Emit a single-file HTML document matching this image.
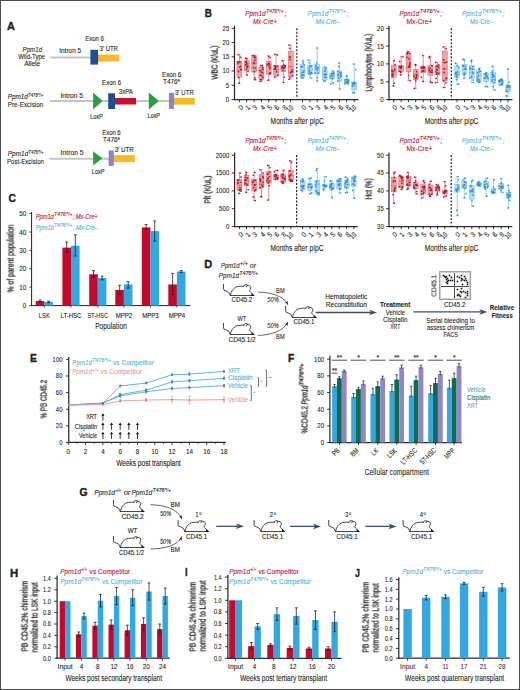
<!DOCTYPE html>
<html><head><meta charset="utf-8"><title>Figure</title>
<style>
html,body{margin:0;padding:0;background:#fff;}
body{width:520px;height:690px;overflow:hidden;}
svg{display:block;position:absolute;left:0;top:0;font-family:"Liberation Sans", sans-serif;}
#w{position:relative;width:520px;height:690px;overflow:hidden;font-family:"Liberation Sans", sans-serif;color:#231f20;}
.t{position:absolute;line-height:1;white-space:nowrap;}
</style></head>
<body>
<div id="w">
<svg width="520" height="690" viewBox="0 0 520 690" fill="#231f20">
<rect x="0.5" y="0.5" width="519" height="689" fill="#fff" stroke="#4d4d4d" stroke-width="1"/>
<text letter-spacing="0.11" font-size="10.4" font-weight="bold" stroke="#231f20" stroke-width="0.35" transform="translate(7 30.2) scale(1.05 1)">A</text>
<text letter-spacing="0.11" font-size="6.7" font-style="italic" stroke="#231f20" stroke-width="0.1" transform="translate(22.55 51.8) scale(0.90 1)">Ppm1d</text>
<text letter-spacing="0.03" font-size="6.7" stroke="#231f20" stroke-width="0.1" transform="translate(18.2 59.4) scale(0.90 1)">Wild-Type</text>
<text x="24.2" y="66.4" letter-spacing="-0.08" font-size="6.7" stroke="#231f20" stroke-width="0.1">Allele</text>
<line x1="50.4" y1="57.4" x2="91" y2="57.4" stroke="#c2c4ca" stroke-width="2"/>
<text letter-spacing="0.06" font-size="6.7" stroke="#231f20" stroke-width="0.1" transform="translate(59.2 53.2) scale(0.95 1)">Intron 5</text>
<rect x="98" y="54.6" width="21.2" height="6.9" fill="#f7b924"/>
<rect x="90.4" y="49.8" width="7.7" height="14.8" fill="#1d4f91"/>
<text letter-spacing="-0.06" font-size="6.7" stroke="#231f20" stroke-width="0.1" transform="translate(85.35 41.1) scale(0.90 1)">Exon 6</text>
<text letter-spacing="-0.04" font-size="6.7" stroke="#231f20" stroke-width="0.1" transform="translate(99.6 50.8) scale(0.90 1)">3' UTR</text>
<text letter-spacing="-0.04" font-size="6.7" font-style="italic" stroke="#231f20" stroke-width="0.1" transform="translate(7.8 99.1) scale(0.95 1)">Ppm1d</text>
<text letter-spacing="0.05" font-size="4.42" font-style="italic" stroke="#231f20" stroke-width="0.1" transform="translate(28.1 96.62) scale(0.95 1)">T476*/+</text>
<text letter-spacing="-0.02" font-size="6.7" stroke="#231f20" stroke-width="0.1" transform="translate(7.8 106.9) scale(0.95 1)">Pre-Excision</text>
<line x1="50" y1="101" x2="169.5" y2="101" stroke="#c2c4ca" stroke-width="2"/>
<text x="60.55" y="97.5" letter-spacing="-0.03" font-size="6.7" stroke="#231f20" stroke-width="0.1">Intron 5</text>
<path d="M93.1 92.4 L102.6 101.0 L93.1 109.6 Z" fill="#2b9e43"/>
<rect x="115" y="98" width="21" height="6.5" fill="#c8102e"/>
<rect x="108.2" y="93.3" width="6.8" height="15.7" fill="#1d4f91"/>
<text letter-spacing="0.01" font-size="6.7" stroke="#231f20" stroke-width="0.1" transform="translate(118.8 94.3) scale(0.90 1)">3xPA</text>
<text letter-spacing="0.05" font-size="6.7" stroke="#231f20" stroke-width="0.1" transform="translate(102.1 84.6) scale(0.90 1)">Exon 6</text>
<text letter-spacing="-0.15" font-size="6.7" stroke="#231f20" stroke-width="0.1" transform="translate(90.3 118.5) scale(0.85 1)">LoxP</text>
<path d="M148.8 92.6 L158.9 101.0 L148.8 109.4 Z" fill="#2b9e43"/>
<text letter-spacing="-0.15" font-size="6.7" stroke="#231f20" stroke-width="0.1" transform="translate(147.5 118.3) scale(0.85 1)">LoxP</text>
<rect x="173.6" y="98" width="21.2" height="6.6" fill="#f7b924"/>
<rect x="169.2" y="93.1" width="4.5" height="15.5" fill="#8a86c8" stroke="#6a64a8" stroke-width="0.5"/>
<text letter-spacing="0.09" font-size="6.7" stroke="#231f20" stroke-width="0.1" transform="translate(174.9 94.9) scale(0.90 1)">3' UTR</text>
<text letter-spacing="-0.09" font-size="6.7" stroke="#231f20" stroke-width="0.1" transform="translate(162 76.9) scale(0.95 1)">Exon 6</text>
<text font-size="6.7" stroke="#231f20" stroke-width="0.1" transform="translate(163 83.9) scale(0.95 1)">T476*</text>
<text letter-spacing="0.11" font-size="6.7" font-style="italic" stroke="#231f20" stroke-width="0.1" transform="translate(7.7 156) scale(0.95 1)">Ppm1d</text>
<text letter-spacing="0.01" font-size="4.42" font-style="italic" stroke="#231f20" stroke-width="0.1" transform="translate(28.6 153.52) scale(0.95 1)">T476*/+</text>
<text letter-spacing="0.04" font-size="6.7" stroke="#231f20" stroke-width="0.1" transform="translate(7 163.8) scale(0.90 1)">Post-Excision</text>
<line x1="49.6" y1="158.7" x2="110" y2="158.7" stroke="#c2c4ca" stroke-width="2"/>
<text x="60.6" y="154.8" letter-spacing="0.04" font-size="6.7" stroke="#231f20" stroke-width="0.1">Intron 5</text>
<path d="M93.1 151.2 L102.4 158.3 L93.1 165.4 Z" fill="#2b9e43"/>
<rect x="113" y="155.2" width="22" height="6.9" fill="#f7b924"/>
<rect x="109" y="150.9" width="4.3" height="14.6" fill="#8a86c8" stroke="#6a64a8" stroke-width="0.5"/>
<text letter-spacing="-0.08" font-size="6.7" stroke="#231f20" stroke-width="0.1" transform="translate(102.3 134.8) scale(0.90 1)">Exon 6</text>
<text font-size="6.7" stroke="#231f20" stroke-width="0.1" transform="translate(103 141.9) scale(0.95 1)">T476*</text>
<text letter-spacing="-0.09" font-size="6.7" stroke="#231f20" stroke-width="0.1" transform="translate(114.8 152.1) scale(0.95 1)">3' UTR</text>
<text letter-spacing="-0.11" font-size="6.7" stroke="#231f20" stroke-width="0.1" transform="translate(91.85 174.3) scale(0.85 1)">LoxP</text>
<text x="8.6" y="202.3" letter-spacing="-0.01" font-size="10.4" font-weight="bold" stroke="#231f20" stroke-width="0.35">C</text>
<line x1="31.6" y1="212" x2="31.6" y2="306.1" stroke="#231f20" stroke-width="1"/>
<line x1="31.1" y1="305.6" x2="190.3" y2="305.6" stroke="#231f20" stroke-width="1"/>
<line x1="29.3" y1="305.6" x2="31.6" y2="305.6" stroke="#231f20" stroke-width="0.8"/>
<text letter-spacing="0.11" font-size="7" stroke="#231f20" stroke-width="0.1" transform="translate(22.8 308.1) scale(0.85 1)">0</text>
<line x1="29.3" y1="287.2" x2="31.6" y2="287.2" stroke="#231f20" stroke-width="0.8"/>
<text font-size="7" stroke="#231f20" stroke-width="0.1" transform="translate(19.2 289.7) scale(0.90 1)">10</text>
<line x1="29.3" y1="268.8" x2="31.6" y2="268.8" stroke="#231f20" stroke-width="0.8"/>
<text font-size="7" stroke="#231f20" stroke-width="0.1" transform="translate(19.2 271.3) scale(0.90 1)">20</text>
<line x1="29.3" y1="250.4" x2="31.6" y2="250.4" stroke="#231f20" stroke-width="0.8"/>
<text font-size="7" stroke="#231f20" stroke-width="0.1" transform="translate(19.2 252.9) scale(0.90 1)">30</text>
<line x1="29.3" y1="232" x2="31.6" y2="232" stroke="#231f20" stroke-width="0.8"/>
<text font-size="7" stroke="#231f20" stroke-width="0.1" transform="translate(19.2 234.5) scale(0.90 1)">40</text>
<line x1="29.3" y1="213.6" x2="31.6" y2="213.6" stroke="#231f20" stroke-width="0.8"/>
<text font-size="7" stroke="#231f20" stroke-width="0.1" transform="translate(19.2 216.1) scale(0.90 1)">50</text>
<text letter-spacing="-0.09" font-size="6.8" font-style="italic" fill="#c40a2c" stroke="#c40a2c" stroke-width="0.1" transform="translate(35.8 218.7) scale(0.85 1)">Ppm1d</text>
<text letter-spacing="0.04" font-size="4.49" font-style="italic" fill="#c40a2c" stroke="#c40a2c" stroke-width="0.1" transform="translate(54.1 216.18) scale(1.15 1)">T476*/+</text>
<text letter-spacing="-0.08" font-size="6.8" font-style="italic" fill="#c40a2c" stroke="#c40a2c" stroke-width="0.1" transform="translate(72.8 218.7) scale(0.85 1)">; Mx-Cre+</text>
<text letter-spacing="-0.09" font-size="6.8" font-style="italic" fill="#4db0e4" stroke="#4db0e4" stroke-width="0.1" transform="translate(35.8 229.5) scale(0.85 1)">Ppm1d</text>
<text letter-spacing="0.04" font-size="4.49" font-style="italic" fill="#4db0e4" stroke="#4db0e4" stroke-width="0.1" transform="translate(54.1 226.98) scale(1.15 1)">T476*/+</text>
<text letter-spacing="-0.05" font-size="6.8" font-style="italic" fill="#4db0e4" stroke="#4db0e4" stroke-width="0.1" transform="translate(72.8 229.5) scale(0.85 1)">; Mx-Cre–</text>
<rect x="35.7" y="301" width="8.6" height="4.6" fill="#c40a2c"/>
<rect x="44.3" y="301.92" width="8.6" height="3.68" fill="#33a7e2"/>
<line x1="40" y1="300.08" x2="40" y2="301.92" stroke="#222" stroke-width="0.8"/>
<line x1="38.5" y1="300.08" x2="41.5" y2="300.08" stroke="#222" stroke-width="0.8"/>
<line x1="38.5" y1="301.92" x2="41.5" y2="301.92" stroke="#222" stroke-width="0.8"/>
<line x1="48.6" y1="301.18" x2="48.6" y2="302.66" stroke="#222" stroke-width="0.8"/>
<line x1="47.1" y1="301.18" x2="50.1" y2="301.18" stroke="#222" stroke-width="0.8"/>
<line x1="47.1" y1="302.66" x2="50.1" y2="302.66" stroke="#222" stroke-width="0.8"/>
<line x1="44.3" y1="305.6" x2="44.3" y2="307.6" stroke="#231f20" stroke-width="0.8"/>
<text letter-spacing="0.04" font-size="6.8" stroke="#231f20" stroke-width="0.1" transform="translate(38.8 317.9) scale(0.85 1)">LSK</text>
<rect x="62.4" y="247.64" width="8.6" height="57.96" fill="#c40a2c"/>
<rect x="71" y="245.8" width="8.6" height="59.8" fill="#33a7e2"/>
<line x1="66.7" y1="242.12" x2="66.7" y2="252.24" stroke="#222" stroke-width="0.8"/>
<line x1="65.2" y1="242.12" x2="68.2" y2="242.12" stroke="#222" stroke-width="0.8"/>
<line x1="65.2" y1="252.24" x2="68.2" y2="252.24" stroke="#222" stroke-width="0.8"/>
<line x1="75.3" y1="234.76" x2="75.3" y2="255.92" stroke="#222" stroke-width="0.8"/>
<line x1="73.8" y1="234.76" x2="76.8" y2="234.76" stroke="#222" stroke-width="0.8"/>
<line x1="73.8" y1="255.92" x2="76.8" y2="255.92" stroke="#222" stroke-width="0.8"/>
<line x1="71" y1="305.6" x2="71" y2="307.6" stroke="#231f20" stroke-width="0.8"/>
<text letter-spacing="-0.07" font-size="6.8" stroke="#231f20" stroke-width="0.1" transform="translate(60.5 317.9) scale(0.90 1)">LT-HSC</text>
<rect x="89.2" y="274.32" width="8.6" height="31.28" fill="#c40a2c"/>
<rect x="97.8" y="278" width="8.6" height="27.6" fill="#33a7e2"/>
<line x1="93.5" y1="270.64" x2="93.5" y2="277.08" stroke="#222" stroke-width="0.8"/>
<line x1="92" y1="270.64" x2="95" y2="270.64" stroke="#222" stroke-width="0.8"/>
<line x1="92" y1="277.08" x2="95" y2="277.08" stroke="#222" stroke-width="0.8"/>
<line x1="102.1" y1="276.16" x2="102.1" y2="279.84" stroke="#222" stroke-width="0.8"/>
<line x1="100.6" y1="276.16" x2="103.6" y2="276.16" stroke="#222" stroke-width="0.8"/>
<line x1="100.6" y1="279.84" x2="103.6" y2="279.84" stroke="#222" stroke-width="0.8"/>
<line x1="97.8" y1="305.6" x2="97.8" y2="307.6" stroke="#231f20" stroke-width="0.8"/>
<text letter-spacing="0.14" font-size="6.8" stroke="#231f20" stroke-width="0.1" transform="translate(87.55 317.9) scale(0.80 1)">ST-HSC</text>
<rect x="115.3" y="289.96" width="8.6" height="15.64" fill="#c40a2c"/>
<rect x="123.9" y="284.44" width="8.6" height="21.16" fill="#33a7e2"/>
<line x1="119.6" y1="285.36" x2="119.6" y2="294.56" stroke="#222" stroke-width="0.8"/>
<line x1="118.1" y1="285.36" x2="121.1" y2="285.36" stroke="#222" stroke-width="0.8"/>
<line x1="118.1" y1="294.56" x2="121.1" y2="294.56" stroke="#222" stroke-width="0.8"/>
<line x1="128.2" y1="281.68" x2="128.2" y2="288.12" stroke="#222" stroke-width="0.8"/>
<line x1="126.7" y1="281.68" x2="129.7" y2="281.68" stroke="#222" stroke-width="0.8"/>
<line x1="126.7" y1="288.12" x2="129.7" y2="288.12" stroke="#222" stroke-width="0.8"/>
<line x1="123.9" y1="305.6" x2="123.9" y2="307.6" stroke="#231f20" stroke-width="0.8"/>
<text letter-spacing="-0.06" font-size="6.8" stroke="#231f20" stroke-width="0.1" transform="translate(115.65 317.9) scale(0.90 1)">MPP2</text>
<rect x="141.8" y="227.4" width="8.6" height="78.2" fill="#c40a2c"/>
<rect x="150.4" y="231.08" width="8.6" height="74.52" fill="#33a7e2"/>
<line x1="146.1" y1="224.64" x2="146.1" y2="229.24" stroke="#222" stroke-width="0.8"/>
<line x1="144.6" y1="224.64" x2="147.6" y2="224.64" stroke="#222" stroke-width="0.8"/>
<line x1="144.6" y1="229.24" x2="147.6" y2="229.24" stroke="#222" stroke-width="0.8"/>
<line x1="154.7" y1="220.96" x2="154.7" y2="241.2" stroke="#222" stroke-width="0.8"/>
<line x1="153.2" y1="220.96" x2="156.2" y2="220.96" stroke="#222" stroke-width="0.8"/>
<line x1="153.2" y1="241.2" x2="156.2" y2="241.2" stroke="#222" stroke-width="0.8"/>
<line x1="150.4" y1="305.6" x2="150.4" y2="307.6" stroke="#231f20" stroke-width="0.8"/>
<text letter-spacing="-0.06" font-size="6.8" stroke="#231f20" stroke-width="0.1" transform="translate(142.15 317.9) scale(0.90 1)">MPP3</text>
<rect x="168.3" y="284.44" width="8.6" height="21.16" fill="#c40a2c"/>
<rect x="176.9" y="271.56" width="8.6" height="34.04" fill="#33a7e2"/>
<line x1="172.6" y1="273.4" x2="172.6" y2="294.56" stroke="#222" stroke-width="0.8"/>
<line x1="171.1" y1="273.4" x2="174.1" y2="273.4" stroke="#222" stroke-width="0.8"/>
<line x1="171.1" y1="294.56" x2="174.1" y2="294.56" stroke="#222" stroke-width="0.8"/>
<line x1="181.2" y1="270.64" x2="181.2" y2="272.48" stroke="#222" stroke-width="0.8"/>
<line x1="179.7" y1="270.64" x2="182.7" y2="270.64" stroke="#222" stroke-width="0.8"/>
<line x1="179.7" y1="272.48" x2="182.7" y2="272.48" stroke="#222" stroke-width="0.8"/>
<line x1="176.9" y1="305.6" x2="176.9" y2="307.6" stroke="#231f20" stroke-width="0.8"/>
<text letter-spacing="-0.06" font-size="6.8" stroke="#231f20" stroke-width="0.1" transform="translate(168.65 317.9) scale(0.90 1)">MPP4</text>
<text letter-spacing="0.08" font-size="8.8" stroke="#231f20" stroke-width="0.1" transform="translate(95.15 328.6) scale(0.75 1)">Population</text>
<text letter-spacing="0.17" font-size="10.4" font-weight="bold" stroke="#231f20" stroke-width="0.35" transform="translate(204.8 16.6) scale(0.95 1)">B</text>
<line x1="234.5" y1="25.8" x2="234.5" y2="100.2" stroke="#2a2a2a" stroke-width="1.25"/>
<line x1="233.9" y1="99.6" x2="358.5" y2="99.6" stroke="#2a2a2a" stroke-width="1.25"/>
<line x1="231.6" y1="99.6" x2="234.5" y2="99.6" stroke="#231f20" stroke-width="0.9"/>
<text letter-spacing="0.11" font-size="7" stroke="#231f20" stroke-width="0.1" transform="translate(225.8 102) scale(0.85 1)">0</text>
<line x1="231.6" y1="85.3" x2="234.5" y2="85.3" stroke="#231f20" stroke-width="0.9"/>
<text letter-spacing="0.11" font-size="7" stroke="#231f20" stroke-width="0.1" transform="translate(225.8 87.7) scale(0.85 1)">5</text>
<line x1="231.6" y1="71" x2="234.5" y2="71" stroke="#231f20" stroke-width="0.9"/>
<text letter-spacing="0.21" font-size="7" stroke="#231f20" stroke-width="0.1" transform="translate(222.4 73.4) scale(0.85 1)">10</text>
<line x1="231.6" y1="56.8" x2="234.5" y2="56.8" stroke="#231f20" stroke-width="0.9"/>
<text letter-spacing="0.21" font-size="7" stroke="#231f20" stroke-width="0.1" transform="translate(222.4 59.2) scale(0.85 1)">15</text>
<line x1="231.6" y1="42.5" x2="234.5" y2="42.5" stroke="#231f20" stroke-width="0.9"/>
<text letter-spacing="0.21" font-size="7" stroke="#231f20" stroke-width="0.1" transform="translate(222.4 44.9) scale(0.85 1)">20</text>
<line x1="231.6" y1="28.4" x2="234.5" y2="28.4" stroke="#231f20" stroke-width="0.9"/>
<text letter-spacing="0.21" font-size="7" stroke="#231f20" stroke-width="0.1" transform="translate(222.4 30.8) scale(0.85 1)">25</text>
<line x1="239.4" y1="99.6" x2="239.4" y2="102.2" stroke="#231f20" stroke-width="0.9"/>
<line x1="246.7" y1="99.6" x2="246.7" y2="102.2" stroke="#231f20" stroke-width="0.9"/>
<line x1="254.1" y1="99.6" x2="254.1" y2="102.2" stroke="#231f20" stroke-width="0.9"/>
<line x1="261.4" y1="99.6" x2="261.4" y2="102.2" stroke="#231f20" stroke-width="0.9"/>
<line x1="268.8" y1="99.6" x2="268.8" y2="102.2" stroke="#231f20" stroke-width="0.9"/>
<line x1="276.1" y1="99.6" x2="276.1" y2="102.2" stroke="#231f20" stroke-width="0.9"/>
<line x1="283.4" y1="99.6" x2="283.4" y2="102.2" stroke="#231f20" stroke-width="0.9"/>
<line x1="290.7" y1="99.6" x2="290.7" y2="102.2" stroke="#231f20" stroke-width="0.9"/>
<line x1="302.5" y1="99.6" x2="302.5" y2="102.2" stroke="#231f20" stroke-width="0.9"/>
<line x1="310" y1="99.6" x2="310" y2="102.2" stroke="#231f20" stroke-width="0.9"/>
<line x1="317.2" y1="99.6" x2="317.2" y2="102.2" stroke="#231f20" stroke-width="0.9"/>
<line x1="324.7" y1="99.6" x2="324.7" y2="102.2" stroke="#231f20" stroke-width="0.9"/>
<line x1="332" y1="99.6" x2="332" y2="102.2" stroke="#231f20" stroke-width="0.9"/>
<line x1="339.5" y1="99.6" x2="339.5" y2="102.2" stroke="#231f20" stroke-width="0.9"/>
<line x1="346.7" y1="99.6" x2="346.7" y2="102.2" stroke="#231f20" stroke-width="0.9"/>
<line x1="354.2" y1="99.6" x2="354.2" y2="102.2" stroke="#231f20" stroke-width="0.9"/>
<line x1="296.8" y1="28.3" x2="296.8" y2="98.6" stroke="#262626" stroke-width="1.2" stroke-dasharray="2 1.5"/>
<line x1="239.4" y1="54.6" x2="239.4" y2="83.2" stroke="#d8404c" stroke-width="0.6"/>
<line x1="238.2" y1="54.6" x2="240.6" y2="54.6" stroke="#d8404c" stroke-width="0.6"/>
<line x1="238.2" y1="83.2" x2="240.6" y2="83.2" stroke="#d8404c" stroke-width="0.6"/>
<rect x="236.9" y="61.2" width="5" height="15.9" fill="#f2a0a0" stroke="#d8404c" stroke-width="0.35"/>
<line x1="236.9" y1="70.2" x2="241.9" y2="70.2" stroke="#d8404c" stroke-width="0.6"/>
<circle cx="237.93" cy="54.6" r="0.85" fill="#b8142f"/>
<circle cx="239.13" cy="83.2" r="0.85" fill="#b8142f"/>
<circle cx="240.58" cy="66.35" r="0.85" fill="#b8142f"/>
<circle cx="238.05" cy="63.6" r="0.85" fill="#b8142f"/>
<circle cx="238.4" cy="71.55" r="0.85" fill="#b8142f"/>
<circle cx="239.86" cy="62.35" r="0.85" fill="#b8142f"/>
<circle cx="241.01" cy="69.72" r="0.85" fill="#b8142f"/>
<circle cx="239.68" cy="67.01" r="0.85" fill="#b8142f"/>
<circle cx="239.03" cy="62.12" r="0.85" fill="#b8142f"/>
<circle cx="241.11" cy="69.27" r="0.85" fill="#b8142f"/>
<circle cx="237.77" cy="61.8" r="0.85" fill="#b8142f"/>
<circle cx="240.69" cy="57.46" r="0.85" fill="#b8142f"/>
<circle cx="238.64" cy="77.53" r="0.85" fill="#b8142f"/>
<line x1="246.7" y1="58.4" x2="246.7" y2="75" stroke="#d8404c" stroke-width="0.6"/>
<line x1="245.5" y1="58.4" x2="247.9" y2="58.4" stroke="#d8404c" stroke-width="0.6"/>
<line x1="245.5" y1="75" x2="247.9" y2="75" stroke="#d8404c" stroke-width="0.6"/>
<rect x="244.2" y="60.7" width="5" height="10.3" fill="#f2a0a0" stroke="#d8404c" stroke-width="0.35"/>
<line x1="244.2" y1="65.3" x2="249.2" y2="65.3" stroke="#d8404c" stroke-width="0.6"/>
<circle cx="245.64" cy="58.4" r="0.85" fill="#b8142f"/>
<circle cx="247.35" cy="75" r="0.85" fill="#b8142f"/>
<circle cx="246.44" cy="62.19" r="0.85" fill="#b8142f"/>
<circle cx="246.03" cy="61.91" r="0.85" fill="#b8142f"/>
<circle cx="247.01" cy="63.88" r="0.85" fill="#b8142f"/>
<circle cx="246.53" cy="69.11" r="0.85" fill="#b8142f"/>
<circle cx="245.98" cy="62.56" r="0.85" fill="#b8142f"/>
<circle cx="247.76" cy="66.69" r="0.85" fill="#b8142f"/>
<circle cx="247.42" cy="67.28" r="0.85" fill="#b8142f"/>
<circle cx="245.78" cy="64.54" r="0.85" fill="#b8142f"/>
<circle cx="246.97" cy="66.34" r="0.85" fill="#b8142f"/>
<circle cx="246.79" cy="58.54" r="0.85" fill="#b8142f"/>
<circle cx="248.05" cy="71.24" r="0.85" fill="#b8142f"/>
<line x1="254.1" y1="55.5" x2="254.1" y2="79.7" stroke="#d8404c" stroke-width="0.6"/>
<line x1="252.9" y1="55.5" x2="255.3" y2="55.5" stroke="#d8404c" stroke-width="0.6"/>
<line x1="252.9" y1="79.7" x2="255.3" y2="79.7" stroke="#d8404c" stroke-width="0.6"/>
<rect x="251.6" y="55.5" width="5" height="16.5" fill="#f2a0a0" stroke="#d8404c" stroke-width="0.35"/>
<line x1="251.6" y1="63.3" x2="256.6" y2="63.3" stroke="#d8404c" stroke-width="0.6"/>
<circle cx="254.36" cy="55.5" r="0.85" fill="#b8142f"/>
<circle cx="255.45" cy="79.7" r="0.85" fill="#b8142f"/>
<circle cx="253.43" cy="67.54" r="0.85" fill="#b8142f"/>
<circle cx="254.8" cy="60.25" r="0.85" fill="#b8142f"/>
<circle cx="254.44" cy="71.67" r="0.85" fill="#b8142f"/>
<circle cx="254.39" cy="57.45" r="0.85" fill="#b8142f"/>
<circle cx="253.94" cy="62.4" r="0.85" fill="#b8142f"/>
<circle cx="255.32" cy="67.99" r="0.85" fill="#b8142f"/>
<circle cx="255.7" cy="58.01" r="0.85" fill="#b8142f"/>
<circle cx="254.01" cy="63.57" r="0.85" fill="#b8142f"/>
<circle cx="254.69" cy="56.15" r="0.85" fill="#b8142f"/>
<circle cx="252.52" cy="55.5" r="0.85" fill="#b8142f"/>
<circle cx="254.83" cy="77.89" r="0.85" fill="#b8142f"/>
<line x1="261.4" y1="65.3" x2="261.4" y2="81.4" stroke="#d8404c" stroke-width="0.6"/>
<line x1="260.2" y1="65.3" x2="262.6" y2="65.3" stroke="#d8404c" stroke-width="0.6"/>
<line x1="260.2" y1="81.4" x2="262.6" y2="81.4" stroke="#d8404c" stroke-width="0.6"/>
<rect x="258.9" y="67" width="5" height="12.7" fill="#f2a0a0" stroke="#d8404c" stroke-width="0.35"/>
<line x1="258.9" y1="70.2" x2="263.9" y2="70.2" stroke="#d8404c" stroke-width="0.6"/>
<circle cx="262.37" cy="65.3" r="0.85" fill="#b8142f"/>
<circle cx="260.07" cy="81.4" r="0.85" fill="#b8142f"/>
<circle cx="260.49" cy="75.22" r="0.85" fill="#b8142f"/>
<circle cx="261.01" cy="79.61" r="0.85" fill="#b8142f"/>
<circle cx="262.74" cy="77.44" r="0.85" fill="#b8142f"/>
<circle cx="259.89" cy="70.61" r="0.85" fill="#b8142f"/>
<circle cx="261.22" cy="71.9" r="0.85" fill="#b8142f"/>
<circle cx="261.58" cy="75.49" r="0.85" fill="#b8142f"/>
<circle cx="262.78" cy="67.29" r="0.85" fill="#b8142f"/>
<circle cx="262.55" cy="72.86" r="0.85" fill="#b8142f"/>
<circle cx="262.71" cy="69.13" r="0.85" fill="#b8142f"/>
<circle cx="260.6" cy="65.5" r="0.85" fill="#b8142f"/>
<circle cx="261.1" cy="79.8" r="0.85" fill="#b8142f"/>
<line x1="268.8" y1="56" x2="268.8" y2="80.2" stroke="#d8404c" stroke-width="0.6"/>
<line x1="267.6" y1="56" x2="270" y2="56" stroke="#d8404c" stroke-width="0.6"/>
<line x1="267.6" y1="80.2" x2="270" y2="80.2" stroke="#d8404c" stroke-width="0.6"/>
<rect x="266.3" y="61.5" width="5" height="12.5" fill="#f2a0a0" stroke="#d8404c" stroke-width="0.35"/>
<line x1="266.3" y1="65.9" x2="271.3" y2="65.9" stroke="#d8404c" stroke-width="0.6"/>
<circle cx="268.51" cy="56" r="0.85" fill="#b8142f"/>
<circle cx="268.33" cy="80.2" r="0.85" fill="#b8142f"/>
<circle cx="269.04" cy="65.98" r="0.85" fill="#b8142f"/>
<circle cx="270.43" cy="72.55" r="0.85" fill="#b8142f"/>
<circle cx="269.49" cy="73.47" r="0.85" fill="#b8142f"/>
<circle cx="268.86" cy="63.39" r="0.85" fill="#b8142f"/>
<circle cx="269.22" cy="63.7" r="0.85" fill="#b8142f"/>
<circle cx="269.43" cy="64.4" r="0.85" fill="#b8142f"/>
<circle cx="267.19" cy="64.42" r="0.85" fill="#b8142f"/>
<circle cx="270.24" cy="67.56" r="0.85" fill="#b8142f"/>
<circle cx="269.81" cy="68.86" r="0.85" fill="#b8142f"/>
<circle cx="270.15" cy="57.45" r="0.85" fill="#b8142f"/>
<circle cx="269.87" cy="74.03" r="0.85" fill="#b8142f"/>
<line x1="276.1" y1="54.3" x2="276.1" y2="77.1" stroke="#d8404c" stroke-width="0.6"/>
<line x1="274.9" y1="54.3" x2="277.3" y2="54.3" stroke="#d8404c" stroke-width="0.6"/>
<line x1="274.9" y1="77.1" x2="277.3" y2="77.1" stroke="#d8404c" stroke-width="0.6"/>
<rect x="273.6" y="65.3" width="5" height="10.1" fill="#f2a0a0" stroke="#d8404c" stroke-width="0.35"/>
<line x1="273.6" y1="69.8" x2="278.6" y2="69.8" stroke="#d8404c" stroke-width="0.6"/>
<circle cx="274.84" cy="54.3" r="0.85" fill="#b8142f"/>
<circle cx="274.67" cy="77.1" r="0.85" fill="#b8142f"/>
<circle cx="275.61" cy="69.26" r="0.85" fill="#b8142f"/>
<circle cx="274.39" cy="69.33" r="0.85" fill="#b8142f"/>
<circle cx="277.45" cy="66.35" r="0.85" fill="#b8142f"/>
<circle cx="276.51" cy="71.71" r="0.85" fill="#b8142f"/>
<circle cx="274.83" cy="65.93" r="0.85" fill="#b8142f"/>
<circle cx="275.21" cy="65.98" r="0.85" fill="#b8142f"/>
<circle cx="275.55" cy="67.41" r="0.85" fill="#b8142f"/>
<circle cx="275.61" cy="66.94" r="0.85" fill="#b8142f"/>
<circle cx="274.74" cy="68.73" r="0.85" fill="#b8142f"/>
<circle cx="277.36" cy="54.88" r="0.85" fill="#b8142f"/>
<circle cx="277.88" cy="75.4" r="0.85" fill="#b8142f"/>
<line x1="283.4" y1="60.7" x2="283.4" y2="82.3" stroke="#d8404c" stroke-width="0.6"/>
<line x1="282.2" y1="60.7" x2="284.6" y2="60.7" stroke="#d8404c" stroke-width="0.6"/>
<line x1="282.2" y1="82.3" x2="284.6" y2="82.3" stroke="#d8404c" stroke-width="0.6"/>
<rect x="280.9" y="65.3" width="5" height="6.3" fill="#f2a0a0" stroke="#d8404c" stroke-width="0.35"/>
<line x1="280.9" y1="67.6" x2="285.9" y2="67.6" stroke="#d8404c" stroke-width="0.6"/>
<circle cx="282.13" cy="60.7" r="0.85" fill="#b8142f"/>
<circle cx="283.56" cy="82.3" r="0.85" fill="#b8142f"/>
<circle cx="281.7" cy="68.24" r="0.85" fill="#b8142f"/>
<circle cx="283.5" cy="68.35" r="0.85" fill="#b8142f"/>
<circle cx="285.12" cy="65.84" r="0.85" fill="#b8142f"/>
<circle cx="284.71" cy="65.94" r="0.85" fill="#b8142f"/>
<circle cx="284.11" cy="67.46" r="0.85" fill="#b8142f"/>
<circle cx="282.54" cy="66.97" r="0.85" fill="#b8142f"/>
<circle cx="282.92" cy="70.52" r="0.85" fill="#b8142f"/>
<circle cx="282.2" cy="66.32" r="0.85" fill="#b8142f"/>
<circle cx="284.38" cy="65.45" r="0.85" fill="#b8142f"/>
<circle cx="283.52" cy="65.07" r="0.85" fill="#b8142f"/>
<circle cx="284.4" cy="77.25" r="0.85" fill="#b8142f"/>
<line x1="290.7" y1="45.1" x2="290.7" y2="79.2" stroke="#d8404c" stroke-width="0.6"/>
<line x1="289.5" y1="45.1" x2="291.9" y2="45.1" stroke="#d8404c" stroke-width="0.6"/>
<line x1="289.5" y1="79.2" x2="291.9" y2="79.2" stroke="#d8404c" stroke-width="0.6"/>
<rect x="288.2" y="51.5" width="5" height="24.7" fill="#f2a0a0" stroke="#d8404c" stroke-width="0.35"/>
<line x1="288.2" y1="66.7" x2="293.2" y2="66.7" stroke="#d8404c" stroke-width="0.6"/>
<circle cx="289" cy="45.1" r="0.85" fill="#b8142f"/>
<circle cx="289" cy="79.2" r="0.85" fill="#b8142f"/>
<circle cx="289.91" cy="59.64" r="0.85" fill="#b8142f"/>
<circle cx="289.83" cy="57.01" r="0.85" fill="#b8142f"/>
<circle cx="291.39" cy="71.54" r="0.85" fill="#b8142f"/>
<circle cx="292.34" cy="75.83" r="0.85" fill="#b8142f"/>
<circle cx="290.51" cy="72.56" r="0.85" fill="#b8142f"/>
<circle cx="292.27" cy="71.41" r="0.85" fill="#b8142f"/>
<circle cx="292.46" cy="71.71" r="0.85" fill="#b8142f"/>
<circle cx="292.34" cy="69.77" r="0.85" fill="#b8142f"/>
<circle cx="290.21" cy="57.1" r="0.85" fill="#b8142f"/>
<circle cx="289.69" cy="48.41" r="0.85" fill="#b8142f"/>
<circle cx="289.72" cy="77.27" r="0.85" fill="#b8142f"/>
<line x1="302.5" y1="61" x2="302.5" y2="78" stroke="#56b0e3" stroke-width="0.6"/>
<line x1="301.3" y1="61" x2="303.7" y2="61" stroke="#56b0e3" stroke-width="0.6"/>
<line x1="301.3" y1="78" x2="303.7" y2="78" stroke="#56b0e3" stroke-width="0.6"/>
<rect x="300" y="64" width="5" height="13" fill="#b3daf3" stroke="#56b0e3" stroke-width="0.35"/>
<line x1="300" y1="71" x2="305" y2="71" stroke="#56b0e3" stroke-width="0.6"/>
<circle cx="303.52" cy="61" r="0.85" fill="#2f93d2"/>
<circle cx="303.4" cy="78" r="0.85" fill="#2f93d2"/>
<circle cx="302.42" cy="66.56" r="0.85" fill="#2f93d2"/>
<circle cx="301.34" cy="66.66" r="0.85" fill="#2f93d2"/>
<circle cx="303.54" cy="72.11" r="0.85" fill="#2f93d2"/>
<circle cx="301.9" cy="75.7" r="0.85" fill="#2f93d2"/>
<circle cx="303.58" cy="74.93" r="0.85" fill="#2f93d2"/>
<circle cx="304.2" cy="70.23" r="0.85" fill="#2f93d2"/>
<circle cx="302.13" cy="72.49" r="0.85" fill="#2f93d2"/>
<circle cx="302.14" cy="74.4" r="0.85" fill="#2f93d2"/>
<circle cx="304.11" cy="65.1" r="0.85" fill="#2f93d2"/>
<circle cx="303.31" cy="62.98" r="0.85" fill="#2f93d2"/>
<circle cx="301.31" cy="77.91" r="0.85" fill="#2f93d2"/>
<line x1="310" y1="60" x2="310" y2="78" stroke="#56b0e3" stroke-width="0.6"/>
<line x1="308.8" y1="60" x2="311.2" y2="60" stroke="#56b0e3" stroke-width="0.6"/>
<line x1="308.8" y1="78" x2="311.2" y2="78" stroke="#56b0e3" stroke-width="0.6"/>
<rect x="307.5" y="65" width="5" height="9" fill="#b3daf3" stroke="#56b0e3" stroke-width="0.35"/>
<line x1="307.5" y1="70" x2="312.5" y2="70" stroke="#56b0e3" stroke-width="0.6"/>
<circle cx="308.25" cy="60" r="0.85" fill="#2f93d2"/>
<circle cx="311.7" cy="78" r="0.85" fill="#2f93d2"/>
<circle cx="310.54" cy="66.14" r="0.85" fill="#2f93d2"/>
<circle cx="310.1" cy="66.36" r="0.85" fill="#2f93d2"/>
<circle cx="311.56" cy="73.14" r="0.85" fill="#2f93d2"/>
<circle cx="309.76" cy="72.26" r="0.85" fill="#2f93d2"/>
<circle cx="311.34" cy="66.32" r="0.85" fill="#2f93d2"/>
<circle cx="311.17" cy="72.44" r="0.85" fill="#2f93d2"/>
<circle cx="308.96" cy="73.82" r="0.85" fill="#2f93d2"/>
<circle cx="309.11" cy="70.92" r="0.85" fill="#2f93d2"/>
<circle cx="309.25" cy="68.15" r="0.85" fill="#2f93d2"/>
<circle cx="309.07" cy="62.74" r="0.85" fill="#2f93d2"/>
<circle cx="310.31" cy="74.52" r="0.85" fill="#2f93d2"/>
<line x1="317.2" y1="48" x2="317.2" y2="81" stroke="#56b0e3" stroke-width="0.6"/>
<line x1="316" y1="48" x2="318.4" y2="48" stroke="#56b0e3" stroke-width="0.6"/>
<line x1="316" y1="81" x2="318.4" y2="81" stroke="#56b0e3" stroke-width="0.6"/>
<rect x="314.7" y="64" width="5" height="10" fill="#b3daf3" stroke="#56b0e3" stroke-width="0.35"/>
<line x1="314.7" y1="70" x2="319.7" y2="70" stroke="#56b0e3" stroke-width="0.6"/>
<circle cx="317.31" cy="48" r="0.85" fill="#2f93d2"/>
<circle cx="317.28" cy="81" r="0.85" fill="#2f93d2"/>
<circle cx="315.47" cy="66.59" r="0.85" fill="#2f93d2"/>
<circle cx="316.98" cy="68.19" r="0.85" fill="#2f93d2"/>
<circle cx="316.06" cy="65.31" r="0.85" fill="#2f93d2"/>
<circle cx="315.41" cy="73.1" r="0.85" fill="#2f93d2"/>
<circle cx="318.28" cy="67.54" r="0.85" fill="#2f93d2"/>
<circle cx="316.02" cy="68.58" r="0.85" fill="#2f93d2"/>
<circle cx="317.1" cy="69.83" r="0.85" fill="#2f93d2"/>
<circle cx="318.01" cy="73.04" r="0.85" fill="#2f93d2"/>
<circle cx="317.4" cy="68.21" r="0.85" fill="#2f93d2"/>
<circle cx="316.57" cy="62.68" r="0.85" fill="#2f93d2"/>
<circle cx="317.27" cy="77.51" r="0.85" fill="#2f93d2"/>
<line x1="324.7" y1="67" x2="324.7" y2="81" stroke="#56b0e3" stroke-width="0.6"/>
<line x1="323.5" y1="67" x2="325.9" y2="67" stroke="#56b0e3" stroke-width="0.6"/>
<line x1="323.5" y1="81" x2="325.9" y2="81" stroke="#56b0e3" stroke-width="0.6"/>
<rect x="322.2" y="68" width="5" height="12" fill="#b3daf3" stroke="#56b0e3" stroke-width="0.35"/>
<line x1="322.2" y1="74" x2="327.2" y2="74" stroke="#56b0e3" stroke-width="0.6"/>
<circle cx="324.5" cy="67" r="0.85" fill="#2f93d2"/>
<circle cx="325.11" cy="81" r="0.85" fill="#2f93d2"/>
<circle cx="324.72" cy="74.67" r="0.85" fill="#2f93d2"/>
<circle cx="324.74" cy="77.41" r="0.85" fill="#2f93d2"/>
<circle cx="325.39" cy="69.27" r="0.85" fill="#2f93d2"/>
<circle cx="324.53" cy="74.72" r="0.85" fill="#2f93d2"/>
<circle cx="324.82" cy="70.98" r="0.85" fill="#2f93d2"/>
<circle cx="324.62" cy="71.32" r="0.85" fill="#2f93d2"/>
<circle cx="326.29" cy="77.27" r="0.85" fill="#2f93d2"/>
<circle cx="325.42" cy="74.09" r="0.85" fill="#2f93d2"/>
<circle cx="326.06" cy="74.74" r="0.85" fill="#2f93d2"/>
<circle cx="326.29" cy="67.76" r="0.85" fill="#2f93d2"/>
<circle cx="323.83" cy="80.91" r="0.85" fill="#2f93d2"/>
<line x1="332" y1="71" x2="332" y2="84" stroke="#56b0e3" stroke-width="0.6"/>
<line x1="330.8" y1="71" x2="333.2" y2="71" stroke="#56b0e3" stroke-width="0.6"/>
<line x1="330.8" y1="84" x2="333.2" y2="84" stroke="#56b0e3" stroke-width="0.6"/>
<rect x="329.5" y="73" width="5" height="6" fill="#b3daf3" stroke="#56b0e3" stroke-width="0.35"/>
<line x1="329.5" y1="76" x2="334.5" y2="76" stroke="#56b0e3" stroke-width="0.6"/>
<circle cx="333.43" cy="71" r="0.85" fill="#2f93d2"/>
<circle cx="330.76" cy="84" r="0.85" fill="#2f93d2"/>
<circle cx="332.78" cy="76.36" r="0.85" fill="#2f93d2"/>
<circle cx="332.58" cy="78.66" r="0.85" fill="#2f93d2"/>
<circle cx="330.71" cy="78.04" r="0.85" fill="#2f93d2"/>
<circle cx="333.38" cy="73.82" r="0.85" fill="#2f93d2"/>
<circle cx="333.68" cy="73.73" r="0.85" fill="#2f93d2"/>
<circle cx="330.99" cy="75.65" r="0.85" fill="#2f93d2"/>
<circle cx="333.63" cy="73.44" r="0.85" fill="#2f93d2"/>
<circle cx="331.63" cy="74.44" r="0.85" fill="#2f93d2"/>
<circle cx="331.95" cy="73.44" r="0.85" fill="#2f93d2"/>
<circle cx="333.76" cy="72.34" r="0.85" fill="#2f93d2"/>
<circle cx="333.2" cy="82.92" r="0.85" fill="#2f93d2"/>
<line x1="339.5" y1="63" x2="339.5" y2="89" stroke="#56b0e3" stroke-width="0.6"/>
<line x1="338.3" y1="63" x2="340.7" y2="63" stroke="#56b0e3" stroke-width="0.6"/>
<line x1="338.3" y1="89" x2="340.7" y2="89" stroke="#56b0e3" stroke-width="0.6"/>
<rect x="337" y="71" width="5" height="10" fill="#b3daf3" stroke="#56b0e3" stroke-width="0.35"/>
<line x1="337" y1="76" x2="342" y2="76" stroke="#56b0e3" stroke-width="0.6"/>
<circle cx="338.89" cy="63" r="0.85" fill="#2f93d2"/>
<circle cx="339.95" cy="89" r="0.85" fill="#2f93d2"/>
<circle cx="339.54" cy="72.61" r="0.85" fill="#2f93d2"/>
<circle cx="337.93" cy="75.32" r="0.85" fill="#2f93d2"/>
<circle cx="341.25" cy="76.16" r="0.85" fill="#2f93d2"/>
<circle cx="340.54" cy="74.39" r="0.85" fill="#2f93d2"/>
<circle cx="341.2" cy="72.96" r="0.85" fill="#2f93d2"/>
<circle cx="338.08" cy="74.19" r="0.85" fill="#2f93d2"/>
<circle cx="338.66" cy="78.22" r="0.85" fill="#2f93d2"/>
<circle cx="337.84" cy="71.19" r="0.85" fill="#2f93d2"/>
<circle cx="340.5" cy="76.54" r="0.85" fill="#2f93d2"/>
<circle cx="338.67" cy="66.52" r="0.85" fill="#2f93d2"/>
<circle cx="338.17" cy="81.14" r="0.85" fill="#2f93d2"/>
<line x1="346.7" y1="76" x2="346.7" y2="84" stroke="#56b0e3" stroke-width="0.6"/>
<line x1="345.5" y1="76" x2="347.9" y2="76" stroke="#56b0e3" stroke-width="0.6"/>
<line x1="345.5" y1="84" x2="347.9" y2="84" stroke="#56b0e3" stroke-width="0.6"/>
<rect x="344.2" y="79" width="5" height="4" fill="#b3daf3" stroke="#56b0e3" stroke-width="0.35"/>
<line x1="344.2" y1="81" x2="349.2" y2="81" stroke="#56b0e3" stroke-width="0.6"/>
<circle cx="346.43" cy="76" r="0.85" fill="#2f93d2"/>
<circle cx="345.16" cy="84" r="0.85" fill="#2f93d2"/>
<circle cx="348.28" cy="80.69" r="0.85" fill="#2f93d2"/>
<circle cx="347.18" cy="82.65" r="0.85" fill="#2f93d2"/>
<circle cx="347.79" cy="82.28" r="0.85" fill="#2f93d2"/>
<circle cx="345.2" cy="80.03" r="0.85" fill="#2f93d2"/>
<circle cx="347.98" cy="79.6" r="0.85" fill="#2f93d2"/>
<circle cx="345.14" cy="82.68" r="0.85" fill="#2f93d2"/>
<circle cx="348.01" cy="81.28" r="0.85" fill="#2f93d2"/>
<circle cx="346.53" cy="81.8" r="0.85" fill="#2f93d2"/>
<circle cx="346.12" cy="79.36" r="0.85" fill="#2f93d2"/>
<circle cx="346.89" cy="76.17" r="0.85" fill="#2f93d2"/>
<circle cx="348.24" cy="83.69" r="0.85" fill="#2f93d2"/>
<line x1="354.2" y1="64" x2="354.2" y2="93" stroke="#56b0e3" stroke-width="0.6"/>
<line x1="353" y1="64" x2="355.4" y2="64" stroke="#56b0e3" stroke-width="0.6"/>
<line x1="353" y1="93" x2="355.4" y2="93" stroke="#56b0e3" stroke-width="0.6"/>
<rect x="351.7" y="82" width="5" height="8" fill="#b3daf3" stroke="#56b0e3" stroke-width="0.35"/>
<line x1="351.7" y1="86" x2="356.7" y2="86" stroke="#56b0e3" stroke-width="0.6"/>
<circle cx="353.44" cy="64" r="0.85" fill="#2f93d2"/>
<circle cx="354.2" cy="93" r="0.85" fill="#2f93d2"/>
<circle cx="353.04" cy="84.14" r="0.85" fill="#2f93d2"/>
<circle cx="353.65" cy="83.03" r="0.85" fill="#2f93d2"/>
<circle cx="352.47" cy="86.22" r="0.85" fill="#2f93d2"/>
<circle cx="353.3" cy="83.91" r="0.85" fill="#2f93d2"/>
<circle cx="352.46" cy="82.88" r="0.85" fill="#2f93d2"/>
<circle cx="355.04" cy="83.29" r="0.85" fill="#2f93d2"/>
<circle cx="354.38" cy="82.4" r="0.85" fill="#2f93d2"/>
<circle cx="353.08" cy="83.61" r="0.85" fill="#2f93d2"/>
<circle cx="354.11" cy="84.5" r="0.85" fill="#2f93d2"/>
<circle cx="355.76" cy="69.49" r="0.85" fill="#2f93d2"/>
<circle cx="352.78" cy="92.28" r="0.85" fill="#2f93d2"/>
<text letter-spacing="0.06" font-size="8.8" stroke="#231f20" stroke-width="0.1" transform="translate(270.6 123.7) scale(0.75 1)">Months after pIpC</text>
<text letter-spacing="-0.02" font-size="6.8" font-style="italic" fill="#c40a2c" stroke="#c40a2c" stroke-width="0.1" transform="translate(245.2 16) scale(0.95 1)">Ppm1d</text>
<text letter-spacing="-0.05" font-size="4.5" font-style="italic" fill="#c40a2c" stroke="#c40a2c" stroke-width="0.1" transform="translate(265.9 13.48) scale(1.15 1)">T476*/+</text>
<text x="284.6" y="16" font-size="6.8" font-style="italic" fill="#c40a2c" stroke="#c40a2c" stroke-width="0.1">;</text>
<text letter-spacing="0.11" font-size="6.8" font-style="italic" fill="#c40a2c" stroke="#c40a2c" stroke-width="0.1" transform="translate(252.9 23.5) scale(0.90 1)">Mx-Cre+</text>
<text letter-spacing="0.09" font-size="6.8" font-style="italic" fill="#4db0e4" stroke="#4db0e4" stroke-width="0.1" transform="translate(307.5 16) scale(0.95 1)">Ppm1d</text>
<text font-size="4.5" font-style="italic" fill="#4db0e4" stroke="#4db0e4" stroke-width="0.1" transform="translate(328.6 13.48) scale(1.10 1)">T476*/+</text>
<text x="346.8" y="16" font-size="6.8" font-style="italic" fill="#4db0e4" stroke="#4db0e4" stroke-width="0.1">;</text>
<text letter-spacing="-0.10" font-size="6.8" font-style="italic" fill="#4db0e4" stroke="#4db0e4" stroke-width="0.1" transform="translate(315.6 23.5) scale(0.95 1)">Mx-Cre–</text>
<line x1="389" y1="25.8" x2="389" y2="100.2" stroke="#2a2a2a" stroke-width="1.25"/>
<line x1="388.4" y1="99.6" x2="512.5" y2="99.6" stroke="#2a2a2a" stroke-width="1.25"/>
<line x1="386.1" y1="99.6" x2="389" y2="99.6" stroke="#231f20" stroke-width="0.9"/>
<text letter-spacing="0.11" font-size="7" stroke="#231f20" stroke-width="0.1" transform="translate(380.3 102) scale(0.85 1)">0</text>
<line x1="386.1" y1="81.8" x2="389" y2="81.8" stroke="#231f20" stroke-width="0.9"/>
<text letter-spacing="0.11" font-size="7" stroke="#231f20" stroke-width="0.1" transform="translate(380.3 84.2) scale(0.85 1)">5</text>
<line x1="386.1" y1="63.9" x2="389" y2="63.9" stroke="#231f20" stroke-width="0.9"/>
<text letter-spacing="0.21" font-size="7" stroke="#231f20" stroke-width="0.1" transform="translate(376.9 66.3) scale(0.85 1)">10</text>
<line x1="386.1" y1="46.1" x2="389" y2="46.1" stroke="#231f20" stroke-width="0.9"/>
<text letter-spacing="0.21" font-size="7" stroke="#231f20" stroke-width="0.1" transform="translate(376.9 48.5) scale(0.85 1)">15</text>
<line x1="386.1" y1="28.4" x2="389" y2="28.4" stroke="#231f20" stroke-width="0.9"/>
<text letter-spacing="0.21" font-size="7" stroke="#231f20" stroke-width="0.1" transform="translate(376.9 30.8) scale(0.85 1)">20</text>
<line x1="393.7" y1="99.6" x2="393.7" y2="102.2" stroke="#231f20" stroke-width="0.9"/>
<line x1="401.2" y1="99.6" x2="401.2" y2="102.2" stroke="#231f20" stroke-width="0.9"/>
<line x1="408.5" y1="99.6" x2="408.5" y2="102.2" stroke="#231f20" stroke-width="0.9"/>
<line x1="415.7" y1="99.6" x2="415.7" y2="102.2" stroke="#231f20" stroke-width="0.9"/>
<line x1="423.2" y1="99.6" x2="423.2" y2="102.2" stroke="#231f20" stroke-width="0.9"/>
<line x1="430.4" y1="99.6" x2="430.4" y2="102.2" stroke="#231f20" stroke-width="0.9"/>
<line x1="437.5" y1="99.6" x2="437.5" y2="102.2" stroke="#231f20" stroke-width="0.9"/>
<line x1="444.8" y1="99.6" x2="444.8" y2="102.2" stroke="#231f20" stroke-width="0.9"/>
<line x1="457" y1="99.6" x2="457" y2="102.2" stroke="#231f20" stroke-width="0.9"/>
<line x1="464.5" y1="99.6" x2="464.5" y2="102.2" stroke="#231f20" stroke-width="0.9"/>
<line x1="471.7" y1="99.6" x2="471.7" y2="102.2" stroke="#231f20" stroke-width="0.9"/>
<line x1="478.8" y1="99.6" x2="478.8" y2="102.2" stroke="#231f20" stroke-width="0.9"/>
<line x1="486.2" y1="99.6" x2="486.2" y2="102.2" stroke="#231f20" stroke-width="0.9"/>
<line x1="493.3" y1="99.6" x2="493.3" y2="102.2" stroke="#231f20" stroke-width="0.9"/>
<line x1="500.8" y1="99.6" x2="500.8" y2="102.2" stroke="#231f20" stroke-width="0.9"/>
<line x1="508" y1="99.6" x2="508" y2="102.2" stroke="#231f20" stroke-width="0.9"/>
<line x1="451.3" y1="28.3" x2="451.3" y2="98.6" stroke="#262626" stroke-width="1.2" stroke-dasharray="2 1.5"/>
<line x1="393.7" y1="60.7" x2="393.7" y2="85.8" stroke="#d8404c" stroke-width="0.6"/>
<line x1="392.5" y1="60.7" x2="394.9" y2="60.7" stroke="#d8404c" stroke-width="0.6"/>
<line x1="392.5" y1="85.8" x2="394.9" y2="85.8" stroke="#d8404c" stroke-width="0.6"/>
<rect x="391.2" y="65.3" width="5" height="11.8" fill="#f2a0a0" stroke="#d8404c" stroke-width="0.35"/>
<line x1="391.2" y1="71.9" x2="396.2" y2="71.9" stroke="#d8404c" stroke-width="0.6"/>
<circle cx="394.19" cy="60.7" r="0.85" fill="#b8142f"/>
<circle cx="393.36" cy="85.8" r="0.85" fill="#b8142f"/>
<circle cx="393.15" cy="74.96" r="0.85" fill="#b8142f"/>
<circle cx="392.1" cy="70.4" r="0.85" fill="#b8142f"/>
<circle cx="392.37" cy="71.14" r="0.85" fill="#b8142f"/>
<circle cx="392.15" cy="75.15" r="0.85" fill="#b8142f"/>
<circle cx="394.57" cy="69.94" r="0.85" fill="#b8142f"/>
<circle cx="392.82" cy="71.28" r="0.85" fill="#b8142f"/>
<circle cx="392.49" cy="73.42" r="0.85" fill="#b8142f"/>
<circle cx="392.2" cy="76.89" r="0.85" fill="#b8142f"/>
<circle cx="394.93" cy="69.34" r="0.85" fill="#b8142f"/>
<circle cx="395.03" cy="64.53" r="0.85" fill="#b8142f"/>
<circle cx="394.31" cy="83.25" r="0.85" fill="#b8142f"/>
<line x1="401.2" y1="56.7" x2="401.2" y2="75" stroke="#d8404c" stroke-width="0.6"/>
<line x1="400" y1="56.7" x2="402.4" y2="56.7" stroke="#d8404c" stroke-width="0.6"/>
<line x1="400" y1="75" x2="402.4" y2="75" stroke="#d8404c" stroke-width="0.6"/>
<rect x="398.7" y="65.3" width="5" height="6.3" fill="#f2a0a0" stroke="#d8404c" stroke-width="0.35"/>
<line x1="398.7" y1="66.4" x2="403.7" y2="66.4" stroke="#d8404c" stroke-width="0.6"/>
<circle cx="402.88" cy="56.7" r="0.85" fill="#b8142f"/>
<circle cx="400.51" cy="75" r="0.85" fill="#b8142f"/>
<circle cx="400.68" cy="67.08" r="0.85" fill="#b8142f"/>
<circle cx="399.4" cy="66.83" r="0.85" fill="#b8142f"/>
<circle cx="400.77" cy="67.15" r="0.85" fill="#b8142f"/>
<circle cx="401.11" cy="68.19" r="0.85" fill="#b8142f"/>
<circle cx="401.21" cy="66.29" r="0.85" fill="#b8142f"/>
<circle cx="400.12" cy="68.11" r="0.85" fill="#b8142f"/>
<circle cx="401.22" cy="66.96" r="0.85" fill="#b8142f"/>
<circle cx="399.42" cy="71.36" r="0.85" fill="#b8142f"/>
<circle cx="400.35" cy="71.43" r="0.85" fill="#b8142f"/>
<circle cx="399.72" cy="61.4" r="0.85" fill="#b8142f"/>
<circle cx="400.84" cy="72.43" r="0.85" fill="#b8142f"/>
<line x1="408.5" y1="51.5" x2="408.5" y2="80.6" stroke="#d8404c" stroke-width="0.6"/>
<line x1="407.3" y1="51.5" x2="409.7" y2="51.5" stroke="#d8404c" stroke-width="0.6"/>
<line x1="407.3" y1="80.6" x2="409.7" y2="80.6" stroke="#d8404c" stroke-width="0.6"/>
<rect x="406" y="52.9" width="5" height="19" fill="#f2a0a0" stroke="#d8404c" stroke-width="0.35"/>
<line x1="406" y1="67.1" x2="411" y2="67.1" stroke="#d8404c" stroke-width="0.6"/>
<circle cx="407.87" cy="51.5" r="0.85" fill="#b8142f"/>
<circle cx="410.25" cy="80.6" r="0.85" fill="#b8142f"/>
<circle cx="407.24" cy="53.69" r="0.85" fill="#b8142f"/>
<circle cx="409.31" cy="53.33" r="0.85" fill="#b8142f"/>
<circle cx="409.02" cy="58.68" r="0.85" fill="#b8142f"/>
<circle cx="406.86" cy="57.32" r="0.85" fill="#b8142f"/>
<circle cx="409.71" cy="64.03" r="0.85" fill="#b8142f"/>
<circle cx="409.91" cy="62.95" r="0.85" fill="#b8142f"/>
<circle cx="408.96" cy="67.16" r="0.85" fill="#b8142f"/>
<circle cx="409.34" cy="65.39" r="0.85" fill="#b8142f"/>
<circle cx="409.62" cy="66.5" r="0.85" fill="#b8142f"/>
<circle cx="407.2" cy="52.73" r="0.85" fill="#b8142f"/>
<circle cx="408.59" cy="75.29" r="0.85" fill="#b8142f"/>
<line x1="415.7" y1="64.7" x2="415.7" y2="88.4" stroke="#d8404c" stroke-width="0.6"/>
<line x1="414.5" y1="64.7" x2="416.9" y2="64.7" stroke="#d8404c" stroke-width="0.6"/>
<line x1="414.5" y1="88.4" x2="416.9" y2="88.4" stroke="#d8404c" stroke-width="0.6"/>
<rect x="413.2" y="69.3" width="5" height="10.4" fill="#f2a0a0" stroke="#d8404c" stroke-width="0.35"/>
<line x1="413.2" y1="74.5" x2="418.2" y2="74.5" stroke="#d8404c" stroke-width="0.6"/>
<circle cx="415.2" cy="64.7" r="0.85" fill="#b8142f"/>
<circle cx="414.28" cy="88.4" r="0.85" fill="#b8142f"/>
<circle cx="416.91" cy="74.55" r="0.85" fill="#b8142f"/>
<circle cx="415.91" cy="77.98" r="0.85" fill="#b8142f"/>
<circle cx="416.16" cy="77.67" r="0.85" fill="#b8142f"/>
<circle cx="416.15" cy="77.89" r="0.85" fill="#b8142f"/>
<circle cx="416.35" cy="75.37" r="0.85" fill="#b8142f"/>
<circle cx="415.66" cy="78.59" r="0.85" fill="#b8142f"/>
<circle cx="413.91" cy="76.4" r="0.85" fill="#b8142f"/>
<circle cx="416.77" cy="76.51" r="0.85" fill="#b8142f"/>
<circle cx="416.59" cy="71.69" r="0.85" fill="#b8142f"/>
<circle cx="415.71" cy="64.84" r="0.85" fill="#b8142f"/>
<circle cx="415.83" cy="80.86" r="0.85" fill="#b8142f"/>
<line x1="423.2" y1="55.5" x2="423.2" y2="81.4" stroke="#d8404c" stroke-width="0.6"/>
<line x1="422" y1="55.5" x2="424.4" y2="55.5" stroke="#d8404c" stroke-width="0.6"/>
<line x1="422" y1="81.4" x2="424.4" y2="81.4" stroke="#d8404c" stroke-width="0.6"/>
<rect x="420.7" y="66.7" width="5" height="6.1" fill="#f2a0a0" stroke="#d8404c" stroke-width="0.35"/>
<line x1="420.7" y1="67.6" x2="425.7" y2="67.6" stroke="#d8404c" stroke-width="0.6"/>
<circle cx="422.78" cy="55.5" r="0.85" fill="#b8142f"/>
<circle cx="423.12" cy="81.4" r="0.85" fill="#b8142f"/>
<circle cx="423.86" cy="70.72" r="0.85" fill="#b8142f"/>
<circle cx="424.16" cy="67.1" r="0.85" fill="#b8142f"/>
<circle cx="423.62" cy="71.19" r="0.85" fill="#b8142f"/>
<circle cx="423.71" cy="68.24" r="0.85" fill="#b8142f"/>
<circle cx="421.68" cy="67.15" r="0.85" fill="#b8142f"/>
<circle cx="421.93" cy="68.32" r="0.85" fill="#b8142f"/>
<circle cx="422.31" cy="71.15" r="0.85" fill="#b8142f"/>
<circle cx="424.08" cy="67.95" r="0.85" fill="#b8142f"/>
<circle cx="422.5" cy="71.21" r="0.85" fill="#b8142f"/>
<circle cx="423.44" cy="66.43" r="0.85" fill="#b8142f"/>
<circle cx="421.44" cy="77.05" r="0.85" fill="#b8142f"/>
<line x1="430.4" y1="56.7" x2="430.4" y2="82.6" stroke="#d8404c" stroke-width="0.6"/>
<line x1="429.2" y1="56.7" x2="431.6" y2="56.7" stroke="#d8404c" stroke-width="0.6"/>
<line x1="429.2" y1="82.6" x2="431.6" y2="82.6" stroke="#d8404c" stroke-width="0.6"/>
<rect x="427.9" y="65.3" width="5" height="10.1" fill="#f2a0a0" stroke="#d8404c" stroke-width="0.35"/>
<line x1="427.9" y1="71" x2="432.9" y2="71" stroke="#d8404c" stroke-width="0.6"/>
<circle cx="429.32" cy="56.7" r="0.85" fill="#b8142f"/>
<circle cx="432.12" cy="82.6" r="0.85" fill="#b8142f"/>
<circle cx="431.97" cy="65.91" r="0.85" fill="#b8142f"/>
<circle cx="428.66" cy="68.01" r="0.85" fill="#b8142f"/>
<circle cx="430.25" cy="72.09" r="0.85" fill="#b8142f"/>
<circle cx="431.55" cy="72.29" r="0.85" fill="#b8142f"/>
<circle cx="432.09" cy="72.12" r="0.85" fill="#b8142f"/>
<circle cx="430.22" cy="68.24" r="0.85" fill="#b8142f"/>
<circle cx="429.57" cy="70.52" r="0.85" fill="#b8142f"/>
<circle cx="429.36" cy="69.99" r="0.85" fill="#b8142f"/>
<circle cx="432" cy="70.01" r="0.85" fill="#b8142f"/>
<circle cx="429.36" cy="57.72" r="0.85" fill="#b8142f"/>
<circle cx="430.69" cy="81.83" r="0.85" fill="#b8142f"/>
<line x1="437.5" y1="62.4" x2="437.5" y2="82.6" stroke="#d8404c" stroke-width="0.6"/>
<line x1="436.3" y1="62.4" x2="438.7" y2="62.4" stroke="#d8404c" stroke-width="0.6"/>
<line x1="436.3" y1="82.6" x2="438.7" y2="82.6" stroke="#d8404c" stroke-width="0.6"/>
<rect x="435" y="65" width="5" height="9.5" fill="#f2a0a0" stroke="#d8404c" stroke-width="0.35"/>
<line x1="435" y1="68.1" x2="440" y2="68.1" stroke="#d8404c" stroke-width="0.6"/>
<circle cx="435.79" cy="62.4" r="0.85" fill="#b8142f"/>
<circle cx="435.71" cy="82.6" r="0.85" fill="#b8142f"/>
<circle cx="437.47" cy="66.35" r="0.85" fill="#b8142f"/>
<circle cx="437.32" cy="69.98" r="0.85" fill="#b8142f"/>
<circle cx="436.79" cy="74.05" r="0.85" fill="#b8142f"/>
<circle cx="436.21" cy="66.26" r="0.85" fill="#b8142f"/>
<circle cx="436.94" cy="72.79" r="0.85" fill="#b8142f"/>
<circle cx="436.84" cy="69.83" r="0.85" fill="#b8142f"/>
<circle cx="438.72" cy="73.43" r="0.85" fill="#b8142f"/>
<circle cx="435.71" cy="71.68" r="0.85" fill="#b8142f"/>
<circle cx="438.4" cy="67.2" r="0.85" fill="#b8142f"/>
<circle cx="438.72" cy="64.73" r="0.85" fill="#b8142f"/>
<circle cx="436.13" cy="78.44" r="0.85" fill="#b8142f"/>
<line x1="444.8" y1="46.8" x2="444.8" y2="87.5" stroke="#d8404c" stroke-width="0.6"/>
<line x1="443.6" y1="46.8" x2="446" y2="46.8" stroke="#d8404c" stroke-width="0.6"/>
<line x1="443.6" y1="87.5" x2="446" y2="87.5" stroke="#d8404c" stroke-width="0.6"/>
<rect x="442.3" y="51.2" width="5" height="29.7" fill="#f2a0a0" stroke="#d8404c" stroke-width="0.35"/>
<line x1="442.3" y1="69.3" x2="447.3" y2="69.3" stroke="#d8404c" stroke-width="0.6"/>
<circle cx="443.17" cy="46.8" r="0.85" fill="#b8142f"/>
<circle cx="443.37" cy="87.5" r="0.85" fill="#b8142f"/>
<circle cx="446" cy="78.71" r="0.85" fill="#b8142f"/>
<circle cx="444.03" cy="72.38" r="0.85" fill="#b8142f"/>
<circle cx="446.37" cy="77.98" r="0.85" fill="#b8142f"/>
<circle cx="443.9" cy="59.81" r="0.85" fill="#b8142f"/>
<circle cx="443.96" cy="62.25" r="0.85" fill="#b8142f"/>
<circle cx="444.84" cy="62.87" r="0.85" fill="#b8142f"/>
<circle cx="443.68" cy="80.86" r="0.85" fill="#b8142f"/>
<circle cx="444.34" cy="68.7" r="0.85" fill="#b8142f"/>
<circle cx="446.44" cy="61.91" r="0.85" fill="#b8142f"/>
<circle cx="446.18" cy="48.68" r="0.85" fill="#b8142f"/>
<circle cx="445.92" cy="82.72" r="0.85" fill="#b8142f"/>
<line x1="457" y1="63.3" x2="457" y2="84.2" stroke="#56b0e3" stroke-width="0.6"/>
<line x1="455.8" y1="63.3" x2="458.2" y2="63.3" stroke="#56b0e3" stroke-width="0.6"/>
<line x1="455.8" y1="84.2" x2="458.2" y2="84.2" stroke="#56b0e3" stroke-width="0.6"/>
<rect x="454.5" y="66.7" width="5" height="10.8" fill="#b3daf3" stroke="#56b0e3" stroke-width="0.35"/>
<line x1="454.5" y1="72.5" x2="459.5" y2="72.5" stroke="#56b0e3" stroke-width="0.6"/>
<circle cx="455.38" cy="63.3" r="0.85" fill="#2f93d2"/>
<circle cx="458.54" cy="84.2" r="0.85" fill="#2f93d2"/>
<circle cx="455.66" cy="73.51" r="0.85" fill="#2f93d2"/>
<circle cx="456.9" cy="76.56" r="0.85" fill="#2f93d2"/>
<circle cx="456.44" cy="76.86" r="0.85" fill="#2f93d2"/>
<circle cx="456.27" cy="72.63" r="0.85" fill="#2f93d2"/>
<circle cx="457.86" cy="74.47" r="0.85" fill="#2f93d2"/>
<circle cx="458.71" cy="67.23" r="0.85" fill="#2f93d2"/>
<circle cx="456.14" cy="74.61" r="0.85" fill="#2f93d2"/>
<circle cx="457.56" cy="71.57" r="0.85" fill="#2f93d2"/>
<circle cx="456.28" cy="74.83" r="0.85" fill="#2f93d2"/>
<circle cx="457.21" cy="65.49" r="0.85" fill="#2f93d2"/>
<circle cx="456.62" cy="79.42" r="0.85" fill="#2f93d2"/>
<line x1="464.5" y1="59.2" x2="464.5" y2="78.3" stroke="#56b0e3" stroke-width="0.6"/>
<line x1="463.3" y1="59.2" x2="465.7" y2="59.2" stroke="#56b0e3" stroke-width="0.6"/>
<line x1="463.3" y1="78.3" x2="465.7" y2="78.3" stroke="#56b0e3" stroke-width="0.6"/>
<rect x="462" y="64.2" width="5" height="10" fill="#b3daf3" stroke="#56b0e3" stroke-width="0.35"/>
<line x1="462" y1="69.2" x2="467" y2="69.2" stroke="#56b0e3" stroke-width="0.6"/>
<circle cx="463.03" cy="59.2" r="0.85" fill="#2f93d2"/>
<circle cx="463.93" cy="78.3" r="0.85" fill="#2f93d2"/>
<circle cx="463.03" cy="65.87" r="0.85" fill="#2f93d2"/>
<circle cx="463.56" cy="65.82" r="0.85" fill="#2f93d2"/>
<circle cx="463.63" cy="66.28" r="0.85" fill="#2f93d2"/>
<circle cx="464.75" cy="73.26" r="0.85" fill="#2f93d2"/>
<circle cx="465.89" cy="69.17" r="0.85" fill="#2f93d2"/>
<circle cx="465.4" cy="66.4" r="0.85" fill="#2f93d2"/>
<circle cx="464.19" cy="73.26" r="0.85" fill="#2f93d2"/>
<circle cx="464.19" cy="74.16" r="0.85" fill="#2f93d2"/>
<circle cx="464.59" cy="68.7" r="0.85" fill="#2f93d2"/>
<circle cx="464.06" cy="59.9" r="0.85" fill="#2f93d2"/>
<circle cx="463.92" cy="74.99" r="0.85" fill="#2f93d2"/>
<line x1="471.7" y1="60.3" x2="471.7" y2="82.5" stroke="#56b0e3" stroke-width="0.6"/>
<line x1="470.5" y1="60.3" x2="472.9" y2="60.3" stroke="#56b0e3" stroke-width="0.6"/>
<line x1="470.5" y1="82.5" x2="472.9" y2="82.5" stroke="#56b0e3" stroke-width="0.6"/>
<rect x="469.2" y="65.8" width="5" height="12.5" fill="#b3daf3" stroke="#56b0e3" stroke-width="0.35"/>
<line x1="469.2" y1="72.5" x2="474.2" y2="72.5" stroke="#56b0e3" stroke-width="0.6"/>
<circle cx="471.51" cy="60.3" r="0.85" fill="#2f93d2"/>
<circle cx="473.33" cy="82.5" r="0.85" fill="#2f93d2"/>
<circle cx="472.96" cy="66.58" r="0.85" fill="#2f93d2"/>
<circle cx="473.04" cy="69.27" r="0.85" fill="#2f93d2"/>
<circle cx="469.98" cy="77.9" r="0.85" fill="#2f93d2"/>
<circle cx="470.02" cy="67.37" r="0.85" fill="#2f93d2"/>
<circle cx="472.45" cy="72.09" r="0.85" fill="#2f93d2"/>
<circle cx="473.12" cy="73.67" r="0.85" fill="#2f93d2"/>
<circle cx="471.6" cy="76.59" r="0.85" fill="#2f93d2"/>
<circle cx="472.01" cy="68.5" r="0.85" fill="#2f93d2"/>
<circle cx="469.9" cy="69.19" r="0.85" fill="#2f93d2"/>
<circle cx="471.31" cy="61.67" r="0.85" fill="#2f93d2"/>
<circle cx="473.24" cy="79.98" r="0.85" fill="#2f93d2"/>
<line x1="478.8" y1="68.3" x2="478.8" y2="82.5" stroke="#56b0e3" stroke-width="0.6"/>
<line x1="477.6" y1="68.3" x2="480" y2="68.3" stroke="#56b0e3" stroke-width="0.6"/>
<line x1="477.6" y1="82.5" x2="480" y2="82.5" stroke="#56b0e3" stroke-width="0.6"/>
<rect x="476.3" y="70" width="5" height="11.7" fill="#b3daf3" stroke="#56b0e3" stroke-width="0.35"/>
<line x1="476.3" y1="75" x2="481.3" y2="75" stroke="#56b0e3" stroke-width="0.6"/>
<circle cx="479.75" cy="68.3" r="0.85" fill="#2f93d2"/>
<circle cx="478.65" cy="82.5" r="0.85" fill="#2f93d2"/>
<circle cx="478.99" cy="79.66" r="0.85" fill="#2f93d2"/>
<circle cx="477.14" cy="80.01" r="0.85" fill="#2f93d2"/>
<circle cx="479.82" cy="81.38" r="0.85" fill="#2f93d2"/>
<circle cx="477.84" cy="72.91" r="0.85" fill="#2f93d2"/>
<circle cx="480.31" cy="71.28" r="0.85" fill="#2f93d2"/>
<circle cx="479.32" cy="71.81" r="0.85" fill="#2f93d2"/>
<circle cx="478.09" cy="76.11" r="0.85" fill="#2f93d2"/>
<circle cx="477.46" cy="77.98" r="0.85" fill="#2f93d2"/>
<circle cx="477.91" cy="81.02" r="0.85" fill="#2f93d2"/>
<circle cx="479.29" cy="69.53" r="0.85" fill="#2f93d2"/>
<circle cx="479.51" cy="82.22" r="0.85" fill="#2f93d2"/>
<line x1="486.2" y1="73" x2="486.2" y2="86.7" stroke="#56b0e3" stroke-width="0.6"/>
<line x1="485" y1="73" x2="487.4" y2="73" stroke="#56b0e3" stroke-width="0.6"/>
<line x1="485" y1="86.7" x2="487.4" y2="86.7" stroke="#56b0e3" stroke-width="0.6"/>
<rect x="483.7" y="73.3" width="5" height="8.4" fill="#b3daf3" stroke="#56b0e3" stroke-width="0.35"/>
<line x1="483.7" y1="77.5" x2="488.7" y2="77.5" stroke="#56b0e3" stroke-width="0.6"/>
<circle cx="486.72" cy="73" r="0.85" fill="#2f93d2"/>
<circle cx="487.58" cy="86.7" r="0.85" fill="#2f93d2"/>
<circle cx="486.11" cy="74.24" r="0.85" fill="#2f93d2"/>
<circle cx="485.25" cy="73.89" r="0.85" fill="#2f93d2"/>
<circle cx="485.29" cy="77.71" r="0.85" fill="#2f93d2"/>
<circle cx="487.86" cy="78.2" r="0.85" fill="#2f93d2"/>
<circle cx="486.94" cy="76.56" r="0.85" fill="#2f93d2"/>
<circle cx="485.51" cy="75.18" r="0.85" fill="#2f93d2"/>
<circle cx="484.48" cy="78.35" r="0.85" fill="#2f93d2"/>
<circle cx="486.19" cy="73.39" r="0.85" fill="#2f93d2"/>
<circle cx="486.83" cy="75.83" r="0.85" fill="#2f93d2"/>
<circle cx="485.91" cy="73.14" r="0.85" fill="#2f93d2"/>
<circle cx="485.33" cy="86.49" r="0.85" fill="#2f93d2"/>
<line x1="493.3" y1="66.3" x2="493.3" y2="90" stroke="#56b0e3" stroke-width="0.6"/>
<line x1="492.1" y1="66.3" x2="494.5" y2="66.3" stroke="#56b0e3" stroke-width="0.6"/>
<line x1="492.1" y1="90" x2="494.5" y2="90" stroke="#56b0e3" stroke-width="0.6"/>
<rect x="490.8" y="72.5" width="5" height="10.8" fill="#b3daf3" stroke="#56b0e3" stroke-width="0.35"/>
<line x1="490.8" y1="77.5" x2="495.8" y2="77.5" stroke="#56b0e3" stroke-width="0.6"/>
<circle cx="492.24" cy="66.3" r="0.85" fill="#2f93d2"/>
<circle cx="494.99" cy="90" r="0.85" fill="#2f93d2"/>
<circle cx="492.62" cy="79.71" r="0.85" fill="#2f93d2"/>
<circle cx="494.45" cy="82.49" r="0.85" fill="#2f93d2"/>
<circle cx="492.33" cy="74.95" r="0.85" fill="#2f93d2"/>
<circle cx="492.3" cy="72.87" r="0.85" fill="#2f93d2"/>
<circle cx="494.24" cy="76.15" r="0.85" fill="#2f93d2"/>
<circle cx="492.56" cy="77.04" r="0.85" fill="#2f93d2"/>
<circle cx="494.93" cy="79.87" r="0.85" fill="#2f93d2"/>
<circle cx="493.28" cy="74.64" r="0.85" fill="#2f93d2"/>
<circle cx="492.17" cy="81.11" r="0.85" fill="#2f93d2"/>
<circle cx="492.3" cy="70.88" r="0.85" fill="#2f93d2"/>
<circle cx="493" cy="86.68" r="0.85" fill="#2f93d2"/>
<line x1="500.8" y1="79.2" x2="500.8" y2="85" stroke="#56b0e3" stroke-width="0.6"/>
<line x1="499.6" y1="79.2" x2="502" y2="79.2" stroke="#56b0e3" stroke-width="0.6"/>
<line x1="499.6" y1="85" x2="502" y2="85" stroke="#56b0e3" stroke-width="0.6"/>
<rect x="498.3" y="80" width="5" height="4.2" fill="#b3daf3" stroke="#56b0e3" stroke-width="0.35"/>
<line x1="498.3" y1="81.7" x2="503.3" y2="81.7" stroke="#56b0e3" stroke-width="0.6"/>
<circle cx="502.18" cy="79.2" r="0.85" fill="#2f93d2"/>
<circle cx="501.64" cy="85" r="0.85" fill="#2f93d2"/>
<circle cx="502.59" cy="82.79" r="0.85" fill="#2f93d2"/>
<circle cx="502.35" cy="83.98" r="0.85" fill="#2f93d2"/>
<circle cx="500.19" cy="80.61" r="0.85" fill="#2f93d2"/>
<circle cx="499.67" cy="81.65" r="0.85" fill="#2f93d2"/>
<circle cx="502.37" cy="80.89" r="0.85" fill="#2f93d2"/>
<circle cx="501.69" cy="84.09" r="0.85" fill="#2f93d2"/>
<circle cx="499.11" cy="80.6" r="0.85" fill="#2f93d2"/>
<circle cx="501.39" cy="80.22" r="0.85" fill="#2f93d2"/>
<circle cx="500.36" cy="80.25" r="0.85" fill="#2f93d2"/>
<circle cx="500.35" cy="79.51" r="0.85" fill="#2f93d2"/>
<circle cx="500.19" cy="84.92" r="0.85" fill="#2f93d2"/>
<line x1="508" y1="69.2" x2="508" y2="96.3" stroke="#56b0e3" stroke-width="0.6"/>
<line x1="506.8" y1="69.2" x2="509.2" y2="69.2" stroke="#56b0e3" stroke-width="0.6"/>
<line x1="506.8" y1="96.3" x2="509.2" y2="96.3" stroke="#56b0e3" stroke-width="0.6"/>
<rect x="505.5" y="85" width="5" height="6.7" fill="#b3daf3" stroke="#56b0e3" stroke-width="0.35"/>
<line x1="505.5" y1="89.2" x2="510.5" y2="89.2" stroke="#56b0e3" stroke-width="0.6"/>
<circle cx="507.76" cy="69.2" r="0.85" fill="#2f93d2"/>
<circle cx="506.38" cy="96.3" r="0.85" fill="#2f93d2"/>
<circle cx="507.9" cy="86.13" r="0.85" fill="#2f93d2"/>
<circle cx="507.54" cy="85.02" r="0.85" fill="#2f93d2"/>
<circle cx="509.51" cy="86.87" r="0.85" fill="#2f93d2"/>
<circle cx="506.89" cy="87.35" r="0.85" fill="#2f93d2"/>
<circle cx="507.51" cy="91.4" r="0.85" fill="#2f93d2"/>
<circle cx="509.43" cy="85.83" r="0.85" fill="#2f93d2"/>
<circle cx="506.31" cy="91.46" r="0.85" fill="#2f93d2"/>
<circle cx="507.68" cy="86.39" r="0.85" fill="#2f93d2"/>
<circle cx="509.12" cy="87.39" r="0.85" fill="#2f93d2"/>
<circle cx="508.96" cy="82.18" r="0.85" fill="#2f93d2"/>
<circle cx="506.35" cy="95.48" r="0.85" fill="#2f93d2"/>
<text letter-spacing="0.10" font-size="8.8" stroke="#231f20" stroke-width="0.1" transform="translate(424.8 123.8) scale(0.75 1)">Months after pIpC</text>
<text letter-spacing="0.06" font-size="6.8" font-style="italic" fill="#c40a2c" stroke="#c40a2c" stroke-width="0.1" transform="translate(399.6 16) scale(0.90 1)">Ppm1d</text>
<text letter-spacing="-0.02" font-size="4.5" font-style="italic" fill="#c40a2c" stroke="#c40a2c" stroke-width="0.1" transform="translate(419.5 13.48) scale(1.30 1)">T476*/+</text>
<text x="440.6" y="16" font-size="6.8" font-style="italic" fill="#c40a2c" stroke="#c40a2c" stroke-width="0.1">;</text>
<text x="406.5" y="23.5" letter-spacing="-0.04" font-size="6.8" fill="#c40a2c" stroke="#c40a2c" stroke-width="0.1">Mx-Cre+</text>
<text letter-spacing="0.06" font-size="6.8" font-style="italic" fill="#4db0e4" stroke="#4db0e4" stroke-width="0.1" transform="translate(461.9 16) scale(0.90 1)">Ppm1d</text>
<text letter-spacing="-0.02" font-size="4.5" font-style="italic" fill="#4db0e4" stroke="#4db0e4" stroke-width="0.1" transform="translate(481.8 13.48) scale(1.30 1)">T476*/+</text>
<text x="502.7" y="16" font-size="6.8" font-style="italic" fill="#4db0e4" stroke="#4db0e4" stroke-width="0.1">;</text>
<text font-size="6.8" fill="#4db0e4" stroke="#4db0e4" stroke-width="0.1" transform="translate(470 23.5) scale(0.90 1)">Mx-Cre–</text>
<line x1="234.6" y1="152.6" x2="234.6" y2="227.1" stroke="#2a2a2a" stroke-width="1.25"/>
<line x1="234" y1="226.5" x2="357.7" y2="226.5" stroke="#2a2a2a" stroke-width="1.25"/>
<line x1="231.7" y1="226.5" x2="234.6" y2="226.5" stroke="#231f20" stroke-width="0.9"/>
<text letter-spacing="0.11" font-size="7" stroke="#231f20" stroke-width="0.1" transform="translate(225.9 228.9) scale(0.85 1)">0</text>
<line x1="231.7" y1="208.7" x2="234.6" y2="208.7" stroke="#231f20" stroke-width="0.9"/>
<text letter-spacing="0.16" font-size="7" stroke="#231f20" stroke-width="0.1" transform="translate(219.1 211.1) scale(0.85 1)">500</text>
<line x1="231.7" y1="190.9" x2="234.6" y2="190.9" stroke="#231f20" stroke-width="0.9"/>
<text letter-spacing="0.14" font-size="7" stroke="#231f20" stroke-width="0.1" transform="translate(215.7 193.3) scale(0.85 1)">1000</text>
<line x1="231.7" y1="173" x2="234.6" y2="173" stroke="#231f20" stroke-width="0.9"/>
<text letter-spacing="0.14" font-size="7" stroke="#231f20" stroke-width="0.1" transform="translate(215.7 175.4) scale(0.85 1)">1500</text>
<line x1="231.7" y1="155.2" x2="234.6" y2="155.2" stroke="#231f20" stroke-width="0.9"/>
<text letter-spacing="0.14" font-size="7" stroke="#231f20" stroke-width="0.1" transform="translate(215.7 157.6) scale(0.85 1)">2000</text>
<line x1="239.4" y1="226.5" x2="239.4" y2="229.1" stroke="#231f20" stroke-width="0.9"/>
<line x1="246.5" y1="226.5" x2="246.5" y2="229.1" stroke="#231f20" stroke-width="0.9"/>
<line x1="254.2" y1="226.5" x2="254.2" y2="229.1" stroke="#231f20" stroke-width="0.9"/>
<line x1="261.5" y1="226.5" x2="261.5" y2="229.1" stroke="#231f20" stroke-width="0.9"/>
<line x1="268.8" y1="226.5" x2="268.8" y2="229.1" stroke="#231f20" stroke-width="0.9"/>
<line x1="276" y1="226.5" x2="276" y2="229.1" stroke="#231f20" stroke-width="0.9"/>
<line x1="283.3" y1="226.5" x2="283.3" y2="229.1" stroke="#231f20" stroke-width="0.9"/>
<line x1="290.8" y1="226.5" x2="290.8" y2="229.1" stroke="#231f20" stroke-width="0.9"/>
<line x1="302.6" y1="226.5" x2="302.6" y2="229.1" stroke="#231f20" stroke-width="0.9"/>
<line x1="310" y1="226.5" x2="310" y2="229.1" stroke="#231f20" stroke-width="0.9"/>
<line x1="317.4" y1="226.5" x2="317.4" y2="229.1" stroke="#231f20" stroke-width="0.9"/>
<line x1="324.6" y1="226.5" x2="324.6" y2="229.1" stroke="#231f20" stroke-width="0.9"/>
<line x1="331.8" y1="226.5" x2="331.8" y2="229.1" stroke="#231f20" stroke-width="0.9"/>
<line x1="339.2" y1="226.5" x2="339.2" y2="229.1" stroke="#231f20" stroke-width="0.9"/>
<line x1="346.6" y1="226.5" x2="346.6" y2="229.1" stroke="#231f20" stroke-width="0.9"/>
<line x1="353.8" y1="226.5" x2="353.8" y2="229.1" stroke="#231f20" stroke-width="0.9"/>
<line x1="296.6" y1="155.1" x2="296.6" y2="225.5" stroke="#262626" stroke-width="1.2" stroke-dasharray="2 1.5"/>
<line x1="239.4" y1="173" x2="239.4" y2="193.5" stroke="#d8404c" stroke-width="0.6"/>
<line x1="238.2" y1="173" x2="240.6" y2="173" stroke="#d8404c" stroke-width="0.6"/>
<line x1="238.2" y1="193.5" x2="240.6" y2="193.5" stroke="#d8404c" stroke-width="0.6"/>
<rect x="236.9" y="179.4" width="5" height="11" fill="#f2a0a0" stroke="#d8404c" stroke-width="0.35"/>
<line x1="236.9" y1="185.2" x2="241.9" y2="185.2" stroke="#d8404c" stroke-width="0.6"/>
<circle cx="240.18" cy="173" r="0.85" fill="#b8142f"/>
<circle cx="238.74" cy="193.5" r="0.85" fill="#b8142f"/>
<circle cx="238.59" cy="179.78" r="0.85" fill="#b8142f"/>
<circle cx="237.61" cy="180.09" r="0.85" fill="#b8142f"/>
<circle cx="240.32" cy="189.52" r="0.85" fill="#b8142f"/>
<circle cx="240.9" cy="182.23" r="0.85" fill="#b8142f"/>
<circle cx="239.88" cy="187.62" r="0.85" fill="#b8142f"/>
<circle cx="241" cy="189.28" r="0.85" fill="#b8142f"/>
<circle cx="237.69" cy="183.13" r="0.85" fill="#b8142f"/>
<circle cx="238.44" cy="182.4" r="0.85" fill="#b8142f"/>
<circle cx="239.31" cy="189.93" r="0.85" fill="#b8142f"/>
<circle cx="241.04" cy="176.95" r="0.85" fill="#b8142f"/>
<circle cx="241.03" cy="191.21" r="0.85" fill="#b8142f"/>
<line x1="246.5" y1="172.3" x2="246.5" y2="192.3" stroke="#d8404c" stroke-width="0.6"/>
<line x1="245.3" y1="172.3" x2="247.7" y2="172.3" stroke="#d8404c" stroke-width="0.6"/>
<line x1="245.3" y1="192.3" x2="247.7" y2="192.3" stroke="#d8404c" stroke-width="0.6"/>
<rect x="244" y="175.6" width="5" height="10.2" fill="#f2a0a0" stroke="#d8404c" stroke-width="0.35"/>
<line x1="244" y1="180.4" x2="249" y2="180.4" stroke="#d8404c" stroke-width="0.6"/>
<circle cx="245.88" cy="172.3" r="0.85" fill="#b8142f"/>
<circle cx="245.85" cy="192.3" r="0.85" fill="#b8142f"/>
<circle cx="246" cy="179.54" r="0.85" fill="#b8142f"/>
<circle cx="247.52" cy="178.16" r="0.85" fill="#b8142f"/>
<circle cx="244.98" cy="179.99" r="0.85" fill="#b8142f"/>
<circle cx="245.41" cy="180.63" r="0.85" fill="#b8142f"/>
<circle cx="247.41" cy="185.07" r="0.85" fill="#b8142f"/>
<circle cx="245.59" cy="177.47" r="0.85" fill="#b8142f"/>
<circle cx="244.93" cy="183.79" r="0.85" fill="#b8142f"/>
<circle cx="244.82" cy="183.13" r="0.85" fill="#b8142f"/>
<circle cx="246.69" cy="183.99" r="0.85" fill="#b8142f"/>
<circle cx="245.87" cy="174.85" r="0.85" fill="#b8142f"/>
<circle cx="248.23" cy="189.75" r="0.85" fill="#b8142f"/>
<line x1="254.2" y1="172.3" x2="254.2" y2="200.6" stroke="#d8404c" stroke-width="0.6"/>
<line x1="253" y1="172.3" x2="255.4" y2="172.3" stroke="#d8404c" stroke-width="0.6"/>
<line x1="253" y1="200.6" x2="255.4" y2="200.6" stroke="#d8404c" stroke-width="0.6"/>
<rect x="251.7" y="179.4" width="5" height="11.6" fill="#f2a0a0" stroke="#d8404c" stroke-width="0.35"/>
<line x1="251.7" y1="184.6" x2="256.7" y2="184.6" stroke="#d8404c" stroke-width="0.6"/>
<circle cx="254.83" cy="172.3" r="0.85" fill="#b8142f"/>
<circle cx="255.09" cy="200.6" r="0.85" fill="#b8142f"/>
<circle cx="255.45" cy="189.65" r="0.85" fill="#b8142f"/>
<circle cx="254.79" cy="190.86" r="0.85" fill="#b8142f"/>
<circle cx="252.84" cy="182.47" r="0.85" fill="#b8142f"/>
<circle cx="255.43" cy="180.38" r="0.85" fill="#b8142f"/>
<circle cx="253.46" cy="180.52" r="0.85" fill="#b8142f"/>
<circle cx="254.44" cy="185.18" r="0.85" fill="#b8142f"/>
<circle cx="253.74" cy="187.63" r="0.85" fill="#b8142f"/>
<circle cx="255.06" cy="184.58" r="0.85" fill="#b8142f"/>
<circle cx="253.12" cy="182.12" r="0.85" fill="#b8142f"/>
<circle cx="253.29" cy="175.26" r="0.85" fill="#b8142f"/>
<circle cx="253.28" cy="196.95" r="0.85" fill="#b8142f"/>
<line x1="261.5" y1="169.8" x2="261.5" y2="196.7" stroke="#d8404c" stroke-width="0.6"/>
<line x1="260.3" y1="169.8" x2="262.7" y2="169.8" stroke="#d8404c" stroke-width="0.6"/>
<line x1="260.3" y1="196.7" x2="262.7" y2="196.7" stroke="#d8404c" stroke-width="0.6"/>
<rect x="259" y="174.6" width="5" height="13.4" fill="#f2a0a0" stroke="#d8404c" stroke-width="0.35"/>
<line x1="259" y1="184.2" x2="264" y2="184.2" stroke="#d8404c" stroke-width="0.6"/>
<circle cx="260.07" cy="169.8" r="0.85" fill="#b8142f"/>
<circle cx="261.41" cy="196.7" r="0.85" fill="#b8142f"/>
<circle cx="262.65" cy="176.65" r="0.85" fill="#b8142f"/>
<circle cx="262.73" cy="186.45" r="0.85" fill="#b8142f"/>
<circle cx="262.99" cy="182.35" r="0.85" fill="#b8142f"/>
<circle cx="259.85" cy="178.97" r="0.85" fill="#b8142f"/>
<circle cx="260.76" cy="179.91" r="0.85" fill="#b8142f"/>
<circle cx="260.13" cy="187.9" r="0.85" fill="#b8142f"/>
<circle cx="260.38" cy="181.4" r="0.85" fill="#b8142f"/>
<circle cx="263.2" cy="177.7" r="0.85" fill="#b8142f"/>
<circle cx="261.8" cy="185.43" r="0.85" fill="#b8142f"/>
<circle cx="263.05" cy="172.94" r="0.85" fill="#b8142f"/>
<circle cx="261.04" cy="196.62" r="0.85" fill="#b8142f"/>
<line x1="268.8" y1="165.4" x2="268.8" y2="200" stroke="#d8404c" stroke-width="0.6"/>
<line x1="267.6" y1="165.4" x2="270" y2="165.4" stroke="#d8404c" stroke-width="0.6"/>
<line x1="267.6" y1="200" x2="270" y2="200" stroke="#d8404c" stroke-width="0.6"/>
<rect x="266.3" y="171.2" width="5" height="12.1" fill="#f2a0a0" stroke="#d8404c" stroke-width="0.35"/>
<line x1="266.3" y1="180.4" x2="271.3" y2="180.4" stroke="#d8404c" stroke-width="0.6"/>
<circle cx="267.73" cy="165.4" r="0.85" fill="#b8142f"/>
<circle cx="267.92" cy="200" r="0.85" fill="#b8142f"/>
<circle cx="269.16" cy="181.68" r="0.85" fill="#b8142f"/>
<circle cx="269.35" cy="176.63" r="0.85" fill="#b8142f"/>
<circle cx="267.73" cy="174.35" r="0.85" fill="#b8142f"/>
<circle cx="267.04" cy="180.61" r="0.85" fill="#b8142f"/>
<circle cx="268.18" cy="182.64" r="0.85" fill="#b8142f"/>
<circle cx="269.44" cy="172.48" r="0.85" fill="#b8142f"/>
<circle cx="267.67" cy="178.41" r="0.85" fill="#b8142f"/>
<circle cx="268.12" cy="178.7" r="0.85" fill="#b8142f"/>
<circle cx="267.73" cy="173.83" r="0.85" fill="#b8142f"/>
<circle cx="269.86" cy="167.54" r="0.85" fill="#b8142f"/>
<circle cx="268.97" cy="185.66" r="0.85" fill="#b8142f"/>
<line x1="276" y1="170.4" x2="276" y2="179.4" stroke="#d8404c" stroke-width="0.6"/>
<line x1="274.8" y1="170.4" x2="277.2" y2="170.4" stroke="#d8404c" stroke-width="0.6"/>
<line x1="274.8" y1="179.4" x2="277.2" y2="179.4" stroke="#d8404c" stroke-width="0.6"/>
<rect x="273.5" y="174.6" width="5" height="4.8" fill="#f2a0a0" stroke="#d8404c" stroke-width="0.35"/>
<line x1="273.5" y1="175.6" x2="278.5" y2="175.6" stroke="#d8404c" stroke-width="0.6"/>
<circle cx="277.63" cy="170.4" r="0.85" fill="#b8142f"/>
<circle cx="275.32" cy="179.4" r="0.85" fill="#b8142f"/>
<circle cx="276.24" cy="174.9" r="0.85" fill="#b8142f"/>
<circle cx="275.49" cy="175.09" r="0.85" fill="#b8142f"/>
<circle cx="275.7" cy="176.5" r="0.85" fill="#b8142f"/>
<circle cx="277.31" cy="177.24" r="0.85" fill="#b8142f"/>
<circle cx="277.79" cy="177.67" r="0.85" fill="#b8142f"/>
<circle cx="275.51" cy="175.04" r="0.85" fill="#b8142f"/>
<circle cx="274.91" cy="175.39" r="0.85" fill="#b8142f"/>
<circle cx="276.82" cy="177.94" r="0.85" fill="#b8142f"/>
<circle cx="274.93" cy="176.57" r="0.85" fill="#b8142f"/>
<circle cx="274.22" cy="171.59" r="0.85" fill="#b8142f"/>
<circle cx="277.45" cy="179.4" r="0.85" fill="#b8142f"/>
<line x1="283.3" y1="170.4" x2="283.3" y2="183.3" stroke="#d8404c" stroke-width="0.6"/>
<line x1="282.1" y1="170.4" x2="284.5" y2="170.4" stroke="#d8404c" stroke-width="0.6"/>
<line x1="282.1" y1="183.3" x2="284.5" y2="183.3" stroke="#d8404c" stroke-width="0.6"/>
<rect x="280.8" y="174.6" width="5" height="8.1" fill="#f2a0a0" stroke="#d8404c" stroke-width="0.35"/>
<line x1="280.8" y1="176.5" x2="285.8" y2="176.5" stroke="#d8404c" stroke-width="0.6"/>
<circle cx="283.74" cy="170.4" r="0.85" fill="#b8142f"/>
<circle cx="282.84" cy="183.3" r="0.85" fill="#b8142f"/>
<circle cx="283.32" cy="178.03" r="0.85" fill="#b8142f"/>
<circle cx="282.03" cy="181.24" r="0.85" fill="#b8142f"/>
<circle cx="282.52" cy="177.89" r="0.85" fill="#b8142f"/>
<circle cx="283.38" cy="181.75" r="0.85" fill="#b8142f"/>
<circle cx="284.83" cy="178.33" r="0.85" fill="#b8142f"/>
<circle cx="281.89" cy="175.92" r="0.85" fill="#b8142f"/>
<circle cx="283.27" cy="174.72" r="0.85" fill="#b8142f"/>
<circle cx="284.4" cy="179.07" r="0.85" fill="#b8142f"/>
<circle cx="284.98" cy="179.79" r="0.85" fill="#b8142f"/>
<circle cx="282.21" cy="174.22" r="0.85" fill="#b8142f"/>
<circle cx="281.96" cy="182.75" r="0.85" fill="#b8142f"/>
<line x1="290.8" y1="160.8" x2="290.8" y2="181.3" stroke="#d8404c" stroke-width="0.6"/>
<line x1="289.6" y1="160.8" x2="292" y2="160.8" stroke="#d8404c" stroke-width="0.6"/>
<line x1="289.6" y1="181.3" x2="292" y2="181.3" stroke="#d8404c" stroke-width="0.6"/>
<rect x="288.3" y="170.4" width="5" height="10.4" fill="#f2a0a0" stroke="#d8404c" stroke-width="0.35"/>
<line x1="288.3" y1="175.6" x2="293.3" y2="175.6" stroke="#d8404c" stroke-width="0.6"/>
<circle cx="289.8" cy="160.8" r="0.85" fill="#b8142f"/>
<circle cx="290.46" cy="181.3" r="0.85" fill="#b8142f"/>
<circle cx="292.05" cy="180.21" r="0.85" fill="#b8142f"/>
<circle cx="291.99" cy="180.55" r="0.85" fill="#b8142f"/>
<circle cx="289.66" cy="175.42" r="0.85" fill="#b8142f"/>
<circle cx="289.79" cy="170.96" r="0.85" fill="#b8142f"/>
<circle cx="290.44" cy="180.03" r="0.85" fill="#b8142f"/>
<circle cx="290.86" cy="174.43" r="0.85" fill="#b8142f"/>
<circle cx="290.38" cy="179.8" r="0.85" fill="#b8142f"/>
<circle cx="289.44" cy="176.85" r="0.85" fill="#b8142f"/>
<circle cx="289.89" cy="178.98" r="0.85" fill="#b8142f"/>
<circle cx="291.61" cy="162.34" r="0.85" fill="#b8142f"/>
<circle cx="292.23" cy="181.19" r="0.85" fill="#b8142f"/>
<line x1="302.6" y1="179.2" x2="302.6" y2="190.8" stroke="#56b0e3" stroke-width="0.6"/>
<line x1="301.4" y1="179.2" x2="303.8" y2="179.2" stroke="#56b0e3" stroke-width="0.6"/>
<line x1="301.4" y1="190.8" x2="303.8" y2="190.8" stroke="#56b0e3" stroke-width="0.6"/>
<rect x="300.1" y="180.8" width="5" height="9.2" fill="#b3daf3" stroke="#56b0e3" stroke-width="0.35"/>
<line x1="300.1" y1="185.4" x2="305.1" y2="185.4" stroke="#56b0e3" stroke-width="0.6"/>
<circle cx="302.9" cy="179.2" r="0.85" fill="#2f93d2"/>
<circle cx="302.33" cy="190.8" r="0.85" fill="#2f93d2"/>
<circle cx="303.17" cy="181.18" r="0.85" fill="#2f93d2"/>
<circle cx="302.41" cy="185.97" r="0.85" fill="#2f93d2"/>
<circle cx="302.38" cy="187.77" r="0.85" fill="#2f93d2"/>
<circle cx="300.88" cy="181.15" r="0.85" fill="#2f93d2"/>
<circle cx="303.03" cy="188.51" r="0.85" fill="#2f93d2"/>
<circle cx="302.56" cy="181.88" r="0.85" fill="#2f93d2"/>
<circle cx="301.65" cy="186.32" r="0.85" fill="#2f93d2"/>
<circle cx="303.55" cy="185.86" r="0.85" fill="#2f93d2"/>
<circle cx="303.61" cy="186.57" r="0.85" fill="#2f93d2"/>
<circle cx="302.45" cy="179.69" r="0.85" fill="#2f93d2"/>
<circle cx="301.45" cy="190.34" r="0.85" fill="#2f93d2"/>
<line x1="310" y1="178.2" x2="310" y2="193.8" stroke="#56b0e3" stroke-width="0.6"/>
<line x1="308.8" y1="178.2" x2="311.2" y2="178.2" stroke="#56b0e3" stroke-width="0.6"/>
<line x1="308.8" y1="193.8" x2="311.2" y2="193.8" stroke="#56b0e3" stroke-width="0.6"/>
<rect x="307.5" y="183.8" width="5" height="6.7" fill="#b3daf3" stroke="#56b0e3" stroke-width="0.35"/>
<line x1="307.5" y1="187.4" x2="312.5" y2="187.4" stroke="#56b0e3" stroke-width="0.6"/>
<circle cx="311" cy="178.2" r="0.85" fill="#2f93d2"/>
<circle cx="310.04" cy="193.8" r="0.85" fill="#2f93d2"/>
<circle cx="308.4" cy="186.97" r="0.85" fill="#2f93d2"/>
<circle cx="310.01" cy="184.52" r="0.85" fill="#2f93d2"/>
<circle cx="309.56" cy="184.66" r="0.85" fill="#2f93d2"/>
<circle cx="311.62" cy="186.69" r="0.85" fill="#2f93d2"/>
<circle cx="308.69" cy="184.41" r="0.85" fill="#2f93d2"/>
<circle cx="311.29" cy="186.76" r="0.85" fill="#2f93d2"/>
<circle cx="311.79" cy="187.22" r="0.85" fill="#2f93d2"/>
<circle cx="310.84" cy="184.07" r="0.85" fill="#2f93d2"/>
<circle cx="311.13" cy="188.06" r="0.85" fill="#2f93d2"/>
<circle cx="308.9" cy="178.66" r="0.85" fill="#2f93d2"/>
<circle cx="311.73" cy="192.92" r="0.85" fill="#2f93d2"/>
<line x1="317.4" y1="168.5" x2="317.4" y2="194.6" stroke="#56b0e3" stroke-width="0.6"/>
<line x1="316.2" y1="168.5" x2="318.6" y2="168.5" stroke="#56b0e3" stroke-width="0.6"/>
<line x1="316.2" y1="194.6" x2="318.6" y2="194.6" stroke="#56b0e3" stroke-width="0.6"/>
<rect x="314.9" y="180.3" width="5" height="13.5" fill="#b3daf3" stroke="#56b0e3" stroke-width="0.35"/>
<line x1="314.9" y1="184.3" x2="319.9" y2="184.3" stroke="#56b0e3" stroke-width="0.6"/>
<circle cx="316.59" cy="168.5" r="0.85" fill="#2f93d2"/>
<circle cx="318.54" cy="194.6" r="0.85" fill="#2f93d2"/>
<circle cx="316.12" cy="186.94" r="0.85" fill="#2f93d2"/>
<circle cx="317.41" cy="193.21" r="0.85" fill="#2f93d2"/>
<circle cx="318.91" cy="192.67" r="0.85" fill="#2f93d2"/>
<circle cx="316.35" cy="182.53" r="0.85" fill="#2f93d2"/>
<circle cx="316.55" cy="190.94" r="0.85" fill="#2f93d2"/>
<circle cx="317.42" cy="192.86" r="0.85" fill="#2f93d2"/>
<circle cx="316.75" cy="181.18" r="0.85" fill="#2f93d2"/>
<circle cx="315.73" cy="185.04" r="0.85" fill="#2f93d2"/>
<circle cx="316.26" cy="190.51" r="0.85" fill="#2f93d2"/>
<circle cx="316.18" cy="170.37" r="0.85" fill="#2f93d2"/>
<circle cx="318.97" cy="194.52" r="0.85" fill="#2f93d2"/>
<line x1="324.6" y1="176.6" x2="324.6" y2="190" stroke="#56b0e3" stroke-width="0.6"/>
<line x1="323.4" y1="176.6" x2="325.8" y2="176.6" stroke="#56b0e3" stroke-width="0.6"/>
<line x1="323.4" y1="190" x2="325.8" y2="190" stroke="#56b0e3" stroke-width="0.6"/>
<rect x="322.1" y="184.6" width="5" height="2.3" fill="#b3daf3" stroke="#56b0e3" stroke-width="0.35"/>
<line x1="322.1" y1="185.8" x2="327.1" y2="185.8" stroke="#56b0e3" stroke-width="0.6"/>
<circle cx="325.98" cy="176.6" r="0.85" fill="#2f93d2"/>
<circle cx="323.18" cy="190" r="0.85" fill="#2f93d2"/>
<circle cx="326.37" cy="186.16" r="0.85" fill="#2f93d2"/>
<circle cx="325.07" cy="186.66" r="0.85" fill="#2f93d2"/>
<circle cx="324.22" cy="184.99" r="0.85" fill="#2f93d2"/>
<circle cx="325.67" cy="186.41" r="0.85" fill="#2f93d2"/>
<circle cx="323.75" cy="184.86" r="0.85" fill="#2f93d2"/>
<circle cx="326.37" cy="185.82" r="0.85" fill="#2f93d2"/>
<circle cx="324.88" cy="186.06" r="0.85" fill="#2f93d2"/>
<circle cx="324.1" cy="185.43" r="0.85" fill="#2f93d2"/>
<circle cx="325.55" cy="186.61" r="0.85" fill="#2f93d2"/>
<circle cx="324.39" cy="181.04" r="0.85" fill="#2f93d2"/>
<circle cx="323.44" cy="188.7" r="0.85" fill="#2f93d2"/>
<line x1="331.8" y1="180.8" x2="331.8" y2="197.7" stroke="#56b0e3" stroke-width="0.6"/>
<line x1="330.6" y1="180.8" x2="333" y2="180.8" stroke="#56b0e3" stroke-width="0.6"/>
<line x1="330.6" y1="197.7" x2="333" y2="197.7" stroke="#56b0e3" stroke-width="0.6"/>
<rect x="329.3" y="183" width="5" height="6.2" fill="#b3daf3" stroke="#56b0e3" stroke-width="0.35"/>
<line x1="329.3" y1="185.4" x2="334.3" y2="185.4" stroke="#56b0e3" stroke-width="0.6"/>
<circle cx="330.54" cy="180.8" r="0.85" fill="#2f93d2"/>
<circle cx="332.22" cy="197.7" r="0.85" fill="#2f93d2"/>
<circle cx="331.56" cy="187.61" r="0.85" fill="#2f93d2"/>
<circle cx="331.85" cy="183.3" r="0.85" fill="#2f93d2"/>
<circle cx="333.22" cy="188.08" r="0.85" fill="#2f93d2"/>
<circle cx="330.48" cy="184.57" r="0.85" fill="#2f93d2"/>
<circle cx="330.82" cy="186.96" r="0.85" fill="#2f93d2"/>
<circle cx="332.35" cy="189.1" r="0.85" fill="#2f93d2"/>
<circle cx="330.08" cy="186.63" r="0.85" fill="#2f93d2"/>
<circle cx="330.01" cy="187.11" r="0.85" fill="#2f93d2"/>
<circle cx="331.28" cy="184.94" r="0.85" fill="#2f93d2"/>
<circle cx="330.38" cy="180.8" r="0.85" fill="#2f93d2"/>
<circle cx="331.29" cy="189.49" r="0.85" fill="#2f93d2"/>
<line x1="339.2" y1="178.8" x2="339.2" y2="193" stroke="#56b0e3" stroke-width="0.6"/>
<line x1="338" y1="178.8" x2="340.4" y2="178.8" stroke="#56b0e3" stroke-width="0.6"/>
<line x1="338" y1="193" x2="340.4" y2="193" stroke="#56b0e3" stroke-width="0.6"/>
<rect x="336.7" y="179.2" width="5" height="9.8" fill="#b3daf3" stroke="#56b0e3" stroke-width="0.35"/>
<line x1="336.7" y1="183.8" x2="341.7" y2="183.8" stroke="#56b0e3" stroke-width="0.6"/>
<circle cx="339.7" cy="178.8" r="0.85" fill="#2f93d2"/>
<circle cx="340.54" cy="193" r="0.85" fill="#2f93d2"/>
<circle cx="340.22" cy="181.4" r="0.85" fill="#2f93d2"/>
<circle cx="338.85" cy="184.92" r="0.85" fill="#2f93d2"/>
<circle cx="338.35" cy="184.97" r="0.85" fill="#2f93d2"/>
<circle cx="337.44" cy="181.2" r="0.85" fill="#2f93d2"/>
<circle cx="339.72" cy="185.31" r="0.85" fill="#2f93d2"/>
<circle cx="339.42" cy="183.85" r="0.85" fill="#2f93d2"/>
<circle cx="338.66" cy="180.52" r="0.85" fill="#2f93d2"/>
<circle cx="339.72" cy="188.38" r="0.85" fill="#2f93d2"/>
<circle cx="339" cy="181.59" r="0.85" fill="#2f93d2"/>
<circle cx="340.77" cy="178.86" r="0.85" fill="#2f93d2"/>
<circle cx="340.04" cy="189.38" r="0.85" fill="#2f93d2"/>
<line x1="346.6" y1="177.2" x2="346.6" y2="192.6" stroke="#56b0e3" stroke-width="0.6"/>
<line x1="345.4" y1="177.2" x2="347.8" y2="177.2" stroke="#56b0e3" stroke-width="0.6"/>
<line x1="345.4" y1="192.6" x2="347.8" y2="192.6" stroke="#56b0e3" stroke-width="0.6"/>
<rect x="344.1" y="180.3" width="5" height="8.2" fill="#b3daf3" stroke="#56b0e3" stroke-width="0.35"/>
<line x1="344.1" y1="184.6" x2="349.1" y2="184.6" stroke="#56b0e3" stroke-width="0.6"/>
<circle cx="345.31" cy="177.2" r="0.85" fill="#2f93d2"/>
<circle cx="345.52" cy="192.6" r="0.85" fill="#2f93d2"/>
<circle cx="346.99" cy="182.34" r="0.85" fill="#2f93d2"/>
<circle cx="346.63" cy="187.71" r="0.85" fill="#2f93d2"/>
<circle cx="347.11" cy="180.66" r="0.85" fill="#2f93d2"/>
<circle cx="347.73" cy="184.66" r="0.85" fill="#2f93d2"/>
<circle cx="345.43" cy="183.63" r="0.85" fill="#2f93d2"/>
<circle cx="345.91" cy="182.25" r="0.85" fill="#2f93d2"/>
<circle cx="345.88" cy="180.78" r="0.85" fill="#2f93d2"/>
<circle cx="344.97" cy="186.69" r="0.85" fill="#2f93d2"/>
<circle cx="348" cy="180.4" r="0.85" fill="#2f93d2"/>
<circle cx="347.62" cy="178.91" r="0.85" fill="#2f93d2"/>
<circle cx="347.38" cy="192.36" r="0.85" fill="#2f93d2"/>
<line x1="353.8" y1="176.2" x2="353.8" y2="198.2" stroke="#56b0e3" stroke-width="0.6"/>
<line x1="352.6" y1="176.2" x2="355" y2="176.2" stroke="#56b0e3" stroke-width="0.6"/>
<line x1="352.6" y1="198.2" x2="355" y2="198.2" stroke="#56b0e3" stroke-width="0.6"/>
<rect x="351.3" y="177" width="5" height="9.5" fill="#b3daf3" stroke="#56b0e3" stroke-width="0.35"/>
<line x1="351.3" y1="180.8" x2="356.3" y2="180.8" stroke="#56b0e3" stroke-width="0.6"/>
<circle cx="354.7" cy="176.2" r="0.85" fill="#2f93d2"/>
<circle cx="354.5" cy="198.2" r="0.85" fill="#2f93d2"/>
<circle cx="355.04" cy="177.06" r="0.85" fill="#2f93d2"/>
<circle cx="354.56" cy="185.02" r="0.85" fill="#2f93d2"/>
<circle cx="352.96" cy="184.08" r="0.85" fill="#2f93d2"/>
<circle cx="353.99" cy="181.42" r="0.85" fill="#2f93d2"/>
<circle cx="353.57" cy="184.05" r="0.85" fill="#2f93d2"/>
<circle cx="354.84" cy="181.3" r="0.85" fill="#2f93d2"/>
<circle cx="353.88" cy="179.15" r="0.85" fill="#2f93d2"/>
<circle cx="352.96" cy="178" r="0.85" fill="#2f93d2"/>
<circle cx="354.31" cy="179.21" r="0.85" fill="#2f93d2"/>
<circle cx="355.47" cy="176.23" r="0.85" fill="#2f93d2"/>
<circle cx="352.78" cy="190.43" r="0.85" fill="#2f93d2"/>
<text letter-spacing="0.06" font-size="8.8" stroke="#231f20" stroke-width="0.1" transform="translate(270.4 250.5) scale(0.75 1)">Months after pIpC</text>
<text letter-spacing="-0.02" font-size="6.8" font-style="italic" fill="#c40a2c" stroke="#c40a2c" stroke-width="0.1" transform="translate(245.2 143) scale(0.95 1)">Ppm1d</text>
<text letter-spacing="-0.05" font-size="4.5" font-style="italic" fill="#c40a2c" stroke="#c40a2c" stroke-width="0.1" transform="translate(265.9 140.48) scale(1.15 1)">T476*/+</text>
<text x="284.6" y="143" font-size="6.8" font-style="italic" fill="#c40a2c" stroke="#c40a2c" stroke-width="0.1">;</text>
<text letter-spacing="0.11" font-size="6.8" font-style="italic" fill="#c40a2c" stroke="#c40a2c" stroke-width="0.1" transform="translate(252.9 150.5) scale(0.90 1)">Mx-Cre+</text>
<text letter-spacing="0.09" font-size="6.8" font-style="italic" fill="#4db0e4" stroke="#4db0e4" stroke-width="0.1" transform="translate(307.5 143) scale(0.95 1)">Ppm1d</text>
<text font-size="4.5" font-style="italic" fill="#4db0e4" stroke="#4db0e4" stroke-width="0.1" transform="translate(328.6 140.48) scale(1.10 1)">T476*/+</text>
<text x="346.8" y="143" font-size="6.8" font-style="italic" fill="#4db0e4" stroke="#4db0e4" stroke-width="0.1">;</text>
<text letter-spacing="-0.10" font-size="6.8" font-style="italic" fill="#4db0e4" stroke="#4db0e4" stroke-width="0.1" transform="translate(315.6 150.5) scale(0.95 1)">Mx-Cre–</text>
<line x1="389" y1="152.6" x2="389" y2="227.1" stroke="#2a2a2a" stroke-width="1.25"/>
<line x1="388.4" y1="226.5" x2="512.3" y2="226.5" stroke="#2a2a2a" stroke-width="1.25"/>
<line x1="386.1" y1="226.5" x2="389" y2="226.5" stroke="#231f20" stroke-width="0.9"/>
<text letter-spacing="0.21" font-size="7" stroke="#231f20" stroke-width="0.1" transform="translate(376.9 228.9) scale(0.85 1)">30</text>
<line x1="386.1" y1="208.7" x2="389" y2="208.7" stroke="#231f20" stroke-width="0.9"/>
<text letter-spacing="0.21" font-size="7" stroke="#231f20" stroke-width="0.1" transform="translate(376.9 211.1) scale(0.85 1)">35</text>
<line x1="386.1" y1="190.9" x2="389" y2="190.9" stroke="#231f20" stroke-width="0.9"/>
<text letter-spacing="0.21" font-size="7" stroke="#231f20" stroke-width="0.1" transform="translate(376.9 193.3) scale(0.85 1)">40</text>
<line x1="386.1" y1="173" x2="389" y2="173" stroke="#231f20" stroke-width="0.9"/>
<text letter-spacing="0.21" font-size="7" stroke="#231f20" stroke-width="0.1" transform="translate(376.9 175.4) scale(0.85 1)">45</text>
<line x1="386.1" y1="155.2" x2="389" y2="155.2" stroke="#231f20" stroke-width="0.9"/>
<text letter-spacing="0.21" font-size="7" stroke="#231f20" stroke-width="0.1" transform="translate(376.9 157.6) scale(0.85 1)">50</text>
<line x1="393.7" y1="226.5" x2="393.7" y2="229.1" stroke="#231f20" stroke-width="0.9"/>
<line x1="401.2" y1="226.5" x2="401.2" y2="229.1" stroke="#231f20" stroke-width="0.9"/>
<line x1="408.5" y1="226.5" x2="408.5" y2="229.1" stroke="#231f20" stroke-width="0.9"/>
<line x1="415.7" y1="226.5" x2="415.7" y2="229.1" stroke="#231f20" stroke-width="0.9"/>
<line x1="423.2" y1="226.5" x2="423.2" y2="229.1" stroke="#231f20" stroke-width="0.9"/>
<line x1="430.4" y1="226.5" x2="430.4" y2="229.1" stroke="#231f20" stroke-width="0.9"/>
<line x1="437.5" y1="226.5" x2="437.5" y2="229.1" stroke="#231f20" stroke-width="0.9"/>
<line x1="444.8" y1="226.5" x2="444.8" y2="229.1" stroke="#231f20" stroke-width="0.9"/>
<line x1="457.2" y1="226.5" x2="457.2" y2="229.1" stroke="#231f20" stroke-width="0.9"/>
<line x1="464.3" y1="226.5" x2="464.3" y2="229.1" stroke="#231f20" stroke-width="0.9"/>
<line x1="471.8" y1="226.5" x2="471.8" y2="229.1" stroke="#231f20" stroke-width="0.9"/>
<line x1="479.2" y1="226.5" x2="479.2" y2="229.1" stroke="#231f20" stroke-width="0.9"/>
<line x1="486.2" y1="226.5" x2="486.2" y2="229.1" stroke="#231f20" stroke-width="0.9"/>
<line x1="493.5" y1="226.5" x2="493.5" y2="229.1" stroke="#231f20" stroke-width="0.9"/>
<line x1="501.2" y1="226.5" x2="501.2" y2="229.1" stroke="#231f20" stroke-width="0.9"/>
<line x1="508.5" y1="226.5" x2="508.5" y2="229.1" stroke="#231f20" stroke-width="0.9"/>
<line x1="451.2" y1="155.1" x2="451.2" y2="225.5" stroke="#262626" stroke-width="1.2" stroke-dasharray="2 1.5"/>
<line x1="393.7" y1="172" x2="393.7" y2="203.2" stroke="#d8404c" stroke-width="0.6"/>
<line x1="392.5" y1="172" x2="394.9" y2="172" stroke="#d8404c" stroke-width="0.6"/>
<line x1="392.5" y1="203.2" x2="394.9" y2="203.2" stroke="#d8404c" stroke-width="0.6"/>
<rect x="391.2" y="177.2" width="5" height="14.7" fill="#f2a0a0" stroke="#d8404c" stroke-width="0.35"/>
<line x1="391.2" y1="185.9" x2="396.2" y2="185.9" stroke="#d8404c" stroke-width="0.6"/>
<circle cx="395.17" cy="172" r="0.85" fill="#b8142f"/>
<circle cx="394.17" cy="203.2" r="0.85" fill="#b8142f"/>
<circle cx="394.39" cy="190.14" r="0.85" fill="#b8142f"/>
<circle cx="394.29" cy="177.42" r="0.85" fill="#b8142f"/>
<circle cx="395.42" cy="181.03" r="0.85" fill="#b8142f"/>
<circle cx="393.59" cy="180.67" r="0.85" fill="#b8142f"/>
<circle cx="394.92" cy="188.14" r="0.85" fill="#b8142f"/>
<circle cx="394.41" cy="191.09" r="0.85" fill="#b8142f"/>
<circle cx="394.99" cy="188.17" r="0.85" fill="#b8142f"/>
<circle cx="393.47" cy="182.01" r="0.85" fill="#b8142f"/>
<circle cx="394.51" cy="190.14" r="0.85" fill="#b8142f"/>
<circle cx="393.95" cy="173.71" r="0.85" fill="#b8142f"/>
<circle cx="393.01" cy="194.6" r="0.85" fill="#b8142f"/>
<line x1="401.2" y1="175.5" x2="401.2" y2="189.3" stroke="#d8404c" stroke-width="0.6"/>
<line x1="400" y1="175.5" x2="402.4" y2="175.5" stroke="#d8404c" stroke-width="0.6"/>
<line x1="400" y1="189.3" x2="402.4" y2="189.3" stroke="#d8404c" stroke-width="0.6"/>
<rect x="398.7" y="176.3" width="5" height="11.3" fill="#f2a0a0" stroke="#d8404c" stroke-width="0.35"/>
<line x1="398.7" y1="181.5" x2="403.7" y2="181.5" stroke="#d8404c" stroke-width="0.6"/>
<circle cx="399.55" cy="175.5" r="0.85" fill="#b8142f"/>
<circle cx="401.89" cy="189.3" r="0.85" fill="#b8142f"/>
<circle cx="401.68" cy="178.7" r="0.85" fill="#b8142f"/>
<circle cx="401.91" cy="183.34" r="0.85" fill="#b8142f"/>
<circle cx="402.05" cy="177.18" r="0.85" fill="#b8142f"/>
<circle cx="399.64" cy="186.59" r="0.85" fill="#b8142f"/>
<circle cx="401.53" cy="177.93" r="0.85" fill="#b8142f"/>
<circle cx="400.71" cy="176.6" r="0.85" fill="#b8142f"/>
<circle cx="402.34" cy="177.51" r="0.85" fill="#b8142f"/>
<circle cx="402.35" cy="186.8" r="0.85" fill="#b8142f"/>
<circle cx="402.61" cy="180.2" r="0.85" fill="#b8142f"/>
<circle cx="399.64" cy="175.61" r="0.85" fill="#b8142f"/>
<circle cx="402.52" cy="187.65" r="0.85" fill="#b8142f"/>
<line x1="408.5" y1="172.5" x2="408.5" y2="189.3" stroke="#d8404c" stroke-width="0.6"/>
<line x1="407.3" y1="172.5" x2="409.7" y2="172.5" stroke="#d8404c" stroke-width="0.6"/>
<line x1="407.3" y1="189.3" x2="409.7" y2="189.3" stroke="#d8404c" stroke-width="0.6"/>
<rect x="406" y="176.3" width="5" height="9.6" fill="#f2a0a0" stroke="#d8404c" stroke-width="0.35"/>
<line x1="406" y1="180.7" x2="411" y2="180.7" stroke="#d8404c" stroke-width="0.6"/>
<circle cx="407.73" cy="172.5" r="0.85" fill="#b8142f"/>
<circle cx="407.06" cy="189.3" r="0.85" fill="#b8142f"/>
<circle cx="407.05" cy="185.08" r="0.85" fill="#b8142f"/>
<circle cx="409.43" cy="185.37" r="0.85" fill="#b8142f"/>
<circle cx="407.44" cy="177.33" r="0.85" fill="#b8142f"/>
<circle cx="407.85" cy="178.27" r="0.85" fill="#b8142f"/>
<circle cx="408.23" cy="177.37" r="0.85" fill="#b8142f"/>
<circle cx="406.78" cy="176.63" r="0.85" fill="#b8142f"/>
<circle cx="407.62" cy="184.44" r="0.85" fill="#b8142f"/>
<circle cx="407.72" cy="184.1" r="0.85" fill="#b8142f"/>
<circle cx="409.28" cy="182.39" r="0.85" fill="#b8142f"/>
<circle cx="408.02" cy="175.64" r="0.85" fill="#b8142f"/>
<circle cx="407.85" cy="188.05" r="0.85" fill="#b8142f"/>
<line x1="415.7" y1="177.2" x2="415.7" y2="194" stroke="#d8404c" stroke-width="0.6"/>
<line x1="414.5" y1="177.2" x2="416.9" y2="177.2" stroke="#d8404c" stroke-width="0.6"/>
<line x1="414.5" y1="194" x2="416.9" y2="194" stroke="#d8404c" stroke-width="0.6"/>
<rect x="413.2" y="182.4" width="5" height="6.4" fill="#f2a0a0" stroke="#d8404c" stroke-width="0.35"/>
<line x1="413.2" y1="185.3" x2="418.2" y2="185.3" stroke="#d8404c" stroke-width="0.6"/>
<circle cx="414.68" cy="177.2" r="0.85" fill="#b8142f"/>
<circle cx="417" cy="194" r="0.85" fill="#b8142f"/>
<circle cx="414.23" cy="188.57" r="0.85" fill="#b8142f"/>
<circle cx="416.85" cy="185.62" r="0.85" fill="#b8142f"/>
<circle cx="414.51" cy="187.85" r="0.85" fill="#b8142f"/>
<circle cx="413.9" cy="186.36" r="0.85" fill="#b8142f"/>
<circle cx="414.63" cy="182.6" r="0.85" fill="#b8142f"/>
<circle cx="416.64" cy="185.04" r="0.85" fill="#b8142f"/>
<circle cx="417.42" cy="185.19" r="0.85" fill="#b8142f"/>
<circle cx="413.92" cy="187.35" r="0.85" fill="#b8142f"/>
<circle cx="415.67" cy="184.62" r="0.85" fill="#b8142f"/>
<circle cx="415.67" cy="180.86" r="0.85" fill="#b8142f"/>
<circle cx="416.77" cy="191.6" r="0.85" fill="#b8142f"/>
<line x1="423.2" y1="180.7" x2="423.2" y2="198" stroke="#d8404c" stroke-width="0.6"/>
<line x1="422" y1="180.7" x2="424.4" y2="180.7" stroke="#d8404c" stroke-width="0.6"/>
<line x1="422" y1="198" x2="424.4" y2="198" stroke="#d8404c" stroke-width="0.6"/>
<rect x="420.7" y="184.7" width="5" height="9.3" fill="#f2a0a0" stroke="#d8404c" stroke-width="0.35"/>
<line x1="420.7" y1="191" x2="425.7" y2="191" stroke="#d8404c" stroke-width="0.6"/>
<circle cx="423.69" cy="180.7" r="0.85" fill="#b8142f"/>
<circle cx="421.69" cy="198" r="0.85" fill="#b8142f"/>
<circle cx="424.24" cy="186.42" r="0.85" fill="#b8142f"/>
<circle cx="423.91" cy="189.3" r="0.85" fill="#b8142f"/>
<circle cx="424.23" cy="187.93" r="0.85" fill="#b8142f"/>
<circle cx="423.66" cy="192.44" r="0.85" fill="#b8142f"/>
<circle cx="422.68" cy="187.12" r="0.85" fill="#b8142f"/>
<circle cx="422.84" cy="193.48" r="0.85" fill="#b8142f"/>
<circle cx="422.82" cy="187.34" r="0.85" fill="#b8142f"/>
<circle cx="424.61" cy="186.7" r="0.85" fill="#b8142f"/>
<circle cx="421.71" cy="191.21" r="0.85" fill="#b8142f"/>
<circle cx="424.6" cy="182.69" r="0.85" fill="#b8142f"/>
<circle cx="421.49" cy="194.44" r="0.85" fill="#b8142f"/>
<line x1="430.4" y1="181.2" x2="430.4" y2="196.2" stroke="#d8404c" stroke-width="0.6"/>
<line x1="429.2" y1="181.2" x2="431.6" y2="181.2" stroke="#d8404c" stroke-width="0.6"/>
<line x1="429.2" y1="196.2" x2="431.6" y2="196.2" stroke="#d8404c" stroke-width="0.6"/>
<rect x="427.9" y="185.3" width="5" height="9.7" fill="#f2a0a0" stroke="#d8404c" stroke-width="0.35"/>
<line x1="427.9" y1="190.5" x2="432.9" y2="190.5" stroke="#d8404c" stroke-width="0.6"/>
<circle cx="430.93" cy="181.2" r="0.85" fill="#b8142f"/>
<circle cx="429.85" cy="196.2" r="0.85" fill="#b8142f"/>
<circle cx="429.78" cy="187.3" r="0.85" fill="#b8142f"/>
<circle cx="429.16" cy="187.85" r="0.85" fill="#b8142f"/>
<circle cx="431.64" cy="194.04" r="0.85" fill="#b8142f"/>
<circle cx="430.98" cy="190.16" r="0.85" fill="#b8142f"/>
<circle cx="431.27" cy="188.98" r="0.85" fill="#b8142f"/>
<circle cx="429.21" cy="193.87" r="0.85" fill="#b8142f"/>
<circle cx="430.18" cy="187.57" r="0.85" fill="#b8142f"/>
<circle cx="431.38" cy="189.77" r="0.85" fill="#b8142f"/>
<circle cx="430.69" cy="190.46" r="0.85" fill="#b8142f"/>
<circle cx="429.05" cy="184.29" r="0.85" fill="#b8142f"/>
<circle cx="430.26" cy="195.9" r="0.85" fill="#b8142f"/>
<line x1="437.5" y1="184.7" x2="437.5" y2="195" stroke="#d8404c" stroke-width="0.6"/>
<line x1="436.3" y1="184.7" x2="438.7" y2="184.7" stroke="#d8404c" stroke-width="0.6"/>
<line x1="436.3" y1="195" x2="438.7" y2="195" stroke="#d8404c" stroke-width="0.6"/>
<rect x="435" y="186.4" width="5" height="4.6" fill="#f2a0a0" stroke="#d8404c" stroke-width="0.35"/>
<line x1="435" y1="188.5" x2="440" y2="188.5" stroke="#d8404c" stroke-width="0.6"/>
<circle cx="436.28" cy="184.7" r="0.85" fill="#b8142f"/>
<circle cx="436.88" cy="195" r="0.85" fill="#b8142f"/>
<circle cx="436.38" cy="190.47" r="0.85" fill="#b8142f"/>
<circle cx="439.21" cy="187.49" r="0.85" fill="#b8142f"/>
<circle cx="438.32" cy="187.28" r="0.85" fill="#b8142f"/>
<circle cx="436.07" cy="187.79" r="0.85" fill="#b8142f"/>
<circle cx="439.16" cy="189.63" r="0.85" fill="#b8142f"/>
<circle cx="436.07" cy="190.28" r="0.85" fill="#b8142f"/>
<circle cx="437.08" cy="187.11" r="0.85" fill="#b8142f"/>
<circle cx="439.24" cy="187.12" r="0.85" fill="#b8142f"/>
<circle cx="438.56" cy="187.54" r="0.85" fill="#b8142f"/>
<circle cx="438.34" cy="185.26" r="0.85" fill="#b8142f"/>
<circle cx="437.27" cy="193.09" r="0.85" fill="#b8142f"/>
<line x1="444.8" y1="181.5" x2="444.8" y2="197.1" stroke="#d8404c" stroke-width="0.6"/>
<line x1="443.6" y1="181.5" x2="446" y2="181.5" stroke="#d8404c" stroke-width="0.6"/>
<line x1="443.6" y1="197.1" x2="446" y2="197.1" stroke="#d8404c" stroke-width="0.6"/>
<rect x="442.3" y="190.2" width="5" height="3.8" fill="#f2a0a0" stroke="#d8404c" stroke-width="0.35"/>
<line x1="442.3" y1="191.9" x2="447.3" y2="191.9" stroke="#d8404c" stroke-width="0.6"/>
<circle cx="444.67" cy="181.5" r="0.85" fill="#b8142f"/>
<circle cx="443.51" cy="197.1" r="0.85" fill="#b8142f"/>
<circle cx="445.17" cy="190.95" r="0.85" fill="#b8142f"/>
<circle cx="444.46" cy="192.62" r="0.85" fill="#b8142f"/>
<circle cx="445.67" cy="190.61" r="0.85" fill="#b8142f"/>
<circle cx="446.27" cy="190.98" r="0.85" fill="#b8142f"/>
<circle cx="444.55" cy="191.68" r="0.85" fill="#b8142f"/>
<circle cx="445.07" cy="190.33" r="0.85" fill="#b8142f"/>
<circle cx="445.7" cy="191.72" r="0.85" fill="#b8142f"/>
<circle cx="444.52" cy="193.21" r="0.85" fill="#b8142f"/>
<circle cx="443.82" cy="192.84" r="0.85" fill="#b8142f"/>
<circle cx="445.6" cy="185.85" r="0.85" fill="#b8142f"/>
<circle cx="446.17" cy="195.96" r="0.85" fill="#b8142f"/>
<line x1="457.2" y1="176.6" x2="457.2" y2="215.4" stroke="#56b0e3" stroke-width="0.6"/>
<line x1="456" y1="176.6" x2="458.4" y2="176.6" stroke="#56b0e3" stroke-width="0.6"/>
<line x1="456" y1="215.4" x2="458.4" y2="215.4" stroke="#56b0e3" stroke-width="0.6"/>
<rect x="454.7" y="184.3" width="5" height="8" fill="#b3daf3" stroke="#56b0e3" stroke-width="0.35"/>
<line x1="454.7" y1="188.9" x2="459.7" y2="188.9" stroke="#56b0e3" stroke-width="0.6"/>
<circle cx="457.97" cy="176.6" r="0.85" fill="#2f93d2"/>
<circle cx="457.67" cy="215.4" r="0.85" fill="#2f93d2"/>
<circle cx="456.3" cy="190.49" r="0.85" fill="#2f93d2"/>
<circle cx="456.92" cy="189.9" r="0.85" fill="#2f93d2"/>
<circle cx="457.04" cy="191.12" r="0.85" fill="#2f93d2"/>
<circle cx="457.64" cy="189.74" r="0.85" fill="#2f93d2"/>
<circle cx="456.87" cy="189.43" r="0.85" fill="#2f93d2"/>
<circle cx="457.83" cy="187.93" r="0.85" fill="#2f93d2"/>
<circle cx="458.75" cy="186.8" r="0.85" fill="#2f93d2"/>
<circle cx="456.06" cy="189.33" r="0.85" fill="#2f93d2"/>
<circle cx="457.76" cy="185.08" r="0.85" fill="#2f93d2"/>
<circle cx="458.2" cy="179.83" r="0.85" fill="#2f93d2"/>
<circle cx="456.8" cy="210.37" r="0.85" fill="#2f93d2"/>
<line x1="464.3" y1="178.2" x2="464.3" y2="197.7" stroke="#56b0e3" stroke-width="0.6"/>
<line x1="463.1" y1="178.2" x2="465.5" y2="178.2" stroke="#56b0e3" stroke-width="0.6"/>
<line x1="463.1" y1="197.7" x2="465.5" y2="197.7" stroke="#56b0e3" stroke-width="0.6"/>
<rect x="461.8" y="181.5" width="5" height="7" fill="#b3daf3" stroke="#56b0e3" stroke-width="0.35"/>
<line x1="461.8" y1="185.4" x2="466.8" y2="185.4" stroke="#56b0e3" stroke-width="0.6"/>
<circle cx="465.08" cy="178.2" r="0.85" fill="#2f93d2"/>
<circle cx="464.34" cy="197.7" r="0.85" fill="#2f93d2"/>
<circle cx="464.8" cy="184.93" r="0.85" fill="#2f93d2"/>
<circle cx="465.48" cy="188.32" r="0.85" fill="#2f93d2"/>
<circle cx="464.38" cy="181.77" r="0.85" fill="#2f93d2"/>
<circle cx="463.98" cy="185.3" r="0.85" fill="#2f93d2"/>
<circle cx="465.91" cy="182.63" r="0.85" fill="#2f93d2"/>
<circle cx="463.26" cy="186.97" r="0.85" fill="#2f93d2"/>
<circle cx="464.96" cy="188.08" r="0.85" fill="#2f93d2"/>
<circle cx="463.91" cy="185.13" r="0.85" fill="#2f93d2"/>
<circle cx="465.25" cy="182.21" r="0.85" fill="#2f93d2"/>
<circle cx="462.94" cy="180.1" r="0.85" fill="#2f93d2"/>
<circle cx="466.04" cy="193.48" r="0.85" fill="#2f93d2"/>
<line x1="471.8" y1="180.3" x2="471.8" y2="206.2" stroke="#56b0e3" stroke-width="0.6"/>
<line x1="470.6" y1="180.3" x2="473" y2="180.3" stroke="#56b0e3" stroke-width="0.6"/>
<line x1="470.6" y1="206.2" x2="473" y2="206.2" stroke="#56b0e3" stroke-width="0.6"/>
<rect x="469.3" y="185.4" width="5" height="13.8" fill="#b3daf3" stroke="#56b0e3" stroke-width="0.35"/>
<line x1="469.3" y1="192.6" x2="474.3" y2="192.6" stroke="#56b0e3" stroke-width="0.6"/>
<circle cx="472.67" cy="180.3" r="0.85" fill="#2f93d2"/>
<circle cx="473.38" cy="206.2" r="0.85" fill="#2f93d2"/>
<circle cx="471.9" cy="190.31" r="0.85" fill="#2f93d2"/>
<circle cx="470.79" cy="186.18" r="0.85" fill="#2f93d2"/>
<circle cx="472.89" cy="189.19" r="0.85" fill="#2f93d2"/>
<circle cx="471.41" cy="190.92" r="0.85" fill="#2f93d2"/>
<circle cx="470.76" cy="185.58" r="0.85" fill="#2f93d2"/>
<circle cx="470.47" cy="191.18" r="0.85" fill="#2f93d2"/>
<circle cx="472.8" cy="191.2" r="0.85" fill="#2f93d2"/>
<circle cx="472.91" cy="195.04" r="0.85" fill="#2f93d2"/>
<circle cx="472.28" cy="190.26" r="0.85" fill="#2f93d2"/>
<circle cx="471.69" cy="181.65" r="0.85" fill="#2f93d2"/>
<circle cx="472.02" cy="200.77" r="0.85" fill="#2f93d2"/>
<line x1="479.2" y1="181.8" x2="479.2" y2="185.8" stroke="#56b0e3" stroke-width="0.6"/>
<line x1="478" y1="181.8" x2="480.4" y2="181.8" stroke="#56b0e3" stroke-width="0.6"/>
<line x1="478" y1="185.8" x2="480.4" y2="185.8" stroke="#56b0e3" stroke-width="0.6"/>
<rect x="476.7" y="182.3" width="5" height="3.5" fill="#b3daf3" stroke="#56b0e3" stroke-width="0.35"/>
<line x1="476.7" y1="183.8" x2="481.7" y2="183.8" stroke="#56b0e3" stroke-width="0.6"/>
<circle cx="478.68" cy="181.8" r="0.85" fill="#2f93d2"/>
<circle cx="480.46" cy="185.8" r="0.85" fill="#2f93d2"/>
<circle cx="478.36" cy="183.09" r="0.85" fill="#2f93d2"/>
<circle cx="478.75" cy="185.67" r="0.85" fill="#2f93d2"/>
<circle cx="478.31" cy="183.54" r="0.85" fill="#2f93d2"/>
<circle cx="478.93" cy="184.54" r="0.85" fill="#2f93d2"/>
<circle cx="478.07" cy="185.17" r="0.85" fill="#2f93d2"/>
<circle cx="477.41" cy="185.16" r="0.85" fill="#2f93d2"/>
<circle cx="480" cy="183.94" r="0.85" fill="#2f93d2"/>
<circle cx="478.41" cy="183.33" r="0.85" fill="#2f93d2"/>
<circle cx="478.28" cy="184.22" r="0.85" fill="#2f93d2"/>
<circle cx="478.49" cy="181.86" r="0.85" fill="#2f93d2"/>
<circle cx="479.13" cy="185.8" r="0.85" fill="#2f93d2"/>
<line x1="486.2" y1="178.2" x2="486.2" y2="196.2" stroke="#56b0e3" stroke-width="0.6"/>
<line x1="485" y1="178.2" x2="487.4" y2="178.2" stroke="#56b0e3" stroke-width="0.6"/>
<line x1="485" y1="196.2" x2="487.4" y2="196.2" stroke="#56b0e3" stroke-width="0.6"/>
<rect x="483.7" y="181.5" width="5" height="6.5" fill="#b3daf3" stroke="#56b0e3" stroke-width="0.35"/>
<line x1="483.7" y1="184.3" x2="488.7" y2="184.3" stroke="#56b0e3" stroke-width="0.6"/>
<circle cx="487.39" cy="178.2" r="0.85" fill="#2f93d2"/>
<circle cx="486.68" cy="196.2" r="0.85" fill="#2f93d2"/>
<circle cx="484.45" cy="184.29" r="0.85" fill="#2f93d2"/>
<circle cx="484.44" cy="185.64" r="0.85" fill="#2f93d2"/>
<circle cx="487.83" cy="185.79" r="0.85" fill="#2f93d2"/>
<circle cx="486.76" cy="183.86" r="0.85" fill="#2f93d2"/>
<circle cx="485.3" cy="187.54" r="0.85" fill="#2f93d2"/>
<circle cx="484.77" cy="187.05" r="0.85" fill="#2f93d2"/>
<circle cx="484.91" cy="181.87" r="0.85" fill="#2f93d2"/>
<circle cx="485.24" cy="186.88" r="0.85" fill="#2f93d2"/>
<circle cx="487.19" cy="187.39" r="0.85" fill="#2f93d2"/>
<circle cx="485.65" cy="180.79" r="0.85" fill="#2f93d2"/>
<circle cx="484.95" cy="189.15" r="0.85" fill="#2f93d2"/>
<line x1="493.5" y1="179.7" x2="493.5" y2="193" stroke="#56b0e3" stroke-width="0.6"/>
<line x1="492.3" y1="179.7" x2="494.7" y2="179.7" stroke="#56b0e3" stroke-width="0.6"/>
<line x1="492.3" y1="193" x2="494.7" y2="193" stroke="#56b0e3" stroke-width="0.6"/>
<rect x="491" y="188.5" width="5" height="4.5" fill="#b3daf3" stroke="#56b0e3" stroke-width="0.35"/>
<line x1="491" y1="190" x2="496" y2="190" stroke="#56b0e3" stroke-width="0.6"/>
<circle cx="494.19" cy="179.7" r="0.85" fill="#2f93d2"/>
<circle cx="493.61" cy="193" r="0.85" fill="#2f93d2"/>
<circle cx="494.37" cy="192.57" r="0.85" fill="#2f93d2"/>
<circle cx="493.28" cy="192.06" r="0.85" fill="#2f93d2"/>
<circle cx="494.88" cy="189.26" r="0.85" fill="#2f93d2"/>
<circle cx="493.7" cy="192.51" r="0.85" fill="#2f93d2"/>
<circle cx="492.65" cy="191.24" r="0.85" fill="#2f93d2"/>
<circle cx="492.54" cy="192.02" r="0.85" fill="#2f93d2"/>
<circle cx="492.2" cy="191.51" r="0.85" fill="#2f93d2"/>
<circle cx="493.48" cy="192.52" r="0.85" fill="#2f93d2"/>
<circle cx="491.91" cy="192.05" r="0.85" fill="#2f93d2"/>
<circle cx="493.38" cy="187.08" r="0.85" fill="#2f93d2"/>
<circle cx="492.22" cy="193" r="0.85" fill="#2f93d2"/>
<line x1="501.2" y1="178.5" x2="501.2" y2="192.3" stroke="#56b0e3" stroke-width="0.6"/>
<line x1="500" y1="178.5" x2="502.4" y2="178.5" stroke="#56b0e3" stroke-width="0.6"/>
<line x1="500" y1="192.3" x2="502.4" y2="192.3" stroke="#56b0e3" stroke-width="0.6"/>
<rect x="498.7" y="183.8" width="5" height="5.4" fill="#b3daf3" stroke="#56b0e3" stroke-width="0.35"/>
<line x1="498.7" y1="186.2" x2="503.7" y2="186.2" stroke="#56b0e3" stroke-width="0.6"/>
<circle cx="500.91" cy="178.5" r="0.85" fill="#2f93d2"/>
<circle cx="502.86" cy="192.3" r="0.85" fill="#2f93d2"/>
<circle cx="499.67" cy="186.45" r="0.85" fill="#2f93d2"/>
<circle cx="501.69" cy="186.49" r="0.85" fill="#2f93d2"/>
<circle cx="501.69" cy="186.71" r="0.85" fill="#2f93d2"/>
<circle cx="499.5" cy="188.46" r="0.85" fill="#2f93d2"/>
<circle cx="501.59" cy="183.84" r="0.85" fill="#2f93d2"/>
<circle cx="501.86" cy="188.34" r="0.85" fill="#2f93d2"/>
<circle cx="502.75" cy="186.33" r="0.85" fill="#2f93d2"/>
<circle cx="500.59" cy="186.84" r="0.85" fill="#2f93d2"/>
<circle cx="502.93" cy="187.39" r="0.85" fill="#2f93d2"/>
<circle cx="501.24" cy="182.95" r="0.85" fill="#2f93d2"/>
<circle cx="501.14" cy="190.36" r="0.85" fill="#2f93d2"/>
<line x1="508.5" y1="185.4" x2="508.5" y2="208" stroke="#56b0e3" stroke-width="0.6"/>
<line x1="507.3" y1="185.4" x2="509.7" y2="185.4" stroke="#56b0e3" stroke-width="0.6"/>
<line x1="507.3" y1="208" x2="509.7" y2="208" stroke="#56b0e3" stroke-width="0.6"/>
<rect x="506" y="192.3" width="5" height="5.9" fill="#b3daf3" stroke="#56b0e3" stroke-width="0.35"/>
<line x1="506" y1="194.6" x2="511" y2="194.6" stroke="#56b0e3" stroke-width="0.6"/>
<circle cx="508.27" cy="185.4" r="0.85" fill="#2f93d2"/>
<circle cx="508.22" cy="208" r="0.85" fill="#2f93d2"/>
<circle cx="508.69" cy="197.6" r="0.85" fill="#2f93d2"/>
<circle cx="509.68" cy="192.5" r="0.85" fill="#2f93d2"/>
<circle cx="507.75" cy="196.54" r="0.85" fill="#2f93d2"/>
<circle cx="509.68" cy="195.99" r="0.85" fill="#2f93d2"/>
<circle cx="508.15" cy="194.3" r="0.85" fill="#2f93d2"/>
<circle cx="508.51" cy="197.38" r="0.85" fill="#2f93d2"/>
<circle cx="507.68" cy="194.46" r="0.85" fill="#2f93d2"/>
<circle cx="508.52" cy="195.1" r="0.85" fill="#2f93d2"/>
<circle cx="510.21" cy="195.4" r="0.85" fill="#2f93d2"/>
<circle cx="509.06" cy="190.72" r="0.85" fill="#2f93d2"/>
<circle cx="509.55" cy="200.27" r="0.85" fill="#2f93d2"/>
<text letter-spacing="0.10" font-size="8.8" stroke="#231f20" stroke-width="0.1" transform="translate(424.8 250.6) scale(0.75 1)">Months after pIpC</text>
<text letter-spacing="0.06" font-size="6.8" font-style="italic" fill="#c40a2c" stroke="#c40a2c" stroke-width="0.1" transform="translate(399.6 143) scale(0.90 1)">Ppm1d</text>
<text letter-spacing="-0.02" font-size="4.5" font-style="italic" fill="#c40a2c" stroke="#c40a2c" stroke-width="0.1" transform="translate(419.5 140.48) scale(1.30 1)">T476*/+</text>
<text x="440.6" y="143" font-size="6.8" font-style="italic" fill="#c40a2c" stroke="#c40a2c" stroke-width="0.1">;</text>
<text x="406.5" y="150.5" letter-spacing="-0.04" font-size="6.8" fill="#c40a2c" stroke="#c40a2c" stroke-width="0.1">Mx-Cre+</text>
<text letter-spacing="0.06" font-size="6.8" font-style="italic" fill="#4db0e4" stroke="#4db0e4" stroke-width="0.1" transform="translate(461.9 143) scale(0.90 1)">Ppm1d</text>
<text letter-spacing="-0.02" font-size="4.5" font-style="italic" fill="#4db0e4" stroke="#4db0e4" stroke-width="0.1" transform="translate(481.8 140.48) scale(1.30 1)">T476*/+</text>
<text x="502.7" y="143" font-size="6.8" font-style="italic" fill="#4db0e4" stroke="#4db0e4" stroke-width="0.1">;</text>
<text font-size="6.8" fill="#4db0e4" stroke="#4db0e4" stroke-width="0.1" transform="translate(470 150.5) scale(0.90 1)">Mx-Cre–</text>
<text letter-spacing="-0.08" font-size="10.4" font-weight="bold" stroke="#231f20" stroke-width="0.35" transform="translate(204.2 268.3) scale(1.05 1)">D</text>
<text letter-spacing="-0.02" font-size="6.9" font-style="italic" stroke="#231f20" stroke-width="0.1" transform="translate(221 267.6) scale(0.85 1)">Ppm1d</text>
<text letter-spacing="-0.06" font-size="4.55" font-style="italic" stroke="#231f20" stroke-width="0.1" transform="translate(239.8 265.05) scale(1.30 1)">+/+</text>
<text letter-spacing="0.08" font-size="6.9" font-style="italic" stroke="#231f20" stroke-width="0.1" transform="translate(250 267.6) scale(0.95 1)">or</text>
<text letter-spacing="0.15" font-size="6.9" font-style="italic" stroke="#231f20" stroke-width="0.1" transform="translate(218.8 277.7) scale(0.90 1)">Ppm1d</text>
<text letter-spacing="-0.04" font-size="4.55" font-style="italic" stroke="#231f20" stroke-width="0.1" transform="translate(239.3 275.15) scale(1.20 1)">T476*/+</text>
<g transform="translate(230.4 295.5) scale(1)">
<path d="M-6.9 -11.1 L-6.9 -6.6 Q-6.9 -4.8 -4.5 -4.7 Q-1.2 -4.4 0 0 M0 0 L23.5 0 M0 0 C0.6 -4.6 3.6 -8.6 8.1 -9.1 C10 -9.3 11.8 -9.4 13.3 -9.3 M13.3 -9.3 C13.1 -10.7 15.2 -11.2 16.6 -10.5 C17.5 -10.0 17.0 -8.7 15.9 -8.9 M16.6 -10.4 C18.6 -10.1 20.4 -9.5 20.5 -7.6 C20.5 -6.4 19.2 -5.7 19.2 -4.7 C19.2 -3.7 20.2 -3.2 21.2 -2.4 L23.5 0" fill="none" stroke="#262626" stroke-width="0.85" stroke-linecap="round" stroke-linejoin="round"/>
<path d="M21.3 -2.6 L23.8 0.25 L20.9 0.25 Z" fill="#111"/>
</g>
<text letter-spacing="-0.10" font-size="6.6" stroke="#231f20" stroke-width="0.1" transform="translate(231.6 302.3) scale(0.95 1)">CD45.2</text>
<text letter-spacing="-0.03" font-size="6.6" stroke="#231f20" stroke-width="0.1" transform="translate(237.55 321) scale(0.85 1)">WT</text>
<g transform="translate(230.4 334.5) scale(1)">
<path d="M-6.9 -11.1 L-6.9 -6.6 Q-6.9 -4.8 -4.5 -4.7 Q-1.2 -4.4 0 0 M0 0 L23.5 0 M0 0 C0.6 -4.6 3.6 -8.6 8.1 -9.1 C10 -9.3 11.8 -9.4 13.3 -9.3 M13.3 -9.3 C13.1 -10.7 15.2 -11.2 16.6 -10.5 C17.5 -10.0 17.0 -8.7 15.9 -8.9 M16.6 -10.4 C18.6 -10.1 20.4 -9.5 20.5 -7.6 C20.5 -6.4 19.2 -5.7 19.2 -4.7 C19.2 -3.7 20.2 -3.2 21.2 -2.4 L23.5 0" fill="none" stroke="#262626" stroke-width="0.85" stroke-linecap="round" stroke-linejoin="round"/>
<path d="M21.3 -2.6 L23.8 0.25 L20.9 0.25 Z" fill="#111"/>
</g>
<text x="228.5" y="341.8" letter-spacing="-0.10" font-size="6.6" stroke="#231f20" stroke-width="0.1">CD45.1/2</text>
<path d="M258 292.1 C270 292.3 283.5 295.5 287.9 304.8" fill="none" stroke="#333" stroke-width="0.75"/>
<path d="M287.9 304.8 L284.83 302.05 L286.6 302.05 L287.72 300.68 Z" fill="#333"/>
<path d="M258 335.4 C270 335 283.5 331.5 287.9 322" fill="none" stroke="#333" stroke-width="0.75"/>
<path d="M287.9 322 L287.75 326.12 L286.62 324.76 L284.85 324.78 Z" fill="#333"/>
<text letter-spacing="0.22" font-size="6.6" stroke="#231f20" stroke-width="0.1" transform="translate(276 293.4) scale(0.85 1)">BM</text>
<text letter-spacing="0.16" font-size="6.6" font-style="italic" stroke="#231f20" stroke-width="0.1" transform="translate(267.25 302.4) scale(0.85 1)">50%</text>
<text letter-spacing="0.16" font-size="6.6" font-style="italic" stroke="#231f20" stroke-width="0.1" transform="translate(267.25 328.4) scale(0.85 1)">50%</text>
<text letter-spacing="0.22" font-size="6.6" stroke="#231f20" stroke-width="0.1" transform="translate(276 338.9) scale(0.85 1)">BM</text>
<g transform="translate(292.5 317.5) scale(1)">
<path d="M-6.9 -11.1 L-6.9 -6.6 Q-6.9 -4.8 -4.5 -4.7 Q-1.2 -4.4 0 0 M0 0 L23.5 0 M0 0 C0.6 -4.6 3.6 -8.6 8.1 -9.1 C10 -9.3 11.8 -9.4 13.3 -9.3 M13.3 -9.3 C13.1 -10.7 15.2 -11.2 16.6 -10.5 C17.5 -10.0 17.0 -8.7 15.9 -8.9 M16.6 -10.4 C18.6 -10.1 20.4 -9.5 20.5 -7.6 C20.5 -6.4 19.2 -5.7 19.2 -4.7 C19.2 -3.7 20.2 -3.2 21.2 -2.4 L23.5 0" fill="none" stroke="#262626" stroke-width="0.85" stroke-linecap="round" stroke-linejoin="round"/>
<path d="M21.3 -2.6 L23.8 0.25 L20.9 0.25 Z" fill="#111"/>
</g>
<text letter-spacing="-0.05" font-size="6.6" stroke="#231f20" stroke-width="0.1" transform="translate(293.5 324.2) scale(0.95 1)">CD45.1</text>
<line x1="315.6" y1="312.5" x2="371.5" y2="312.5" stroke="#3d4f66" stroke-width="1.3"/>
<path d="M377.1 312.5 L369.1 315.3 L371.1 312.5 L369.1 309.7 Z" fill="#3d4f66"/>
<text x="325.25" y="298.7" font-size="6.6" stroke="#231f20" stroke-width="0.1">Hematopoietic</text>
<text x="325.85" y="306.8" letter-spacing="-0.06" font-size="6.6" stroke="#231f20" stroke-width="0.1">Reconstitution</text>
<text letter-spacing="0.04" font-size="6.6" font-weight="bold" stroke="#231f20" stroke-width="0.1" transform="translate(380.05 306.9) scale(0.95 1)">Treatment</text>
<text letter-spacing="0.03" font-size="6.6" stroke="#231f20" stroke-width="0.1" transform="translate(385.85 314.7) scale(0.90 1)">Vehicle</text>
<text letter-spacing="0.06" font-size="6.6" stroke="#231f20" stroke-width="0.1" transform="translate(382.95 322.2) scale(0.95 1)">Cisplatin</text>
<text letter-spacing="0.19" font-size="6.6" stroke="#231f20" stroke-width="0.1" transform="translate(390.15 329.1) scale(0.75 1)">XRT</text>
<rect x="439.5" y="271.5" width="31" height="28" fill="#fff" stroke="#a3a3a3" stroke-width="1"/>
<rect x="440.5" y="272.5" width="29" height="26" fill="none" stroke="#cfcfcf" stroke-width="1"/>
<line x1="454.5" y1="273" x2="454.5" y2="298" stroke="#4a4a4a" stroke-width="1"/>
<line x1="441" y1="286.5" x2="469" y2="286.5" stroke="#4a4a4a" stroke-width="1"/>
<rect x="446.7" y="280.7" width="1.6" height="1.6" fill="#151515"/>
<rect x="446.7" y="282.7" width="1.6" height="1.6" fill="#151515"/>
<rect x="443.7" y="275.7" width="1.6" height="1.6" fill="#151515"/>
<rect x="451.7" y="279.7" width="1.6" height="1.6" fill="#151515"/>
<rect x="450.7" y="276.7" width="1.6" height="1.6" fill="#151515"/>
<rect x="449.7" y="279.7" width="1.6" height="1.6" fill="#151515"/>
<rect x="444.7" y="276.7" width="1.6" height="1.6" fill="#151515"/>
<rect x="445.7" y="275.7" width="1.6" height="1.6" fill="#151515"/>
<rect x="446.7" y="277.7" width="1.6" height="1.6" fill="#151515"/>
<rect x="447.7" y="279.7" width="1.6" height="1.6" fill="#151515"/>
<rect x="448.7" y="274.7" width="1.6" height="1.6" fill="#151515"/>
<rect x="445.7" y="278.7" width="1.6" height="1.6" fill="#151515"/>
<rect x="445.7" y="281.7" width="1.6" height="1.6" fill="#151515"/>
<rect x="442.7" y="274.7" width="1.6" height="1.6" fill="#151515"/>
<rect x="465.7" y="279.7" width="1.6" height="1.6" fill="#151515"/>
<rect x="463.7" y="279.7" width="1.6" height="1.6" fill="#151515"/>
<rect x="463.7" y="275.7" width="1.6" height="1.6" fill="#151515"/>
<rect x="464.7" y="277.7" width="1.6" height="1.6" fill="#151515"/>
<rect x="456.7" y="275.7" width="1.6" height="1.6" fill="#151515"/>
<rect x="460.7" y="279.7" width="1.6" height="1.6" fill="#151515"/>
<rect x="460.7" y="277.7" width="1.6" height="1.6" fill="#151515"/>
<rect x="466.7" y="283.7" width="1.6" height="1.6" fill="#151515"/>
<rect x="466.7" y="281.7" width="1.6" height="1.6" fill="#151515"/>
<rect x="460.7" y="274.7" width="1.6" height="1.6" fill="#151515"/>
<rect x="458.7" y="276.7" width="1.6" height="1.6" fill="#151515"/>
<rect x="456.7" y="280.7" width="1.6" height="1.6" fill="#151515"/>
<rect x="461.7" y="283.7" width="1.6" height="1.6" fill="#151515"/>
<rect x="461.7" y="278.7" width="1.6" height="1.6" fill="#151515"/>
<rect x="466.7" y="292.7" width="1.6" height="1.6" fill="#151515"/>
<rect x="462.7" y="290.7" width="1.6" height="1.6" fill="#151515"/>
<rect x="459.7" y="295.7" width="1.6" height="1.6" fill="#151515"/>
<rect x="464.7" y="296.7" width="1.6" height="1.6" fill="#151515"/>
<rect x="460.7" y="291.7" width="1.6" height="1.6" fill="#151515"/>
<rect x="457.7" y="293.7" width="1.6" height="1.6" fill="#151515"/>
<rect x="458.7" y="294.7" width="1.6" height="1.6" fill="#151515"/>
<rect x="459.7" y="290.7" width="1.6" height="1.6" fill="#151515"/>
<rect x="466.7" y="290.7" width="1.6" height="1.6" fill="#151515"/>
<rect x="466.7" y="294.7" width="1.6" height="1.6" fill="#151515"/>
<rect x="460.7" y="287.7" width="1.6" height="1.6" fill="#151515"/>
<rect x="456.7" y="294.7" width="1.6" height="1.6" fill="#151515"/>
<rect x="456.7" y="288.7" width="1.6" height="1.6" fill="#151515"/>
<rect x="464.7" y="291.7" width="1.6" height="1.6" fill="#151515"/>
<text letter-spacing="0.07" font-size="6.6" stroke="#231f20" stroke-width="0.1" transform="translate(444 307.3) scale(0.95 1)">CD45.2</text>
<line x1="413.3" y1="311.9" x2="481.7" y2="311.9" stroke="#3d4f66" stroke-width="1.3"/>
<path d="M487.3 311.9 L479.3 314.7 L481.3 311.9 L479.3 309.1 Z" fill="#3d4f66"/>
<text letter-spacing="0.03" font-size="6.6" stroke="#231f20" stroke-width="0.1" transform="translate(426.2 322.8) scale(0.95 1)">Serial bleeding to</text>
<text font-size="6.6" stroke="#231f20" stroke-width="0.1" transform="translate(427.05 330) scale(0.90 1)">assess chimerism</text>
<text letter-spacing="-0.10" font-size="6.6" stroke="#231f20" stroke-width="0.1" transform="translate(443.6 337.2) scale(0.85 1)">FACS</text>
<text letter-spacing="0.07" font-size="6.6" font-weight="bold" stroke="#231f20" stroke-width="0.1" transform="translate(489.65 309.8) scale(0.95 1)">Relative</text>
<text letter-spacing="0.06" font-size="6.6" font-weight="bold" stroke="#231f20" stroke-width="0.1" transform="translate(491.65 317.6) scale(0.90 1)">Fitness</text>
<text x="30" y="362.2" letter-spacing="0.16" font-size="10.4" font-weight="bold" stroke="#231f20" stroke-width="0.35">E</text>
<line x1="68.75" y1="357" x2="68.75" y2="443" stroke="#2a2a2a" stroke-width="1.25"/>
<line x1="68.15" y1="442.4" x2="225.8" y2="442.4" stroke="#2a2a2a" stroke-width="1.25"/>
<line x1="66" y1="442.4" x2="68.75" y2="442.4" stroke="#231f20" stroke-width="0.9"/>
<text letter-spacing="0.11" font-size="7" stroke="#231f20" stroke-width="0.1" transform="translate(59.2 444.8) scale(0.85 1)">0</text>
<line x1="66" y1="425.8" x2="68.75" y2="425.8" stroke="#231f20" stroke-width="0.9"/>
<text letter-spacing="0.21" font-size="7" stroke="#231f20" stroke-width="0.1" transform="translate(55.8 428.2) scale(0.85 1)">20</text>
<line x1="66" y1="409.2" x2="68.75" y2="409.2" stroke="#231f20" stroke-width="0.9"/>
<text letter-spacing="0.21" font-size="7" stroke="#231f20" stroke-width="0.1" transform="translate(55.8 411.6) scale(0.85 1)">40</text>
<line x1="66" y1="392.6" x2="68.75" y2="392.6" stroke="#231f20" stroke-width="0.9"/>
<text letter-spacing="0.21" font-size="7" stroke="#231f20" stroke-width="0.1" transform="translate(55.8 395) scale(0.85 1)">60</text>
<line x1="66" y1="376" x2="68.75" y2="376" stroke="#231f20" stroke-width="0.9"/>
<text letter-spacing="0.21" font-size="7" stroke="#231f20" stroke-width="0.1" transform="translate(55.8 378.4) scale(0.85 1)">80</text>
<line x1="66" y1="359.4" x2="68.75" y2="359.4" stroke="#231f20" stroke-width="0.9"/>
<text letter-spacing="0.04" font-size="7" stroke="#231f20" stroke-width="0.1" transform="translate(52.6 361.8) scale(0.85 1)">100</text>
<line x1="68.3" y1="442.4" x2="68.3" y2="444.9" stroke="#231f20" stroke-width="0.9"/>
<text font-size="7" stroke="#231f20" stroke-width="0.1" transform="translate(66.55 453.5) scale(0.90 1)">0</text>
<line x1="85.6" y1="442.4" x2="85.6" y2="444.9" stroke="#231f20" stroke-width="0.9"/>
<text font-size="7" stroke="#231f20" stroke-width="0.1" transform="translate(83.85 453.5) scale(0.90 1)">2</text>
<line x1="102.9" y1="442.4" x2="102.9" y2="444.9" stroke="#231f20" stroke-width="0.9"/>
<text font-size="7" stroke="#231f20" stroke-width="0.1" transform="translate(101.15 453.5) scale(0.90 1)">4</text>
<line x1="120.2" y1="442.4" x2="120.2" y2="444.9" stroke="#231f20" stroke-width="0.9"/>
<text font-size="7" stroke="#231f20" stroke-width="0.1" transform="translate(118.45 453.5) scale(0.90 1)">6</text>
<line x1="137.5" y1="442.4" x2="137.5" y2="444.9" stroke="#231f20" stroke-width="0.9"/>
<text font-size="7" stroke="#231f20" stroke-width="0.1" transform="translate(135.75 453.5) scale(0.90 1)">8</text>
<line x1="154.8" y1="442.4" x2="154.8" y2="444.9" stroke="#231f20" stroke-width="0.9"/>
<text font-size="7" stroke="#231f20" stroke-width="0.1" transform="translate(151.3 453.5) scale(0.90 1)">10</text>
<line x1="172.1" y1="442.4" x2="172.1" y2="444.9" stroke="#231f20" stroke-width="0.9"/>
<text font-size="7" stroke="#231f20" stroke-width="0.1" transform="translate(168.6 453.5) scale(0.90 1)">12</text>
<line x1="189.4" y1="442.4" x2="189.4" y2="444.9" stroke="#231f20" stroke-width="0.9"/>
<text font-size="7" stroke="#231f20" stroke-width="0.1" transform="translate(185.9 453.5) scale(0.90 1)">14</text>
<line x1="206.7" y1="442.4" x2="206.7" y2="444.9" stroke="#231f20" stroke-width="0.9"/>
<text font-size="7" stroke="#231f20" stroke-width="0.1" transform="translate(203.2 453.5) scale(0.90 1)">16</text>
<line x1="224" y1="442.4" x2="224" y2="444.9" stroke="#231f20" stroke-width="0.9"/>
<text font-size="7" stroke="#231f20" stroke-width="0.1" transform="translate(220.5 453.5) scale(0.90 1)">18</text>
<line x1="76.95" y1="442.4" x2="76.95" y2="443.9" stroke="#231f20" stroke-width="0.7"/>
<line x1="94.25" y1="442.4" x2="94.25" y2="443.9" stroke="#231f20" stroke-width="0.7"/>
<line x1="111.55" y1="442.4" x2="111.55" y2="443.9" stroke="#231f20" stroke-width="0.7"/>
<line x1="128.85" y1="442.4" x2="128.85" y2="443.9" stroke="#231f20" stroke-width="0.7"/>
<line x1="146.15" y1="442.4" x2="146.15" y2="443.9" stroke="#231f20" stroke-width="0.7"/>
<line x1="163.45" y1="442.4" x2="163.45" y2="443.9" stroke="#231f20" stroke-width="0.7"/>
<line x1="180.75" y1="442.4" x2="180.75" y2="443.9" stroke="#231f20" stroke-width="0.7"/>
<line x1="198.05" y1="442.4" x2="198.05" y2="443.9" stroke="#231f20" stroke-width="0.7"/>
<line x1="215.35" y1="442.4" x2="215.35" y2="443.9" stroke="#231f20" stroke-width="0.7"/>
<text letter-spacing="-0.04" font-size="8.8" stroke="#231f20" stroke-width="0.1" transform="translate(116.2 465.8) scale(0.75 1)">Weeks post transplant</text>
<text letter-spacing="0.06" font-size="6.8" font-style="italic" fill="#55b2dc" stroke="#55b2dc" stroke-width="0.1" transform="translate(72.3 364.6) scale(0.90 1)">Ppm1d</text>
<text font-size="4.49" font-style="italic" fill="#55b2dc" stroke="#55b2dc" stroke-width="0.1" transform="translate(92.2 362.08) scale(1.20 1)">T476*/+</text>
<text letter-spacing="0.08" font-size="6.8" fill="#55b2dc" stroke="#55b2dc" stroke-width="0.1" transform="translate(113 364.6) scale(0.95 1)">vs Competitor</text>
<text letter-spacing="0.06" font-size="6.8" font-style="italic" fill="#f09a90" stroke="#f09a90" stroke-width="0.1" transform="translate(72.3 374.2) scale(0.90 1)">Ppm1d</text>
<text x="92.2" y="371.68" font-size="4.49" font-style="italic" fill="#f09a90" stroke="#f09a90" stroke-width="0.1">+/+</text>
<text x="100.6" y="374.2" letter-spacing="-0.05" font-size="6.8" fill="#f09a90" stroke="#f09a90" stroke-width="0.1">vs Competitor</text>
<path d="M68.3 405.05 L102.9 403.39 L120.2 385.96 L146.15 383.05 L172.1 374.75 L189.4 374.09 L224 371.43" fill="none" stroke="#55b2dc" stroke-width="0.95"/>
<circle cx="102.9" cy="403.39" r="0.95" fill="#2f7fae"/>
<line x1="120.2" y1="385.13" x2="120.2" y2="386.79" stroke="#3a6f90" stroke-width="0.6"/>
<line x1="119.2" y1="385.13" x2="121.2" y2="385.13" stroke="#3a6f90" stroke-width="0.6"/>
<line x1="119.2" y1="386.79" x2="121.2" y2="386.79" stroke="#3a6f90" stroke-width="0.6"/>
<circle cx="120.2" cy="385.96" r="0.95" fill="#2f7fae"/>
<line x1="146.15" y1="382.22" x2="146.15" y2="383.88" stroke="#3a6f90" stroke-width="0.6"/>
<line x1="145.15" y1="382.22" x2="147.15" y2="382.22" stroke="#3a6f90" stroke-width="0.6"/>
<line x1="145.15" y1="383.88" x2="147.15" y2="383.88" stroke="#3a6f90" stroke-width="0.6"/>
<circle cx="146.15" cy="383.05" r="0.95" fill="#2f7fae"/>
<line x1="172.1" y1="373.92" x2="172.1" y2="375.58" stroke="#3a6f90" stroke-width="0.6"/>
<line x1="171.1" y1="373.92" x2="173.1" y2="373.92" stroke="#3a6f90" stroke-width="0.6"/>
<line x1="171.1" y1="375.58" x2="173.1" y2="375.58" stroke="#3a6f90" stroke-width="0.6"/>
<circle cx="172.1" cy="374.75" r="0.95" fill="#2f7fae"/>
<line x1="189.4" y1="372.85" x2="189.4" y2="375.34" stroke="#3a6f90" stroke-width="0.6"/>
<line x1="188.4" y1="372.85" x2="190.4" y2="372.85" stroke="#3a6f90" stroke-width="0.6"/>
<line x1="188.4" y1="375.34" x2="190.4" y2="375.34" stroke="#3a6f90" stroke-width="0.6"/>
<circle cx="189.4" cy="374.09" r="0.95" fill="#2f7fae"/>
<line x1="224" y1="370.6" x2="224" y2="372.26" stroke="#3a6f90" stroke-width="0.6"/>
<line x1="223" y1="370.6" x2="225" y2="370.6" stroke="#3a6f90" stroke-width="0.6"/>
<line x1="223" y1="372.26" x2="225" y2="372.26" stroke="#3a6f90" stroke-width="0.6"/>
<circle cx="224" cy="371.43" r="0.95" fill="#2f7fae"/>
<path d="M68.3 405.05 L102.9 403.39 L120.2 394.67 L146.15 390.11 L172.1 381.81 L189.4 380.73 L224 378.24" fill="none" stroke="#55b2dc" stroke-width="0.95"/>
<circle cx="102.9" cy="403.39" r="0.95" fill="#2f7fae"/>
<line x1="120.2" y1="393.43" x2="120.2" y2="395.92" stroke="#3a6f90" stroke-width="0.6"/>
<line x1="119.2" y1="393.43" x2="121.2" y2="393.43" stroke="#3a6f90" stroke-width="0.6"/>
<line x1="119.2" y1="395.92" x2="121.2" y2="395.92" stroke="#3a6f90" stroke-width="0.6"/>
<circle cx="120.2" cy="394.67" r="0.95" fill="#2f7fae"/>
<line x1="146.15" y1="388.87" x2="146.15" y2="391.35" stroke="#3a6f90" stroke-width="0.6"/>
<line x1="145.15" y1="388.87" x2="147.15" y2="388.87" stroke="#3a6f90" stroke-width="0.6"/>
<line x1="145.15" y1="391.35" x2="147.15" y2="391.35" stroke="#3a6f90" stroke-width="0.6"/>
<circle cx="146.15" cy="390.11" r="0.95" fill="#2f7fae"/>
<line x1="172.1" y1="380.56" x2="172.1" y2="383.05" stroke="#3a6f90" stroke-width="0.6"/>
<line x1="171.1" y1="380.56" x2="173.1" y2="380.56" stroke="#3a6f90" stroke-width="0.6"/>
<line x1="171.1" y1="383.05" x2="173.1" y2="383.05" stroke="#3a6f90" stroke-width="0.6"/>
<circle cx="172.1" cy="381.81" r="0.95" fill="#2f7fae"/>
<line x1="189.4" y1="379.49" x2="189.4" y2="381.98" stroke="#3a6f90" stroke-width="0.6"/>
<line x1="188.4" y1="379.49" x2="190.4" y2="379.49" stroke="#3a6f90" stroke-width="0.6"/>
<line x1="188.4" y1="381.98" x2="190.4" y2="381.98" stroke="#3a6f90" stroke-width="0.6"/>
<circle cx="189.4" cy="380.73" r="0.95" fill="#2f7fae"/>
<line x1="224" y1="377" x2="224" y2="379.49" stroke="#3a6f90" stroke-width="0.6"/>
<line x1="223" y1="377" x2="225" y2="377" stroke="#3a6f90" stroke-width="0.6"/>
<line x1="223" y1="379.49" x2="225" y2="379.49" stroke="#3a6f90" stroke-width="0.6"/>
<circle cx="224" cy="378.24" r="0.95" fill="#2f7fae"/>
<path d="M68.3 405.05 L102.9 402.97 L120.2 395.92 L146.15 391.77 L172.1 388.45 L189.4 387.62 L224 385.71" fill="none" stroke="#55b2dc" stroke-width="0.95"/>
<circle cx="102.9" cy="402.97" r="0.95" fill="#2f7fae"/>
<line x1="120.2" y1="394.67" x2="120.2" y2="397.16" stroke="#3a6f90" stroke-width="0.6"/>
<line x1="119.2" y1="394.67" x2="121.2" y2="394.67" stroke="#3a6f90" stroke-width="0.6"/>
<line x1="119.2" y1="397.16" x2="121.2" y2="397.16" stroke="#3a6f90" stroke-width="0.6"/>
<circle cx="120.2" cy="395.92" r="0.95" fill="#2f7fae"/>
<line x1="146.15" y1="390.52" x2="146.15" y2="393.01" stroke="#3a6f90" stroke-width="0.6"/>
<line x1="145.15" y1="390.52" x2="147.15" y2="390.52" stroke="#3a6f90" stroke-width="0.6"/>
<line x1="145.15" y1="393.01" x2="147.15" y2="393.01" stroke="#3a6f90" stroke-width="0.6"/>
<circle cx="146.15" cy="391.77" r="0.95" fill="#2f7fae"/>
<line x1="172.1" y1="387.2" x2="172.1" y2="389.69" stroke="#3a6f90" stroke-width="0.6"/>
<line x1="171.1" y1="387.2" x2="173.1" y2="387.2" stroke="#3a6f90" stroke-width="0.6"/>
<line x1="171.1" y1="389.69" x2="173.1" y2="389.69" stroke="#3a6f90" stroke-width="0.6"/>
<circle cx="172.1" cy="388.45" r="0.95" fill="#2f7fae"/>
<line x1="189.4" y1="386.38" x2="189.4" y2="388.87" stroke="#3a6f90" stroke-width="0.6"/>
<line x1="188.4" y1="386.38" x2="190.4" y2="386.38" stroke="#3a6f90" stroke-width="0.6"/>
<line x1="188.4" y1="388.87" x2="190.4" y2="388.87" stroke="#3a6f90" stroke-width="0.6"/>
<circle cx="189.4" cy="387.62" r="0.95" fill="#2f7fae"/>
<line x1="224" y1="384.47" x2="224" y2="386.96" stroke="#3a6f90" stroke-width="0.6"/>
<line x1="223" y1="384.47" x2="225" y2="384.47" stroke="#3a6f90" stroke-width="0.6"/>
<line x1="223" y1="386.96" x2="225" y2="386.96" stroke="#3a6f90" stroke-width="0.6"/>
<circle cx="224" cy="385.71" r="0.95" fill="#2f7fae"/>
<path d="M68.3 405.05 L102.9 404.63 L120.2 400.9 L146.15 400.07 L172.1 399.65 L189.4 400.07 L224 399.65" fill="none" stroke="#f09a90" stroke-width="0.95"/>
<circle cx="102.9" cy="404.63" r="0.95" fill="#cf6f60"/>
<line x1="120.2" y1="399.65" x2="120.2" y2="402.14" stroke="#c49a92" stroke-width="0.6"/>
<line x1="119.2" y1="399.65" x2="121.2" y2="399.65" stroke="#c49a92" stroke-width="0.6"/>
<line x1="119.2" y1="402.14" x2="121.2" y2="402.14" stroke="#c49a92" stroke-width="0.6"/>
<circle cx="120.2" cy="400.9" r="0.95" fill="#cf6f60"/>
<line x1="146.15" y1="398.41" x2="146.15" y2="401.73" stroke="#c49a92" stroke-width="0.6"/>
<line x1="145.15" y1="398.41" x2="147.15" y2="398.41" stroke="#c49a92" stroke-width="0.6"/>
<line x1="145.15" y1="401.73" x2="147.15" y2="401.73" stroke="#c49a92" stroke-width="0.6"/>
<circle cx="146.15" cy="400.07" r="0.95" fill="#cf6f60"/>
<line x1="172.1" y1="396.33" x2="172.1" y2="402.97" stroke="#c49a92" stroke-width="0.6"/>
<line x1="171.1" y1="396.33" x2="173.1" y2="396.33" stroke="#c49a92" stroke-width="0.6"/>
<line x1="171.1" y1="402.97" x2="173.1" y2="402.97" stroke="#c49a92" stroke-width="0.6"/>
<circle cx="172.1" cy="399.65" r="0.95" fill="#cf6f60"/>
<line x1="189.4" y1="395.92" x2="189.4" y2="404.22" stroke="#c49a92" stroke-width="0.6"/>
<line x1="188.4" y1="395.92" x2="190.4" y2="395.92" stroke="#c49a92" stroke-width="0.6"/>
<line x1="188.4" y1="404.22" x2="190.4" y2="404.22" stroke="#c49a92" stroke-width="0.6"/>
<circle cx="189.4" cy="400.07" r="0.95" fill="#cf6f60"/>
<line x1="224" y1="396.75" x2="224" y2="402.56" stroke="#c49a92" stroke-width="0.6"/>
<line x1="223" y1="396.75" x2="225" y2="396.75" stroke="#c49a92" stroke-width="0.6"/>
<line x1="223" y1="402.56" x2="225" y2="402.56" stroke="#c49a92" stroke-width="0.6"/>
<circle cx="224" cy="399.65" r="0.95" fill="#cf6f60"/>
<text letter-spacing="-0.04" font-size="6.6" fill="#55b2dc" stroke="#55b2dc" stroke-width="0.1" transform="translate(227.9 373.2) scale(0.90 1)">XRT</text>
<text x="227.9" y="380.1" letter-spacing="-0.05" font-size="6.6" fill="#55b2dc" stroke="#55b2dc" stroke-width="0.1">Cisplatin</text>
<text letter-spacing="-0.02" font-size="6.6" fill="#55b2dc" stroke="#55b2dc" stroke-width="0.1" transform="translate(227.9 388) scale(0.95 1)">Vehicle</text>
<text letter-spacing="-0.02" font-size="6.6" fill="#f09a90" stroke="#f09a90" stroke-width="0.1" transform="translate(227.9 401.7) scale(0.95 1)">Vehicle</text>
<path d="M257.3 377.8 L258.6 377.8 L258.6 386.2 L257.3 386.2" fill="none" stroke="#444" stroke-width="0.75"/>
<line x1="260.6" y1="381.2" x2="262.4" y2="381.2" stroke="#444" stroke-width="0.6"/>
<path d="M265.3 370.3 L266.6 370.3 L266.6 386.2 L265.3 386.2" fill="none" stroke="#444" stroke-width="0.75"/>
<line x1="268.9" y1="377.4" x2="271.6" y2="377.4" stroke="#444" stroke-width="0.6"/>
<path d="M250 385.9 L251.3 385.9 L251.3 400.4 L250 400.4" fill="none" stroke="#444" stroke-width="0.75"/>
<line x1="253.5" y1="392.3" x2="255.3" y2="392.3" stroke="#444" stroke-width="0.6"/>
<text letter-spacing="-0.09" font-size="6.5" stroke="#231f20" stroke-width="0.1" transform="translate(86.2 419) scale(0.85 1)">XRT</text>
<text font-size="6.5" stroke="#231f20" stroke-width="0.1" transform="translate(74.8 428.5) scale(0.90 1)">Cisplatin</text>
<text letter-spacing="0.09" font-size="6.5" stroke="#231f20" stroke-width="0.1" transform="translate(78.9 437.7) scale(0.85 1)">Vehicle</text>
<line x1="102.9" y1="414.5" x2="102.9" y2="420.5" stroke="#111" stroke-width="0.85"/>
<path d="M102.9 413.3 L101.3 415.8 L104.5 415.8 Z" fill="#111"/>
<line x1="102.9" y1="423.8" x2="102.9" y2="429.8" stroke="#111" stroke-width="0.85"/>
<path d="M102.9 422.6 L101.3 425.1 L104.5 425.1 Z" fill="#111"/>
<line x1="102.9" y1="433" x2="102.9" y2="439" stroke="#111" stroke-width="0.85"/>
<path d="M102.9 431.8 L101.3 434.3 L104.5 434.3 Z" fill="#111"/>
<line x1="111.55" y1="423.8" x2="111.55" y2="429.8" stroke="#111" stroke-width="0.85"/>
<path d="M111.55 422.6 L109.95 425.1 L113.15 425.1 Z" fill="#111"/>
<line x1="111.55" y1="433" x2="111.55" y2="439" stroke="#111" stroke-width="0.85"/>
<path d="M111.55 431.8 L109.95 434.3 L113.15 434.3 Z" fill="#111"/>
<line x1="120.2" y1="423.8" x2="120.2" y2="429.8" stroke="#111" stroke-width="0.85"/>
<path d="M120.2 422.6 L118.6 425.1 L121.8 425.1 Z" fill="#111"/>
<line x1="120.2" y1="433" x2="120.2" y2="439" stroke="#111" stroke-width="0.85"/>
<path d="M120.2 431.8 L118.6 434.3 L121.8 434.3 Z" fill="#111"/>
<line x1="128.85" y1="423.8" x2="128.85" y2="429.8" stroke="#111" stroke-width="0.85"/>
<path d="M128.85 422.6 L127.25 425.1 L130.45 425.1 Z" fill="#111"/>
<line x1="128.85" y1="433" x2="128.85" y2="439" stroke="#111" stroke-width="0.85"/>
<path d="M128.85 431.8 L127.25 434.3 L130.45 434.3 Z" fill="#111"/>
<line x1="137.5" y1="423.8" x2="137.5" y2="429.8" stroke="#111" stroke-width="0.85"/>
<path d="M137.5 422.6 L135.9 425.1 L139.1 425.1 Z" fill="#111"/>
<line x1="137.5" y1="433" x2="137.5" y2="439" stroke="#111" stroke-width="0.85"/>
<path d="M137.5 431.8 L135.9 434.3 L139.1 434.3 Z" fill="#111"/>
<text x="288" y="362.4" letter-spacing="0.05" font-size="10.4" font-weight="bold" stroke="#231f20" stroke-width="0.35">F</text>
<line x1="329.9" y1="355.8" x2="329.9" y2="443.1" stroke="#2a2a2a" stroke-width="1.25"/>
<line x1="329.3" y1="442.5" x2="462" y2="442.5" stroke="#2a2a2a" stroke-width="1.25"/>
<line x1="327.1" y1="442.5" x2="329.9" y2="442.5" stroke="#231f20" stroke-width="0.9"/>
<text letter-spacing="0.11" font-size="7" stroke="#231f20" stroke-width="0.1" transform="translate(320.7 444.9) scale(0.85 1)">0</text>
<line x1="327.1" y1="425.84" x2="329.9" y2="425.84" stroke="#231f20" stroke-width="0.9"/>
<text letter-spacing="0.21" font-size="7" stroke="#231f20" stroke-width="0.1" transform="translate(317.3 428.24) scale(0.85 1)">20</text>
<line x1="327.1" y1="409.18" x2="329.9" y2="409.18" stroke="#231f20" stroke-width="0.9"/>
<text letter-spacing="0.21" font-size="7" stroke="#231f20" stroke-width="0.1" transform="translate(317.3 411.58) scale(0.85 1)">40</text>
<line x1="327.1" y1="392.52" x2="329.9" y2="392.52" stroke="#231f20" stroke-width="0.9"/>
<text letter-spacing="0.21" font-size="7" stroke="#231f20" stroke-width="0.1" transform="translate(317.3 394.92) scale(0.85 1)">60</text>
<line x1="327.1" y1="375.86" x2="329.9" y2="375.86" stroke="#231f20" stroke-width="0.9"/>
<text letter-spacing="0.21" font-size="7" stroke="#231f20" stroke-width="0.1" transform="translate(317.3 378.26) scale(0.85 1)">80</text>
<line x1="327.1" y1="359.2" x2="329.9" y2="359.2" stroke="#231f20" stroke-width="0.9"/>
<text letter-spacing="0.04" font-size="7" stroke="#231f20" stroke-width="0.1" transform="translate(314.1 361.6) scale(0.85 1)">100</text>
<rect x="332.1" y="386.2" width="4.85" height="56.3" fill="#37a6de"/>
<line x1="334.53" y1="384.5" x2="334.53" y2="387.7" stroke="#222" stroke-width="0.75"/>
<line x1="333.33" y1="384.5" x2="335.73" y2="384.5" stroke="#222" stroke-width="0.75"/>
<rect x="336.95" y="378.2" width="4.85" height="64.3" fill="#0f6b53"/>
<line x1="339.38" y1="376.7" x2="339.38" y2="379.7" stroke="#222" stroke-width="0.75"/>
<line x1="338.18" y1="376.7" x2="340.58" y2="376.7" stroke="#222" stroke-width="0.75"/>
<rect x="341.8" y="371" width="4.85" height="71.5" fill="#8f87c3"/>
<line x1="344.23" y1="370.1" x2="344.23" y2="372.5" stroke="#222" stroke-width="0.75"/>
<line x1="343.03" y1="370.1" x2="345.43" y2="370.1" stroke="#222" stroke-width="0.75"/>
<line x1="339.4" y1="442.5" x2="339.4" y2="444.9" stroke="#231f20" stroke-width="0.9"/>
<line x1="331.6" y1="360.2" x2="347.15" y2="360.2" stroke="#333" stroke-width="0.85"/>
<text letter-spacing="-0.03" font-size="6.4" stroke="#231f20" stroke-width="0.1" transform="translate(336.8 359.9) scale(1.05 1)">**</text>
<rect x="351.2" y="396.9" width="4.85" height="45.6" fill="#37a6de"/>
<line x1="353.62" y1="393.5" x2="353.62" y2="398.4" stroke="#222" stroke-width="0.75"/>
<line x1="352.43" y1="393.5" x2="354.82" y2="393.5" stroke="#222" stroke-width="0.75"/>
<rect x="356.05" y="389.1" width="4.85" height="53.4" fill="#0f6b53"/>
<line x1="358.48" y1="387.7" x2="358.48" y2="390.6" stroke="#222" stroke-width="0.75"/>
<line x1="357.28" y1="387.7" x2="359.68" y2="387.7" stroke="#222" stroke-width="0.75"/>
<rect x="360.9" y="383.9" width="4.85" height="58.6" fill="#8f87c3"/>
<line x1="363.32" y1="381" x2="363.32" y2="385.4" stroke="#222" stroke-width="0.75"/>
<line x1="362.12" y1="381" x2="364.52" y2="381" stroke="#222" stroke-width="0.75"/>
<line x1="358.5" y1="442.5" x2="358.5" y2="444.9" stroke="#231f20" stroke-width="0.9"/>
<line x1="350.7" y1="360.2" x2="366.25" y2="360.2" stroke="#333" stroke-width="0.85"/>
<text letter-spacing="-0.01" font-size="6.4" stroke="#231f20" stroke-width="0.1" transform="translate(357.2 359.9) scale(1.05 1)">*</text>
<rect x="370.5" y="394" width="4.85" height="48.5" fill="#37a6de"/>
<line x1="372.93" y1="388.3" x2="372.93" y2="395.5" stroke="#222" stroke-width="0.75"/>
<line x1="371.73" y1="388.3" x2="374.12" y2="388.3" stroke="#222" stroke-width="0.75"/>
<rect x="375.35" y="386.2" width="4.85" height="56.3" fill="#0f6b53"/>
<line x1="377.78" y1="381.9" x2="377.78" y2="387.7" stroke="#222" stroke-width="0.75"/>
<line x1="376.58" y1="381.9" x2="378.98" y2="381.9" stroke="#222" stroke-width="0.75"/>
<rect x="380.2" y="378.2" width="4.85" height="64.3" fill="#8f87c3"/>
<line x1="382.62" y1="376.2" x2="382.62" y2="379.7" stroke="#222" stroke-width="0.75"/>
<line x1="381.43" y1="376.2" x2="383.82" y2="376.2" stroke="#222" stroke-width="0.75"/>
<line x1="377.8" y1="442.5" x2="377.8" y2="444.9" stroke="#231f20" stroke-width="0.9"/>
<line x1="370" y1="360.2" x2="385.55" y2="360.2" stroke="#333" stroke-width="0.85"/>
<text letter-spacing="-0.01" font-size="6.4" stroke="#231f20" stroke-width="0.1" transform="translate(376.5 359.9) scale(1.05 1)">*</text>
<rect x="389.5" y="391" width="4.85" height="51.5" fill="#37a6de"/>
<line x1="391.93" y1="384.5" x2="391.93" y2="392.5" stroke="#222" stroke-width="0.75"/>
<line x1="390.73" y1="384.5" x2="393.12" y2="384.5" stroke="#222" stroke-width="0.75"/>
<rect x="394.35" y="379.6" width="4.85" height="62.9" fill="#0f6b53"/>
<line x1="396.78" y1="374.7" x2="396.78" y2="381.1" stroke="#222" stroke-width="0.75"/>
<line x1="395.58" y1="374.7" x2="397.98" y2="374.7" stroke="#222" stroke-width="0.75"/>
<rect x="399.2" y="367.5" width="4.85" height="75" fill="#8f87c3"/>
<line x1="401.62" y1="365.2" x2="401.62" y2="369" stroke="#222" stroke-width="0.75"/>
<line x1="400.43" y1="365.2" x2="402.82" y2="365.2" stroke="#222" stroke-width="0.75"/>
<line x1="396.8" y1="442.5" x2="396.8" y2="444.9" stroke="#231f20" stroke-width="0.9"/>
<line x1="389" y1="360.2" x2="404.55" y2="360.2" stroke="#333" stroke-width="0.85"/>
<text letter-spacing="-0.03" font-size="6.4" stroke="#231f20" stroke-width="0.1" transform="translate(394.2 359.9) scale(1.05 1)">**</text>
<rect x="408.8" y="395.5" width="4.85" height="47" fill="#37a6de"/>
<line x1="411.23" y1="386.2" x2="411.23" y2="397" stroke="#222" stroke-width="0.75"/>
<line x1="410.03" y1="386.2" x2="412.43" y2="386.2" stroke="#222" stroke-width="0.75"/>
<rect x="413.65" y="380.2" width="4.85" height="62.3" fill="#0f6b53"/>
<line x1="416.08" y1="376.2" x2="416.08" y2="381.7" stroke="#222" stroke-width="0.75"/>
<line x1="414.88" y1="376.2" x2="417.28" y2="376.2" stroke="#222" stroke-width="0.75"/>
<rect x="418.5" y="367.2" width="4.85" height="75.3" fill="#8f87c3"/>
<line x1="420.93" y1="365.2" x2="420.93" y2="368.7" stroke="#222" stroke-width="0.75"/>
<line x1="419.73" y1="365.2" x2="422.12" y2="365.2" stroke="#222" stroke-width="0.75"/>
<line x1="416.1" y1="442.5" x2="416.1" y2="444.9" stroke="#231f20" stroke-width="0.9"/>
<line x1="408.3" y1="360.2" x2="423.85" y2="360.2" stroke="#333" stroke-width="0.85"/>
<text letter-spacing="-0.03" font-size="6.4" stroke="#231f20" stroke-width="0.1" transform="translate(413.5 359.9) scale(1.05 1)">**</text>
<rect x="428.2" y="393.2" width="4.85" height="49.3" fill="#37a6de"/>
<line x1="430.62" y1="385.4" x2="430.62" y2="394.7" stroke="#222" stroke-width="0.75"/>
<line x1="429.43" y1="385.4" x2="431.82" y2="385.4" stroke="#222" stroke-width="0.75"/>
<rect x="433.05" y="383.1" width="4.85" height="59.4" fill="#0f6b53"/>
<line x1="435.48" y1="378.2" x2="435.48" y2="384.6" stroke="#222" stroke-width="0.75"/>
<line x1="434.28" y1="378.2" x2="436.68" y2="378.2" stroke="#222" stroke-width="0.75"/>
<rect x="437.9" y="373.8" width="4.85" height="68.7" fill="#8f87c3"/>
<line x1="440.32" y1="371.5" x2="440.32" y2="375.3" stroke="#222" stroke-width="0.75"/>
<line x1="439.12" y1="371.5" x2="441.52" y2="371.5" stroke="#222" stroke-width="0.75"/>
<line x1="435.5" y1="442.5" x2="435.5" y2="444.9" stroke="#231f20" stroke-width="0.9"/>
<line x1="427.7" y1="360.2" x2="443.25" y2="360.2" stroke="#333" stroke-width="0.85"/>
<text letter-spacing="-0.01" font-size="6.4" stroke="#231f20" stroke-width="0.1" transform="translate(434.2 359.9) scale(1.05 1)">*</text>
<rect x="446.9" y="387.7" width="4.85" height="54.8" fill="#37a6de"/>
<line x1="449.32" y1="380.2" x2="449.32" y2="389.2" stroke="#222" stroke-width="0.75"/>
<line x1="448.12" y1="380.2" x2="450.52" y2="380.2" stroke="#222" stroke-width="0.75"/>
<rect x="451.75" y="378.2" width="4.85" height="64.3" fill="#0f6b53"/>
<line x1="454.18" y1="373.3" x2="454.18" y2="379.7" stroke="#222" stroke-width="0.75"/>
<line x1="452.98" y1="373.3" x2="455.38" y2="373.3" stroke="#222" stroke-width="0.75"/>
<rect x="456.6" y="366.1" width="4.85" height="76.4" fill="#8f87c3"/>
<line x1="459.02" y1="363.7" x2="459.02" y2="367.6" stroke="#222" stroke-width="0.75"/>
<line x1="457.82" y1="363.7" x2="460.22" y2="363.7" stroke="#222" stroke-width="0.75"/>
<line x1="454.2" y1="442.5" x2="454.2" y2="444.9" stroke="#231f20" stroke-width="0.9"/>
<line x1="446.4" y1="360.2" x2="461.95" y2="360.2" stroke="#333" stroke-width="0.85"/>
<text letter-spacing="-0.01" font-size="6.4" stroke="#231f20" stroke-width="0.1" transform="translate(452.9 359.9) scale(1.05 1)">*</text>
<line x1="331.6" y1="373.2" x2="337.4" y2="373.2" stroke="#333" stroke-width="0.85"/>
<text letter-spacing="-0.03" font-size="6.4" stroke="#231f20" stroke-width="0.1" transform="translate(331.9 372.9) scale(1.05 1)">**</text>
<text letter-spacing="0.11" font-size="8.8" stroke="#231f20" stroke-width="0.1" transform="translate(364.7 474.9) scale(0.75 1)">Cellular compartment</text>
<text letter-spacing="0.08" font-size="6.6" fill="#37a6de" stroke="#37a6de" stroke-width="0.1" transform="translate(467.1 391.7) scale(0.85 1)">Vehicle</text>
<text letter-spacing="0.06" font-size="6.6" fill="#0f6b53" stroke="#0f6b53" stroke-width="0.1" transform="translate(467.1 399.9) scale(0.90 1)">Cisplatin</text>
<text letter-spacing="0.15" font-size="6.6" fill="#8f87c3" stroke="#8f87c3" stroke-width="0.1" transform="translate(467.1 408.1) scale(0.80 1)">XRT</text>
<text x="79.6" y="496" letter-spacing="0.11" font-size="10.4" font-weight="bold" stroke="#231f20" stroke-width="0.35">G</text>
<text letter-spacing="-0.07" font-size="7" font-style="italic" stroke="#231f20" stroke-width="0.1" transform="translate(94.3 494.7) scale(0.95 1)">Ppm1d</text>
<text letter-spacing="0.01" font-size="4.62" font-style="italic" stroke="#231f20" stroke-width="0.1" transform="translate(115.4 492.11) scale(0.85 1)">+/+</text>
<text letter-spacing="-0.13" font-size="7" font-style="italic" stroke="#231f20" stroke-width="0.1" transform="translate(123.7 494.7) scale(1.05 1)">or</text>
<text letter-spacing="-0.07" font-size="7" font-style="italic" stroke="#231f20" stroke-width="0.1" transform="translate(131.5 494.7) scale(0.95 1)">Ppm1d</text>
<text letter-spacing="-0.05" font-size="4.62" font-style="italic" stroke="#231f20" stroke-width="0.1" transform="translate(152.6 492.11) scale(1.15 1)">T476*/+</text>
<g transform="translate(120.4 511.5) scale(1)">
<path d="M-6.9 -11.1 L-6.9 -6.6 Q-6.9 -4.8 -4.5 -4.7 Q-1.2 -4.4 0 0 M0 0 L23.5 0 M0 0 C0.6 -4.6 3.6 -8.6 8.1 -9.1 C10 -9.3 11.8 -9.4 13.3 -9.3 M13.3 -9.3 C13.1 -10.7 15.2 -11.2 16.6 -10.5 C17.5 -10.0 17.0 -8.7 15.9 -8.9 M16.6 -10.4 C18.6 -10.1 20.4 -9.5 20.5 -7.6 C20.5 -6.4 19.2 -5.7 19.2 -4.7 C19.2 -3.7 20.2 -3.2 21.2 -2.4 L23.5 0" fill="none" stroke="#262626" stroke-width="0.85" stroke-linecap="round" stroke-linejoin="round"/>
<path d="M21.3 -2.6 L23.8 0.25 L20.9 0.25 Z" fill="#111"/>
</g>
<text x="121.7" y="518.8" letter-spacing="-0.08" font-size="6.6" stroke="#231f20" stroke-width="0.1">CD45.2</text>
<text letter-spacing="-0.26" font-size="6.6" stroke="#231f20" stroke-width="0.1" transform="translate(127.75 533.2) scale(0.95 1)">WT</text>
<g transform="translate(120.4 547.5) scale(1)">
<path d="M-6.9 -11.1 L-6.9 -6.6 Q-6.9 -4.8 -4.5 -4.7 Q-1.2 -4.4 0 0 M0 0 L23.5 0 M0 0 C0.6 -4.6 3.6 -8.6 8.1 -9.1 C10 -9.3 11.8 -9.4 13.3 -9.3 M13.3 -9.3 C13.1 -10.7 15.2 -11.2 16.6 -10.5 C17.5 -10.0 17.0 -8.7 15.9 -8.9 M16.6 -10.4 C18.6 -10.1 20.4 -9.5 20.5 -7.6 C20.5 -6.4 19.2 -5.7 19.2 -4.7 C19.2 -3.7 20.2 -3.2 21.2 -2.4 L23.5 0" fill="none" stroke="#262626" stroke-width="0.85" stroke-linecap="round" stroke-linejoin="round"/>
<path d="M21.3 -2.6 L23.8 0.25 L20.9 0.25 Z" fill="#111"/>
</g>
<text letter-spacing="-0.01" font-size="6.6" stroke="#231f20" stroke-width="0.1" transform="translate(119 555) scale(0.90 1)">CD45.1/2</text>
<path d="M150.4 504.7 C163 504.9 178 508.5 181.8 519" fill="none" stroke="#333" stroke-width="0.75"/>
<path d="M181.8 519 L179 515.97 L180.77 516.14 L182.01 514.88 Z" fill="#333"/>
<path d="M150.4 549 C163 548.8 178 546 181.8 536.6" fill="none" stroke="#333" stroke-width="0.75"/>
<path d="M181.8 536.6 L181.86 540.72 L180.66 539.42 L178.89 539.52 Z" fill="#333"/>
<text letter-spacing="0.10" font-size="6.6" stroke="#231f20" stroke-width="0.1" transform="translate(170.45 507.2) scale(0.95 1)">BM</text>
<text letter-spacing="0.04" font-size="6.6" font-style="italic" stroke="#231f20" stroke-width="0.1" transform="translate(159.95 516.4) scale(0.85 1)">50%</text>
<text letter-spacing="0.04" font-size="6.6" font-style="italic" stroke="#231f20" stroke-width="0.1" transform="translate(159.95 543.6) scale(0.85 1)">50%</text>
<text letter-spacing="0.10" font-size="6.6" stroke="#231f20" stroke-width="0.1" transform="translate(170.45 551.6) scale(0.95 1)">BM</text>
<g transform="translate(185 531.5) scale(1)">
<path d="M-6.9 -11.1 L-6.9 -6.6 Q-6.9 -4.8 -4.5 -4.7 Q-1.2 -4.4 0 0 M0 0 L23.5 0 M0 0 C0.6 -4.6 3.6 -8.6 8.1 -9.1 C10 -9.3 11.8 -9.4 13.3 -9.3 M13.3 -9.3 C13.1 -10.7 15.2 -11.2 16.6 -10.5 C17.5 -10.0 17.0 -8.7 15.9 -8.9 M16.6 -10.4 C18.6 -10.1 20.4 -9.5 20.5 -7.6 C20.5 -6.4 19.2 -5.7 19.2 -4.7 C19.2 -3.7 20.2 -3.2 21.2 -2.4 L23.5 0" fill="none" stroke="#262626" stroke-width="0.85" stroke-linecap="round" stroke-linejoin="round"/>
<path d="M21.3 -2.6 L23.8 0.25 L20.9 0.25 Z" fill="#111"/>
</g>
<text font-size="6.6" stroke="#231f20" stroke-width="0.1" transform="translate(195.35 517.4) scale(0.90 1)">1</text>
<text letter-spacing="-0.05" font-size="4.2" stroke="#231f20" stroke-width="0.05" transform="translate(199.2 515) scale(1.05 1)">0</text>
<text letter-spacing="-0.01" font-size="6.6" stroke="#231f20" stroke-width="0.1" transform="translate(186 538.6) scale(0.95 1)">CD45.1</text>
<g transform="translate(261 531.5) scale(1)">
<path d="M-6.9 -11.1 L-6.9 -6.6 Q-6.9 -4.8 -4.5 -4.7 Q-1.2 -4.4 0 0 M0 0 L23.5 0 M0 0 C0.6 -4.6 3.6 -8.6 8.1 -9.1 C10 -9.3 11.8 -9.4 13.3 -9.3 M13.3 -9.3 C13.1 -10.7 15.2 -11.2 16.6 -10.5 C17.5 -10.0 17.0 -8.7 15.9 -8.9 M16.6 -10.4 C18.6 -10.1 20.4 -9.5 20.5 -7.6 C20.5 -6.4 19.2 -5.7 19.2 -4.7 C19.2 -3.7 20.2 -3.2 21.2 -2.4 L23.5 0" fill="none" stroke="#262626" stroke-width="0.85" stroke-linecap="round" stroke-linejoin="round"/>
<path d="M21.3 -2.6 L23.8 0.25 L20.9 0.25 Z" fill="#111"/>
</g>
<text font-size="6.6" stroke="#231f20" stroke-width="0.1" transform="translate(269.85 517.4) scale(0.90 1)">2</text>
<text letter-spacing="-0.05" font-size="4.2" stroke="#231f20" stroke-width="0.05" transform="translate(273.7 515) scale(1.05 1)">0</text>
<text letter-spacing="-0.01" font-size="6.6" stroke="#231f20" stroke-width="0.1" transform="translate(262 538.6) scale(0.95 1)">CD45.1</text>
<g transform="translate(335.6 531.5) scale(1)">
<path d="M-6.9 -11.1 L-6.9 -6.6 Q-6.9 -4.8 -4.5 -4.7 Q-1.2 -4.4 0 0 M0 0 L23.5 0 M0 0 C0.6 -4.6 3.6 -8.6 8.1 -9.1 C10 -9.3 11.8 -9.4 13.3 -9.3 M13.3 -9.3 C13.1 -10.7 15.2 -11.2 16.6 -10.5 C17.5 -10.0 17.0 -8.7 15.9 -8.9 M16.6 -10.4 C18.6 -10.1 20.4 -9.5 20.5 -7.6 C20.5 -6.4 19.2 -5.7 19.2 -4.7 C19.2 -3.7 20.2 -3.2 21.2 -2.4 L23.5 0" fill="none" stroke="#262626" stroke-width="0.85" stroke-linecap="round" stroke-linejoin="round"/>
<path d="M21.3 -2.6 L23.8 0.25 L20.9 0.25 Z" fill="#111"/>
</g>
<text font-size="6.6" stroke="#231f20" stroke-width="0.1" transform="translate(344.95 517.4) scale(0.90 1)">3</text>
<text letter-spacing="-0.05" font-size="4.2" stroke="#231f20" stroke-width="0.05" transform="translate(348.8 515) scale(1.05 1)">0</text>
<text letter-spacing="-0.01" font-size="6.6" stroke="#231f20" stroke-width="0.1" transform="translate(336.6 538.6) scale(0.95 1)">CD45.1</text>
<g transform="translate(410 531.5) scale(1)">
<path d="M-6.9 -11.1 L-6.9 -6.6 Q-6.9 -4.8 -4.5 -4.7 Q-1.2 -4.4 0 0 M0 0 L23.5 0 M0 0 C0.6 -4.6 3.6 -8.6 8.1 -9.1 C10 -9.3 11.8 -9.4 13.3 -9.3 M13.3 -9.3 C13.1 -10.7 15.2 -11.2 16.6 -10.5 C17.5 -10.0 17.0 -8.7 15.9 -8.9 M16.6 -10.4 C18.6 -10.1 20.4 -9.5 20.5 -7.6 C20.5 -6.4 19.2 -5.7 19.2 -4.7 C19.2 -3.7 20.2 -3.2 21.2 -2.4 L23.5 0" fill="none" stroke="#262626" stroke-width="0.85" stroke-linecap="round" stroke-linejoin="round"/>
<path d="M21.3 -2.6 L23.8 0.25 L20.9 0.25 Z" fill="#111"/>
</g>
<text font-size="6.6" stroke="#231f20" stroke-width="0.1" transform="translate(419.75 517.4) scale(0.90 1)">4</text>
<text letter-spacing="-0.05" font-size="4.2" stroke="#231f20" stroke-width="0.05" transform="translate(423.6 515) scale(1.05 1)">0</text>
<text letter-spacing="-0.01" font-size="6.6" stroke="#231f20" stroke-width="0.1" transform="translate(411 538.6) scale(0.95 1)">CD45.1</text>
<line x1="216.3" y1="526.3" x2="238.4" y2="526.3" stroke="#3d4f66" stroke-width="1.3"/>
<path d="M244 526.3 L236 529.1 L238 526.3 L236 523.5 Z" fill="#3d4f66"/>
<line x1="289.8" y1="526.4" x2="315.4" y2="526.4" stroke="#3d4f66" stroke-width="1.3"/>
<path d="M321 526.4 L313 529.2 L315 526.4 L313 523.6 Z" fill="#3d4f66"/>
<line x1="365.3" y1="526.4" x2="390.9" y2="526.4" stroke="#3d4f66" stroke-width="1.3"/>
<path d="M396.5 526.4 L388.5 529.2 L390.5 526.4 L388.5 523.6 Z" fill="#3d4f66"/>
<text letter-spacing="0.03" font-size="10.4" font-weight="bold" stroke="#231f20" stroke-width="0.35" transform="translate(10 576.8) scale(1.10 1)">H</text>
<line x1="57.1" y1="575.6" x2="57.1" y2="658.8" stroke="#2a2a2a" stroke-width="1.25"/>
<line x1="56.5" y1="658.2" x2="169.9" y2="658.2" stroke="#2a2a2a" stroke-width="1.25"/>
<line x1="54.3" y1="658.2" x2="57.1" y2="658.2" stroke="#231f20" stroke-width="0.9"/>
<text font-size="7" stroke="#231f20" stroke-width="0.1" transform="translate(43.1 660.6) scale(0.80 1)">0.0</text>
<line x1="54.3" y1="646.8" x2="57.1" y2="646.8" stroke="#231f20" stroke-width="0.9"/>
<text font-size="7" stroke="#231f20" stroke-width="0.1" transform="translate(43.1 649.2) scale(0.80 1)">0.2</text>
<line x1="54.3" y1="635.4" x2="57.1" y2="635.4" stroke="#231f20" stroke-width="0.9"/>
<text font-size="7" stroke="#231f20" stroke-width="0.1" transform="translate(43.1 637.8) scale(0.80 1)">0.4</text>
<line x1="54.3" y1="624" x2="57.1" y2="624" stroke="#231f20" stroke-width="0.9"/>
<text font-size="7" stroke="#231f20" stroke-width="0.1" transform="translate(43.1 626.4) scale(0.80 1)">0.6</text>
<line x1="54.3" y1="612.6" x2="57.1" y2="612.6" stroke="#231f20" stroke-width="0.9"/>
<text font-size="7" stroke="#231f20" stroke-width="0.1" transform="translate(43.1 615) scale(0.80 1)">0.8</text>
<line x1="54.3" y1="601.2" x2="57.1" y2="601.2" stroke="#231f20" stroke-width="0.9"/>
<text font-size="7" stroke="#231f20" stroke-width="0.1" transform="translate(43.1 603.6) scale(0.80 1)">1.0</text>
<line x1="54.3" y1="589.8" x2="57.1" y2="589.8" stroke="#231f20" stroke-width="0.9"/>
<text font-size="7" stroke="#231f20" stroke-width="0.1" transform="translate(43.1 592.2) scale(0.80 1)">1.2</text>
<line x1="54.3" y1="578.4" x2="57.1" y2="578.4" stroke="#231f20" stroke-width="0.9"/>
<text font-size="7" stroke="#231f20" stroke-width="0.1" transform="translate(43.1 580.8) scale(0.80 1)">1.4</text>
<rect x="59.7" y="601.2" width="5.4" height="57" fill="#c40a2c"/>
<rect x="65.1" y="601.2" width="5.4" height="57" fill="#33a7e2"/>
<line x1="65.1" y1="658.2" x2="65.1" y2="660.6" stroke="#231f20" stroke-width="0.9"/>
<text letter-spacing="0.06" font-size="7" stroke="#231f20" stroke-width="0.1" transform="translate(57.6 669.4) scale(0.95 1)">Input</text>
<rect x="76" y="634.26" width="5.4" height="23.94" fill="#c40a2c"/>
<rect x="81.4" y="616.02" width="5.4" height="42.18" fill="#33a7e2"/>
<line x1="78.7" y1="631.98" x2="78.7" y2="636.54" stroke="#222" stroke-width="0.8"/>
<line x1="77.3" y1="631.98" x2="80.1" y2="631.98" stroke="#222" stroke-width="0.8"/>
<line x1="77.3" y1="636.54" x2="80.1" y2="636.54" stroke="#222" stroke-width="0.8"/>
<line x1="84.1" y1="613.17" x2="84.1" y2="618.87" stroke="#222" stroke-width="0.8"/>
<line x1="82.7" y1="613.17" x2="85.5" y2="613.17" stroke="#222" stroke-width="0.8"/>
<line x1="82.7" y1="618.87" x2="85.5" y2="618.87" stroke="#222" stroke-width="0.8"/>
<line x1="81.4" y1="658.2" x2="81.4" y2="660.6" stroke="#231f20" stroke-width="0.9"/>
<text font-size="7" stroke="#231f20" stroke-width="0.1" transform="translate(79.65 669.4) scale(0.90 1)">4</text>
<rect x="92.4" y="625.71" width="5.4" height="32.49" fill="#c40a2c"/>
<rect x="97.8" y="600.63" width="5.4" height="57.57" fill="#33a7e2"/>
<line x1="95.1" y1="622.29" x2="95.1" y2="629.13" stroke="#222" stroke-width="0.8"/>
<line x1="93.7" y1="622.29" x2="96.5" y2="622.29" stroke="#222" stroke-width="0.8"/>
<line x1="93.7" y1="629.13" x2="96.5" y2="629.13" stroke="#222" stroke-width="0.8"/>
<line x1="100.5" y1="594.36" x2="100.5" y2="606.9" stroke="#222" stroke-width="0.8"/>
<line x1="99.1" y1="594.36" x2="101.9" y2="594.36" stroke="#222" stroke-width="0.8"/>
<line x1="99.1" y1="606.9" x2="101.9" y2="606.9" stroke="#222" stroke-width="0.8"/>
<line x1="97.8" y1="658.2" x2="97.8" y2="660.6" stroke="#231f20" stroke-width="0.9"/>
<text font-size="7" stroke="#231f20" stroke-width="0.1" transform="translate(96.05 669.4) scale(0.90 1)">8</text>
<rect x="108.5" y="624.57" width="5.4" height="33.63" fill="#c40a2c"/>
<rect x="113.9" y="596.07" width="5.4" height="62.13" fill="#33a7e2"/>
<line x1="111.2" y1="620.01" x2="111.2" y2="629.13" stroke="#222" stroke-width="0.8"/>
<line x1="109.8" y1="620.01" x2="112.6" y2="620.01" stroke="#222" stroke-width="0.8"/>
<line x1="109.8" y1="629.13" x2="112.6" y2="629.13" stroke="#222" stroke-width="0.8"/>
<line x1="116.6" y1="587.52" x2="116.6" y2="604.62" stroke="#222" stroke-width="0.8"/>
<line x1="115.2" y1="587.52" x2="118" y2="587.52" stroke="#222" stroke-width="0.8"/>
<line x1="115.2" y1="604.62" x2="118" y2="604.62" stroke="#222" stroke-width="0.8"/>
<line x1="113.9" y1="658.2" x2="113.9" y2="660.6" stroke="#231f20" stroke-width="0.9"/>
<text font-size="7" stroke="#231f20" stroke-width="0.1" transform="translate(110.4 669.4) scale(0.90 1)">12</text>
<rect x="124.6" y="630.27" width="5.4" height="27.93" fill="#c40a2c"/>
<rect x="130" y="597.78" width="5.4" height="60.42" fill="#33a7e2"/>
<line x1="127.3" y1="625.14" x2="127.3" y2="635.4" stroke="#222" stroke-width="0.8"/>
<line x1="125.9" y1="625.14" x2="128.7" y2="625.14" stroke="#222" stroke-width="0.8"/>
<line x1="125.9" y1="635.4" x2="128.7" y2="635.4" stroke="#222" stroke-width="0.8"/>
<line x1="132.7" y1="589.8" x2="132.7" y2="605.76" stroke="#222" stroke-width="0.8"/>
<line x1="131.3" y1="589.8" x2="134.1" y2="589.8" stroke="#222" stroke-width="0.8"/>
<line x1="131.3" y1="605.76" x2="134.1" y2="605.76" stroke="#222" stroke-width="0.8"/>
<line x1="130" y1="658.2" x2="130" y2="660.6" stroke="#231f20" stroke-width="0.9"/>
<text font-size="7" stroke="#231f20" stroke-width="0.1" transform="translate(126.5 669.4) scale(0.90 1)">16</text>
<rect x="140.9" y="624" width="5.4" height="34.2" fill="#c40a2c"/>
<rect x="146.3" y="591.51" width="5.4" height="66.69" fill="#33a7e2"/>
<line x1="143.6" y1="617.73" x2="143.6" y2="630.27" stroke="#222" stroke-width="0.8"/>
<line x1="142.2" y1="617.73" x2="145" y2="617.73" stroke="#222" stroke-width="0.8"/>
<line x1="142.2" y1="630.27" x2="145" y2="630.27" stroke="#222" stroke-width="0.8"/>
<line x1="149" y1="582.96" x2="149" y2="600.06" stroke="#222" stroke-width="0.8"/>
<line x1="147.6" y1="582.96" x2="150.4" y2="582.96" stroke="#222" stroke-width="0.8"/>
<line x1="147.6" y1="600.06" x2="150.4" y2="600.06" stroke="#222" stroke-width="0.8"/>
<line x1="146.3" y1="658.2" x2="146.3" y2="660.6" stroke="#231f20" stroke-width="0.9"/>
<text font-size="7" stroke="#231f20" stroke-width="0.1" transform="translate(142.8 669.4) scale(0.90 1)">20</text>
<rect x="157.1" y="629.13" width="5.4" height="29.07" fill="#c40a2c"/>
<rect x="162.5" y="596.07" width="5.4" height="62.13" fill="#33a7e2"/>
<line x1="159.8" y1="624" x2="159.8" y2="634.26" stroke="#222" stroke-width="0.8"/>
<line x1="158.4" y1="624" x2="161.2" y2="624" stroke="#222" stroke-width="0.8"/>
<line x1="158.4" y1="634.26" x2="161.2" y2="634.26" stroke="#222" stroke-width="0.8"/>
<line x1="165.2" y1="588.09" x2="165.2" y2="604.05" stroke="#222" stroke-width="0.8"/>
<line x1="163.8" y1="588.09" x2="166.6" y2="588.09" stroke="#222" stroke-width="0.8"/>
<line x1="163.8" y1="604.05" x2="166.6" y2="604.05" stroke="#222" stroke-width="0.8"/>
<line x1="162.5" y1="658.2" x2="162.5" y2="660.6" stroke="#231f20" stroke-width="0.9"/>
<text font-size="7" stroke="#231f20" stroke-width="0.1" transform="translate(159 669.4) scale(0.90 1)">24</text>
<text letter-spacing="-0.03" font-size="8.8" stroke="#231f20" stroke-width="0.1" transform="translate(65.4 681.1) scale(0.75 1)">Weeks post secondary transplant</text>
<text letter-spacing="0.09" font-size="6.8" font-style="italic" fill="#c40a2c" stroke="#c40a2c" stroke-width="0.1" transform="translate(60.2 573.7) scale(0.95 1)">Ppm1d</text>
<text letter-spacing="-0.08" font-size="4.49" font-style="italic" fill="#c40a2c" stroke="#c40a2c" stroke-width="0.1" transform="translate(81.3 571.18) scale(0.90 1)">+/+</text>
<text letter-spacing="0.07" font-size="6.8" fill="#c40a2c" stroke="#c40a2c" stroke-width="0.1" transform="translate(89.6 573.7) scale(0.95 1)">vs Competitor</text>
<text letter-spacing="0.09" font-size="6.8" font-style="italic" fill="#4db0e4" stroke="#4db0e4" stroke-width="0.1" transform="translate(60.2 583.7) scale(0.95 1)">Ppm1d</text>
<text letter-spacing="-0.04" font-size="4.49" font-style="italic" fill="#4db0e4" stroke="#4db0e4" stroke-width="0.1" transform="translate(81.3 581.18) scale(1.20 1)">T476*/+</text>
<text letter-spacing="0.05" font-size="6.8" fill="#4db0e4" stroke="#4db0e4" stroke-width="0.1" transform="translate(102 583.7) scale(0.95 1)">vs Competitor</text>
<text font-size="10.4" font-weight="bold" stroke="#231f20" stroke-width="0.35" transform="translate(185 576.2) scale(0.90 1)">I</text>
<line x1="227.9" y1="575" x2="227.9" y2="658.9" stroke="#2a2a2a" stroke-width="1.25"/>
<line x1="227.3" y1="658.3" x2="341.5" y2="658.3" stroke="#2a2a2a" stroke-width="1.25"/>
<line x1="225.1" y1="658.3" x2="227.9" y2="658.3" stroke="#231f20" stroke-width="0.9"/>
<text font-size="7" stroke="#231f20" stroke-width="0.1" transform="translate(213.9 660.7) scale(0.80 1)">0.0</text>
<line x1="225.1" y1="646.7" x2="227.9" y2="646.7" stroke="#231f20" stroke-width="0.9"/>
<text font-size="7" stroke="#231f20" stroke-width="0.1" transform="translate(213.9 649.1) scale(0.80 1)">0.2</text>
<line x1="225.1" y1="635.1" x2="227.9" y2="635.1" stroke="#231f20" stroke-width="0.9"/>
<text font-size="7" stroke="#231f20" stroke-width="0.1" transform="translate(213.9 637.5) scale(0.80 1)">0.4</text>
<line x1="225.1" y1="623.5" x2="227.9" y2="623.5" stroke="#231f20" stroke-width="0.9"/>
<text font-size="7" stroke="#231f20" stroke-width="0.1" transform="translate(213.9 625.9) scale(0.80 1)">0.6</text>
<line x1="225.1" y1="611.9" x2="227.9" y2="611.9" stroke="#231f20" stroke-width="0.9"/>
<text font-size="7" stroke="#231f20" stroke-width="0.1" transform="translate(213.9 614.3) scale(0.80 1)">0.8</text>
<line x1="225.1" y1="600.3" x2="227.9" y2="600.3" stroke="#231f20" stroke-width="0.9"/>
<text font-size="7" stroke="#231f20" stroke-width="0.1" transform="translate(213.9 602.7) scale(0.80 1)">1.0</text>
<line x1="225.1" y1="588.7" x2="227.9" y2="588.7" stroke="#231f20" stroke-width="0.9"/>
<text font-size="7" stroke="#231f20" stroke-width="0.1" transform="translate(213.9 591.1) scale(0.80 1)">1.2</text>
<line x1="225.1" y1="577.1" x2="227.9" y2="577.1" stroke="#231f20" stroke-width="0.9"/>
<text font-size="7" stroke="#231f20" stroke-width="0.1" transform="translate(213.9 579.5) scale(0.80 1)">1.4</text>
<rect x="229.2" y="600.3" width="6.4" height="58" fill="#c40a2c"/>
<rect x="235.6" y="600.3" width="6.4" height="58" fill="#33a7e2"/>
<line x1="235.6" y1="658.3" x2="235.6" y2="660.7" stroke="#231f20" stroke-width="0.9"/>
<text letter-spacing="0.06" font-size="7" stroke="#231f20" stroke-width="0.1" transform="translate(228.1 669.4) scale(0.95 1)">Input</text>
<rect x="248.1" y="646.12" width="6.4" height="12.18" fill="#c40a2c"/>
<rect x="254.5" y="626.4" width="6.4" height="31.9" fill="#33a7e2"/>
<line x1="251.3" y1="642.64" x2="251.3" y2="649.6" stroke="#222" stroke-width="0.8"/>
<line x1="249.9" y1="642.64" x2="252.7" y2="642.64" stroke="#222" stroke-width="0.8"/>
<line x1="249.9" y1="649.6" x2="252.7" y2="649.6" stroke="#222" stroke-width="0.8"/>
<line x1="257.7" y1="623.5" x2="257.7" y2="629.3" stroke="#222" stroke-width="0.8"/>
<line x1="256.3" y1="623.5" x2="259.1" y2="623.5" stroke="#222" stroke-width="0.8"/>
<line x1="256.3" y1="629.3" x2="259.1" y2="629.3" stroke="#222" stroke-width="0.8"/>
<line x1="254.5" y1="658.3" x2="254.5" y2="660.7" stroke="#231f20" stroke-width="0.9"/>
<text font-size="7" stroke="#231f20" stroke-width="0.1" transform="translate(252.75 669.4) scale(0.90 1)">4</text>
<rect x="267.3" y="644.96" width="6.4" height="13.34" fill="#c40a2c"/>
<rect x="273.7" y="614.22" width="6.4" height="44.08" fill="#33a7e2"/>
<line x1="270.5" y1="643.8" x2="270.5" y2="646.12" stroke="#222" stroke-width="0.8"/>
<line x1="269.1" y1="643.8" x2="271.9" y2="643.8" stroke="#222" stroke-width="0.8"/>
<line x1="269.1" y1="646.12" x2="271.9" y2="646.12" stroke="#222" stroke-width="0.8"/>
<line x1="276.9" y1="607.84" x2="276.9" y2="620.6" stroke="#222" stroke-width="0.8"/>
<line x1="275.5" y1="607.84" x2="278.3" y2="607.84" stroke="#222" stroke-width="0.8"/>
<line x1="275.5" y1="620.6" x2="278.3" y2="620.6" stroke="#222" stroke-width="0.8"/>
<line x1="273.7" y1="658.3" x2="273.7" y2="660.7" stroke="#231f20" stroke-width="0.9"/>
<text font-size="7" stroke="#231f20" stroke-width="0.1" transform="translate(271.95 669.4) scale(0.90 1)">8</text>
<rect x="286.7" y="647.86" width="6.4" height="10.44" fill="#c40a2c"/>
<rect x="293.1" y="615.96" width="6.4" height="42.34" fill="#33a7e2"/>
<line x1="289.9" y1="646.12" x2="289.9" y2="649.6" stroke="#222" stroke-width="0.8"/>
<line x1="288.5" y1="646.12" x2="291.3" y2="646.12" stroke="#222" stroke-width="0.8"/>
<line x1="288.5" y1="649.6" x2="291.3" y2="649.6" stroke="#222" stroke-width="0.8"/>
<line x1="296.3" y1="607.84" x2="296.3" y2="624.08" stroke="#222" stroke-width="0.8"/>
<line x1="294.9" y1="607.84" x2="297.7" y2="607.84" stroke="#222" stroke-width="0.8"/>
<line x1="294.9" y1="624.08" x2="297.7" y2="624.08" stroke="#222" stroke-width="0.8"/>
<line x1="293.1" y1="658.3" x2="293.1" y2="660.7" stroke="#231f20" stroke-width="0.9"/>
<text font-size="7" stroke="#231f20" stroke-width="0.1" transform="translate(289.6 669.4) scale(0.90 1)">12</text>
<rect x="305.8" y="648.44" width="6.4" height="9.86" fill="#c40a2c"/>
<rect x="312.2" y="620.02" width="6.4" height="38.28" fill="#33a7e2"/>
<line x1="309" y1="647.28" x2="309" y2="649.6" stroke="#222" stroke-width="0.8"/>
<line x1="307.6" y1="647.28" x2="310.4" y2="647.28" stroke="#222" stroke-width="0.8"/>
<line x1="307.6" y1="649.6" x2="310.4" y2="649.6" stroke="#222" stroke-width="0.8"/>
<line x1="315.4" y1="610.74" x2="315.4" y2="629.3" stroke="#222" stroke-width="0.8"/>
<line x1="314" y1="610.74" x2="316.8" y2="610.74" stroke="#222" stroke-width="0.8"/>
<line x1="314" y1="629.3" x2="316.8" y2="629.3" stroke="#222" stroke-width="0.8"/>
<line x1="312.2" y1="658.3" x2="312.2" y2="660.7" stroke="#231f20" stroke-width="0.9"/>
<text font-size="7" stroke="#231f20" stroke-width="0.1" transform="translate(308.7 669.4) scale(0.90 1)">16</text>
<rect x="325" y="648.44" width="6.4" height="9.86" fill="#c40a2c"/>
<rect x="331.4" y="621.76" width="6.4" height="36.54" fill="#33a7e2"/>
<line x1="328.2" y1="646.7" x2="328.2" y2="650.18" stroke="#222" stroke-width="0.8"/>
<line x1="326.8" y1="646.7" x2="329.6" y2="646.7" stroke="#222" stroke-width="0.8"/>
<line x1="326.8" y1="650.18" x2="329.6" y2="650.18" stroke="#222" stroke-width="0.8"/>
<line x1="334.6" y1="611.9" x2="334.6" y2="631.62" stroke="#222" stroke-width="0.8"/>
<line x1="333.2" y1="611.9" x2="336" y2="611.9" stroke="#222" stroke-width="0.8"/>
<line x1="333.2" y1="631.62" x2="336" y2="631.62" stroke="#222" stroke-width="0.8"/>
<line x1="331.4" y1="658.3" x2="331.4" y2="660.7" stroke="#231f20" stroke-width="0.9"/>
<text font-size="7" stroke="#231f20" stroke-width="0.1" transform="translate(327.9 669.4) scale(0.90 1)">20</text>
<text font-size="8.8" stroke="#231f20" stroke-width="0.1" transform="translate(240 681.1) scale(0.75 1)">Weeks post tertiary transplant</text>
<text letter-spacing="0.09" font-size="6.8" font-style="italic" fill="#c40a2c" stroke="#c40a2c" stroke-width="0.1" transform="translate(229.2 573.9) scale(0.95 1)">Ppm1d</text>
<text letter-spacing="-0.08" font-size="4.49" font-style="italic" fill="#c40a2c" stroke="#c40a2c" stroke-width="0.1" transform="translate(250.3 571.38) scale(0.90 1)">+/+</text>
<text letter-spacing="0.06" font-size="6.8" fill="#c40a2c" stroke="#c40a2c" stroke-width="0.1" transform="translate(258.4 573.9) scale(0.95 1)">vs Competitor</text>
<text letter-spacing="0.09" font-size="6.8" font-style="italic" fill="#4db0e4" stroke="#4db0e4" stroke-width="0.1" transform="translate(229.2 583.6) scale(0.95 1)">Ppm1d</text>
<text letter-spacing="0.04" font-size="4.49" font-style="italic" fill="#4db0e4" stroke="#4db0e4" stroke-width="0.1" transform="translate(250.3 581.08) scale(1.15 1)">T476*/+</text>
<text letter-spacing="0.04" font-size="6.8" fill="#4db0e4" stroke="#4db0e4" stroke-width="0.1" transform="translate(270.6 583.6) scale(0.95 1)">vs Competitor</text>
<text letter-spacing="0.10" font-size="10.4" font-weight="bold" stroke="#231f20" stroke-width="0.35" transform="translate(355 576.8) scale(0.85 1)">J</text>
<line x1="398.8" y1="577.3" x2="398.8" y2="658.8" stroke="#2a2a2a" stroke-width="1.25"/>
<line x1="398.2" y1="658.2" x2="509.9" y2="658.2" stroke="#2a2a2a" stroke-width="1.25"/>
<line x1="396" y1="658.2" x2="398.8" y2="658.2" stroke="#231f20" stroke-width="0.9"/>
<text font-size="7" stroke="#231f20" stroke-width="0.1" transform="translate(384.8 660.6) scale(0.80 1)">0.0</text>
<line x1="396" y1="648.36" x2="398.8" y2="648.36" stroke="#231f20" stroke-width="0.9"/>
<text font-size="7" stroke="#231f20" stroke-width="0.1" transform="translate(384.8 650.76) scale(0.80 1)">0.2</text>
<line x1="396" y1="638.52" x2="398.8" y2="638.52" stroke="#231f20" stroke-width="0.9"/>
<text font-size="7" stroke="#231f20" stroke-width="0.1" transform="translate(384.8 640.92) scale(0.80 1)">0.4</text>
<line x1="396" y1="628.68" x2="398.8" y2="628.68" stroke="#231f20" stroke-width="0.9"/>
<text font-size="7" stroke="#231f20" stroke-width="0.1" transform="translate(384.8 631.08) scale(0.80 1)">0.6</text>
<line x1="396" y1="618.84" x2="398.8" y2="618.84" stroke="#231f20" stroke-width="0.9"/>
<text font-size="7" stroke="#231f20" stroke-width="0.1" transform="translate(384.8 621.24) scale(0.80 1)">0.8</text>
<line x1="396" y1="609" x2="398.8" y2="609" stroke="#231f20" stroke-width="0.9"/>
<text font-size="7" stroke="#231f20" stroke-width="0.1" transform="translate(384.8 611.4) scale(0.80 1)">1.0</text>
<line x1="396" y1="599.16" x2="398.8" y2="599.16" stroke="#231f20" stroke-width="0.9"/>
<text font-size="7" stroke="#231f20" stroke-width="0.1" transform="translate(384.8 601.56) scale(0.80 1)">1.2</text>
<line x1="396" y1="589.32" x2="398.8" y2="589.32" stroke="#231f20" stroke-width="0.9"/>
<text font-size="7" stroke="#231f20" stroke-width="0.1" transform="translate(384.8 591.72) scale(0.80 1)">1.4</text>
<line x1="396" y1="579.48" x2="398.8" y2="579.48" stroke="#231f20" stroke-width="0.9"/>
<text font-size="7" stroke="#231f20" stroke-width="0.1" transform="translate(384.8 581.88) scale(0.80 1)">1.6</text>
<rect x="403.4" y="609" width="8.4" height="49.2" fill="#33a7e2"/>
<line x1="407.6" y1="658.2" x2="407.6" y2="660.6" stroke="#231f20" stroke-width="0.9"/>
<text letter-spacing="0.06" font-size="7" fill="#4a2c4c" stroke="#4a2c4c" stroke-width="0.1" transform="translate(400.1 669.4) scale(0.95 1)">Input</text>
<rect x="422" y="597.68" width="8.4" height="60.52" fill="#33a7e2"/>
<line x1="426.2" y1="595.47" x2="426.2" y2="599.9" stroke="#222" stroke-width="0.8"/>
<line x1="424.8" y1="595.47" x2="427.6" y2="595.47" stroke="#222" stroke-width="0.8"/>
<line x1="424.8" y1="599.9" x2="427.6" y2="599.9" stroke="#222" stroke-width="0.8"/>
<line x1="426.2" y1="658.2" x2="426.2" y2="660.6" stroke="#231f20" stroke-width="0.9"/>
<text font-size="7" fill="#4a2c4c" stroke="#4a2c4c" stroke-width="0.1" transform="translate(424.45 669.4) scale(0.90 1)">4</text>
<rect x="441.3" y="596.7" width="8.4" height="61.5" fill="#33a7e2"/>
<line x1="445.5" y1="594.73" x2="445.5" y2="598.67" stroke="#222" stroke-width="0.8"/>
<line x1="444.1" y1="594.73" x2="446.9" y2="594.73" stroke="#222" stroke-width="0.8"/>
<line x1="444.1" y1="598.67" x2="446.9" y2="598.67" stroke="#222" stroke-width="0.8"/>
<line x1="445.5" y1="658.2" x2="445.5" y2="660.6" stroke="#231f20" stroke-width="0.9"/>
<text letter-spacing="0.03" font-size="7" fill="#4a2c4c" stroke="#4a2c4c" stroke-width="0.1" transform="translate(442.4 669.4) scale(0.85 1)">11</text>
<rect x="459.9" y="583.42" width="8.4" height="74.78" fill="#33a7e2"/>
<line x1="464.1" y1="582.43" x2="464.1" y2="584.4" stroke="#222" stroke-width="0.8"/>
<line x1="462.7" y1="582.43" x2="465.5" y2="582.43" stroke="#222" stroke-width="0.8"/>
<line x1="462.7" y1="584.4" x2="465.5" y2="584.4" stroke="#222" stroke-width="0.8"/>
<line x1="464.1" y1="658.2" x2="464.1" y2="660.6" stroke="#231f20" stroke-width="0.9"/>
<text font-size="7" fill="#4a2c4c" stroke="#4a2c4c" stroke-width="0.1" transform="translate(460.6 669.4) scale(0.90 1)">17</text>
<rect x="479.1" y="591.78" width="8.4" height="66.42" fill="#33a7e2"/>
<line x1="483.3" y1="587.35" x2="483.3" y2="596.21" stroke="#222" stroke-width="0.8"/>
<line x1="481.9" y1="587.35" x2="484.7" y2="587.35" stroke="#222" stroke-width="0.8"/>
<line x1="481.9" y1="596.21" x2="484.7" y2="596.21" stroke="#222" stroke-width="0.8"/>
<line x1="483.3" y1="658.2" x2="483.3" y2="660.6" stroke="#231f20" stroke-width="0.9"/>
<text font-size="7" fill="#4a2c4c" stroke="#4a2c4c" stroke-width="0.1" transform="translate(479.8 669.4) scale(0.90 1)">21</text>
<rect x="497.9" y="587.35" width="8.4" height="70.85" fill="#33a7e2"/>
<line x1="502.1" y1="583.66" x2="502.1" y2="591.04" stroke="#222" stroke-width="0.8"/>
<line x1="500.7" y1="583.66" x2="503.5" y2="583.66" stroke="#222" stroke-width="0.8"/>
<line x1="500.7" y1="591.04" x2="503.5" y2="591.04" stroke="#222" stroke-width="0.8"/>
<line x1="502.1" y1="658.2" x2="502.1" y2="660.6" stroke="#231f20" stroke-width="0.9"/>
<text font-size="7" fill="#4a2c4c" stroke="#4a2c4c" stroke-width="0.1" transform="translate(498.6 669.4) scale(0.90 1)">28</text>
<text letter-spacing="0.03" font-size="8.8" stroke="#231f20" stroke-width="0.1" transform="translate(405.1 681.1) scale(0.75 1)">Weeks post quaternary transplant</text>
<text letter-spacing="0.09" font-size="6.8" font-style="italic" fill="#4db0e4" stroke="#4db0e4" stroke-width="0.1" transform="translate(402.2 573.7) scale(0.95 1)">Ppm1d</text>
<text letter-spacing="-0.04" font-size="4.49" font-style="italic" fill="#4db0e4" stroke="#4db0e4" stroke-width="0.1" transform="translate(423.3 571.18) scale(1.20 1)">T476*/+</text>
<text letter-spacing="-0.01" font-size="6.8" fill="#4db0e4" stroke="#4db0e4" stroke-width="0.1" transform="translate(443.8 573.7) scale(0.95 1)">vs Competitor</text>
</svg>
<div class="t" style="left:13.6px;top:285.25px;font-size:8.8px;-webkit-text-stroke:0.3px #231f20;transform-origin:0px 7.45px;transform:rotate(-90deg) translateX(-0px) scaleX(0.77) translateX(0px);will-change:transform">% of parent population</div>
<div class="t" style="left:238.5px;top:104.21px;font-size:7.2px;-webkit-text-stroke:0.1px #231f20;transform-origin:1.8px 3.59px;transform:rotate(-45deg) translateX(-1.8px) scaleX(0.90) translateX(1.8px)">0</div>
<div class="t" style="left:245.8px;top:104.21px;font-size:7.2px;-webkit-text-stroke:0.1px #231f20;transform-origin:1.8px 3.59px;transform:rotate(-45deg) translateX(-1.8px) scaleX(0.90) translateX(1.8px)">1</div>
<div class="t" style="left:253.2px;top:104.21px;font-size:7.2px;-webkit-text-stroke:0.1px #231f20;transform-origin:1.8px 3.59px;transform:rotate(-45deg) translateX(-1.8px) scaleX(0.90) translateX(1.8px)">3</div>
<div class="t" style="left:260.5px;top:104.21px;font-size:7.2px;-webkit-text-stroke:0.1px #231f20;transform-origin:1.8px 3.59px;transform:rotate(-45deg) translateX(-1.8px) scaleX(0.90) translateX(1.8px)">4</div>
<div class="t" style="left:267.9px;top:104.21px;font-size:7.2px;-webkit-text-stroke:0.1px #231f20;transform-origin:1.8px 3.59px;transform:rotate(-45deg) translateX(-1.8px) scaleX(0.90) translateX(1.8px)">5</div>
<div class="t" style="left:275.2px;top:104.21px;font-size:7.2px;-webkit-text-stroke:0.1px #231f20;transform-origin:1.8px 3.59px;transform:rotate(-45deg) translateX(-1.8px) scaleX(0.90) translateX(1.8px)">6</div>
<div class="t" style="left:282.5px;top:104.21px;font-size:7.2px;-webkit-text-stroke:0.1px #231f20;transform-origin:1.8px 3.59px;transform:rotate(-45deg) translateX(-1.8px) scaleX(0.90) translateX(1.8px)">8</div>
<div class="t" style="left:286.8px;top:104.81px;font-size:7.2px;letter-spacing:0.26px;-webkit-text-stroke:0.1px #231f20;transform-origin:3.1px 3.59px;transform:rotate(-45deg) translateX(-3.1px) scaleX(0.75) translateX(3.1px)">10</div>
<div class="t" style="left:301.6px;top:104.21px;font-size:7.2px;-webkit-text-stroke:0.1px #231f20;transform-origin:1.8px 3.59px;transform:rotate(-45deg) translateX(-1.8px) scaleX(0.90) translateX(1.8px)">0</div>
<div class="t" style="left:309.1px;top:104.21px;font-size:7.2px;-webkit-text-stroke:0.1px #231f20;transform-origin:1.8px 3.59px;transform:rotate(-45deg) translateX(-1.8px) scaleX(0.90) translateX(1.8px)">1</div>
<div class="t" style="left:316.3px;top:104.21px;font-size:7.2px;-webkit-text-stroke:0.1px #231f20;transform-origin:1.8px 3.59px;transform:rotate(-45deg) translateX(-1.8px) scaleX(0.90) translateX(1.8px)">3</div>
<div class="t" style="left:323.8px;top:104.21px;font-size:7.2px;-webkit-text-stroke:0.1px #231f20;transform-origin:1.8px 3.59px;transform:rotate(-45deg) translateX(-1.8px) scaleX(0.90) translateX(1.8px)">4</div>
<div class="t" style="left:331.1px;top:104.21px;font-size:7.2px;-webkit-text-stroke:0.1px #231f20;transform-origin:1.8px 3.59px;transform:rotate(-45deg) translateX(-1.8px) scaleX(0.90) translateX(1.8px)">5</div>
<div class="t" style="left:338.6px;top:104.21px;font-size:7.2px;-webkit-text-stroke:0.1px #231f20;transform-origin:1.8px 3.59px;transform:rotate(-45deg) translateX(-1.8px) scaleX(0.90) translateX(1.8px)">6</div>
<div class="t" style="left:345.8px;top:104.21px;font-size:7.2px;-webkit-text-stroke:0.1px #231f20;transform-origin:1.8px 3.59px;transform:rotate(-45deg) translateX(-1.8px) scaleX(0.90) translateX(1.8px)">8</div>
<div class="t" style="left:350.3px;top:104.81px;font-size:7.2px;letter-spacing:0.26px;-webkit-text-stroke:0.1px #231f20;transform-origin:3.1px 3.59px;transform:rotate(-45deg) translateX(-3.1px) scaleX(0.75) translateX(3.1px)">10</div>
<div class="t" style="left:217.7px;top:71.95px;font-size:8.8px;-webkit-text-stroke:0.3px #231f20;transform-origin:0px 7.45px;transform:rotate(-90deg) translateX(-0px) scaleX(0.72) translateX(0px);will-change:transform">WBC (K/uL)</div>
<div class="t" style="left:392.8px;top:104.21px;font-size:7.2px;-webkit-text-stroke:0.1px #231f20;transform-origin:1.8px 3.59px;transform:rotate(-45deg) translateX(-1.8px) scaleX(0.90) translateX(1.8px)">0</div>
<div class="t" style="left:400.3px;top:104.21px;font-size:7.2px;-webkit-text-stroke:0.1px #231f20;transform-origin:1.8px 3.59px;transform:rotate(-45deg) translateX(-1.8px) scaleX(0.90) translateX(1.8px)">1</div>
<div class="t" style="left:407.6px;top:104.21px;font-size:7.2px;-webkit-text-stroke:0.1px #231f20;transform-origin:1.8px 3.59px;transform:rotate(-45deg) translateX(-1.8px) scaleX(0.90) translateX(1.8px)">3</div>
<div class="t" style="left:414.8px;top:104.21px;font-size:7.2px;-webkit-text-stroke:0.1px #231f20;transform-origin:1.8px 3.59px;transform:rotate(-45deg) translateX(-1.8px) scaleX(0.90) translateX(1.8px)">4</div>
<div class="t" style="left:422.3px;top:104.21px;font-size:7.2px;-webkit-text-stroke:0.1px #231f20;transform-origin:1.8px 3.59px;transform:rotate(-45deg) translateX(-1.8px) scaleX(0.90) translateX(1.8px)">5</div>
<div class="t" style="left:429.5px;top:104.21px;font-size:7.2px;-webkit-text-stroke:0.1px #231f20;transform-origin:1.8px 3.59px;transform:rotate(-45deg) translateX(-1.8px) scaleX(0.90) translateX(1.8px)">6</div>
<div class="t" style="left:436.6px;top:104.21px;font-size:7.2px;-webkit-text-stroke:0.1px #231f20;transform-origin:1.8px 3.59px;transform:rotate(-45deg) translateX(-1.8px) scaleX(0.90) translateX(1.8px)">8</div>
<div class="t" style="left:440.9px;top:104.81px;font-size:7.2px;letter-spacing:0.26px;-webkit-text-stroke:0.1px #231f20;transform-origin:3.1px 3.59px;transform:rotate(-45deg) translateX(-3.1px) scaleX(0.75) translateX(3.1px)">10</div>
<div class="t" style="left:456.1px;top:104.21px;font-size:7.2px;-webkit-text-stroke:0.1px #231f20;transform-origin:1.8px 3.59px;transform:rotate(-45deg) translateX(-1.8px) scaleX(0.90) translateX(1.8px)">0</div>
<div class="t" style="left:463.6px;top:104.21px;font-size:7.2px;-webkit-text-stroke:0.1px #231f20;transform-origin:1.8px 3.59px;transform:rotate(-45deg) translateX(-1.8px) scaleX(0.90) translateX(1.8px)">1</div>
<div class="t" style="left:470.8px;top:104.21px;font-size:7.2px;-webkit-text-stroke:0.1px #231f20;transform-origin:1.8px 3.59px;transform:rotate(-45deg) translateX(-1.8px) scaleX(0.90) translateX(1.8px)">3</div>
<div class="t" style="left:477.9px;top:104.21px;font-size:7.2px;-webkit-text-stroke:0.1px #231f20;transform-origin:1.8px 3.59px;transform:rotate(-45deg) translateX(-1.8px) scaleX(0.90) translateX(1.8px)">4</div>
<div class="t" style="left:485.3px;top:104.21px;font-size:7.2px;-webkit-text-stroke:0.1px #231f20;transform-origin:1.8px 3.59px;transform:rotate(-45deg) translateX(-1.8px) scaleX(0.90) translateX(1.8px)">5</div>
<div class="t" style="left:492.4px;top:104.21px;font-size:7.2px;-webkit-text-stroke:0.1px #231f20;transform-origin:1.8px 3.59px;transform:rotate(-45deg) translateX(-1.8px) scaleX(0.90) translateX(1.8px)">6</div>
<div class="t" style="left:499.9px;top:104.21px;font-size:7.2px;-webkit-text-stroke:0.1px #231f20;transform-origin:1.8px 3.59px;transform:rotate(-45deg) translateX(-1.8px) scaleX(0.90) translateX(1.8px)">8</div>
<div class="t" style="left:504.1px;top:104.81px;font-size:7.2px;letter-spacing:0.26px;-webkit-text-stroke:0.1px #231f20;transform-origin:3.1px 3.59px;transform:rotate(-45deg) translateX(-3.1px) scaleX(0.75) translateX(3.1px)">10</div>
<div class="t" style="left:372px;top:83.85px;font-size:8.8px;-webkit-text-stroke:0.3px #231f20;transform-origin:0px 7.45px;transform:rotate(-90deg) translateX(-0px) scaleX(0.74) translateX(0px);will-change:transform">Lymphocytes (K/uL)</div>
<div class="t" style="left:238.5px;top:231.01px;font-size:7.2px;-webkit-text-stroke:0.1px #231f20;transform-origin:1.8px 3.59px;transform:rotate(-45deg) translateX(-1.8px) scaleX(0.90) translateX(1.8px)">0</div>
<div class="t" style="left:245.6px;top:231.01px;font-size:7.2px;-webkit-text-stroke:0.1px #231f20;transform-origin:1.8px 3.59px;transform:rotate(-45deg) translateX(-1.8px) scaleX(0.90) translateX(1.8px)">1</div>
<div class="t" style="left:253.3px;top:231.01px;font-size:7.2px;-webkit-text-stroke:0.1px #231f20;transform-origin:1.8px 3.59px;transform:rotate(-45deg) translateX(-1.8px) scaleX(0.90) translateX(1.8px)">3</div>
<div class="t" style="left:260.6px;top:231.01px;font-size:7.2px;-webkit-text-stroke:0.1px #231f20;transform-origin:1.8px 3.59px;transform:rotate(-45deg) translateX(-1.8px) scaleX(0.90) translateX(1.8px)">4</div>
<div class="t" style="left:267.9px;top:231.01px;font-size:7.2px;-webkit-text-stroke:0.1px #231f20;transform-origin:1.8px 3.59px;transform:rotate(-45deg) translateX(-1.8px) scaleX(0.90) translateX(1.8px)">5</div>
<div class="t" style="left:275.1px;top:231.01px;font-size:7.2px;-webkit-text-stroke:0.1px #231f20;transform-origin:1.8px 3.59px;transform:rotate(-45deg) translateX(-1.8px) scaleX(0.90) translateX(1.8px)">6</div>
<div class="t" style="left:282.4px;top:231.01px;font-size:7.2px;-webkit-text-stroke:0.1px #231f20;transform-origin:1.8px 3.59px;transform:rotate(-45deg) translateX(-1.8px) scaleX(0.90) translateX(1.8px)">8</div>
<div class="t" style="left:286.9px;top:231.61px;font-size:7.2px;letter-spacing:0.26px;-webkit-text-stroke:0.1px #231f20;transform-origin:3.1px 3.59px;transform:rotate(-45deg) translateX(-3.1px) scaleX(0.75) translateX(3.1px)">10</div>
<div class="t" style="left:301.7px;top:231.01px;font-size:7.2px;-webkit-text-stroke:0.1px #231f20;transform-origin:1.8px 3.59px;transform:rotate(-45deg) translateX(-1.8px) scaleX(0.90) translateX(1.8px)">0</div>
<div class="t" style="left:309.1px;top:231.01px;font-size:7.2px;-webkit-text-stroke:0.1px #231f20;transform-origin:1.8px 3.59px;transform:rotate(-45deg) translateX(-1.8px) scaleX(0.90) translateX(1.8px)">1</div>
<div class="t" style="left:316.5px;top:231.01px;font-size:7.2px;-webkit-text-stroke:0.1px #231f20;transform-origin:1.8px 3.59px;transform:rotate(-45deg) translateX(-1.8px) scaleX(0.90) translateX(1.8px)">3</div>
<div class="t" style="left:323.7px;top:231.01px;font-size:7.2px;-webkit-text-stroke:0.1px #231f20;transform-origin:1.8px 3.59px;transform:rotate(-45deg) translateX(-1.8px) scaleX(0.90) translateX(1.8px)">4</div>
<div class="t" style="left:330.9px;top:231.01px;font-size:7.2px;-webkit-text-stroke:0.1px #231f20;transform-origin:1.8px 3.59px;transform:rotate(-45deg) translateX(-1.8px) scaleX(0.90) translateX(1.8px)">5</div>
<div class="t" style="left:338.3px;top:231.01px;font-size:7.2px;-webkit-text-stroke:0.1px #231f20;transform-origin:1.8px 3.59px;transform:rotate(-45deg) translateX(-1.8px) scaleX(0.90) translateX(1.8px)">6</div>
<div class="t" style="left:345.7px;top:231.01px;font-size:7.2px;-webkit-text-stroke:0.1px #231f20;transform-origin:1.8px 3.59px;transform:rotate(-45deg) translateX(-1.8px) scaleX(0.90) translateX(1.8px)">8</div>
<div class="t" style="left:349.9px;top:231.61px;font-size:7.2px;letter-spacing:0.26px;-webkit-text-stroke:0.1px #231f20;transform-origin:3.1px 3.59px;transform:rotate(-45deg) translateX(-3.1px) scaleX(0.75) translateX(3.1px)">10</div>
<div class="t" style="left:210.7px;top:195.95px;font-size:8.8px;-webkit-text-stroke:0.3px #231f20;transform-origin:0px 7.45px;transform:rotate(-90deg) translateX(-0px) scaleX(0.76) translateX(0px);will-change:transform">Plt (K/uL)</div>
<div class="t" style="left:392.8px;top:231.01px;font-size:7.2px;-webkit-text-stroke:0.1px #231f20;transform-origin:1.8px 3.59px;transform:rotate(-45deg) translateX(-1.8px) scaleX(0.90) translateX(1.8px)">0</div>
<div class="t" style="left:400.3px;top:231.01px;font-size:7.2px;-webkit-text-stroke:0.1px #231f20;transform-origin:1.8px 3.59px;transform:rotate(-45deg) translateX(-1.8px) scaleX(0.90) translateX(1.8px)">1</div>
<div class="t" style="left:407.6px;top:231.01px;font-size:7.2px;-webkit-text-stroke:0.1px #231f20;transform-origin:1.8px 3.59px;transform:rotate(-45deg) translateX(-1.8px) scaleX(0.90) translateX(1.8px)">3</div>
<div class="t" style="left:414.8px;top:231.01px;font-size:7.2px;-webkit-text-stroke:0.1px #231f20;transform-origin:1.8px 3.59px;transform:rotate(-45deg) translateX(-1.8px) scaleX(0.90) translateX(1.8px)">4</div>
<div class="t" style="left:422.3px;top:231.01px;font-size:7.2px;-webkit-text-stroke:0.1px #231f20;transform-origin:1.8px 3.59px;transform:rotate(-45deg) translateX(-1.8px) scaleX(0.90) translateX(1.8px)">5</div>
<div class="t" style="left:429.5px;top:231.01px;font-size:7.2px;-webkit-text-stroke:0.1px #231f20;transform-origin:1.8px 3.59px;transform:rotate(-45deg) translateX(-1.8px) scaleX(0.90) translateX(1.8px)">6</div>
<div class="t" style="left:436.6px;top:231.01px;font-size:7.2px;-webkit-text-stroke:0.1px #231f20;transform-origin:1.8px 3.59px;transform:rotate(-45deg) translateX(-1.8px) scaleX(0.90) translateX(1.8px)">8</div>
<div class="t" style="left:440.9px;top:231.61px;font-size:7.2px;letter-spacing:0.26px;-webkit-text-stroke:0.1px #231f20;transform-origin:3.1px 3.59px;transform:rotate(-45deg) translateX(-3.1px) scaleX(0.75) translateX(3.1px)">10</div>
<div class="t" style="left:456.3px;top:231.01px;font-size:7.2px;-webkit-text-stroke:0.1px #231f20;transform-origin:1.8px 3.59px;transform:rotate(-45deg) translateX(-1.8px) scaleX(0.90) translateX(1.8px)">0</div>
<div class="t" style="left:463.4px;top:231.01px;font-size:7.2px;-webkit-text-stroke:0.1px #231f20;transform-origin:1.8px 3.59px;transform:rotate(-45deg) translateX(-1.8px) scaleX(0.90) translateX(1.8px)">1</div>
<div class="t" style="left:470.9px;top:231.01px;font-size:7.2px;-webkit-text-stroke:0.1px #231f20;transform-origin:1.8px 3.59px;transform:rotate(-45deg) translateX(-1.8px) scaleX(0.90) translateX(1.8px)">3</div>
<div class="t" style="left:478.3px;top:231.01px;font-size:7.2px;-webkit-text-stroke:0.1px #231f20;transform-origin:1.8px 3.59px;transform:rotate(-45deg) translateX(-1.8px) scaleX(0.90) translateX(1.8px)">4</div>
<div class="t" style="left:485.3px;top:231.01px;font-size:7.2px;-webkit-text-stroke:0.1px #231f20;transform-origin:1.8px 3.59px;transform:rotate(-45deg) translateX(-1.8px) scaleX(0.90) translateX(1.8px)">5</div>
<div class="t" style="left:492.6px;top:231.01px;font-size:7.2px;-webkit-text-stroke:0.1px #231f20;transform-origin:1.8px 3.59px;transform:rotate(-45deg) translateX(-1.8px) scaleX(0.90) translateX(1.8px)">6</div>
<div class="t" style="left:500.3px;top:231.01px;font-size:7.2px;-webkit-text-stroke:0.1px #231f20;transform-origin:1.8px 3.59px;transform:rotate(-45deg) translateX(-1.8px) scaleX(0.90) translateX(1.8px)">8</div>
<div class="t" style="left:504.6px;top:231.61px;font-size:7.2px;letter-spacing:0.26px;-webkit-text-stroke:0.1px #231f20;transform-origin:3.1px 3.59px;transform:rotate(-45deg) translateX(-3.1px) scaleX(0.75) translateX(3.1px)">10</div>
<div class="t" style="left:372px;top:192.45px;font-size:8.8px;-webkit-text-stroke:0.3px #231f20;transform-origin:0px 7.45px;transform:rotate(-90deg) translateX(-0px) scaleX(0.72) translateX(0px);will-change:transform">Hct (%)</div>
<div class="t" style="left:437.3px;top:290.91px;font-size:6.6px;-webkit-text-stroke:0.15px #231f20;transform-origin:0px 5.59px;transform:rotate(-90deg) translateX(-0px) scaleX(0.97) translateX(0px);will-change:transform">CD45.1</div>
<div class="t" style="left:47.2px;top:411.35px;font-size:8.8px;-webkit-text-stroke:0.3px #231f20;transform-origin:0px 7.45px;transform:rotate(-90deg) translateX(-0px) scaleX(0.71) translateX(0px);will-change:transform">% PB CD45.2</div>
<div class="t" style="left:333.22px;top:445.12px;font-size:7.3px;letter-spacing:-0.03px;-webkit-text-stroke:0.1px #231f20;transform-origin:7.28px 6.18px;transform:rotate(-45deg) translateX(-7.28px) scaleX(0.75) translateX(7.28px)">PB</div>
<div class="t" style="left:351.2px;top:445.12px;font-size:7.3px;letter-spacing:0.25px;-webkit-text-stroke:0.1px #231f20;transform-origin:8.4px 6.18px;transform:rotate(-45deg) translateX(-8.4px) scaleX(0.75) translateX(8.4px)">BM</div>
<div class="t" style="left:371.84px;top:445.12px;font-size:7.3px;letter-spacing:-0.11px;-webkit-text-stroke:0.1px #231f20;transform-origin:7.06px 6.18px;transform:rotate(-45deg) translateX(-7.06px) scaleX(0.80) translateX(7.06px)">LK</div>
<div class="t" style="left:387.48px;top:445.12px;font-size:7.3px;letter-spacing:0.04px;-webkit-text-stroke:0.1px #231f20;transform-origin:10.42px 6.18px;transform:rotate(-45deg) translateX(-10.42px) scaleX(0.75) translateX(10.42px)">LSK</div>
<div class="t" style="left:397.6px;top:445.12px;font-size:7.3px;letter-spacing:0.14px;-webkit-text-stroke:0.1px #231f20;transform-origin:19.6px 6.18px;transform:rotate(-45deg) translateX(-19.6px) scaleX(0.75) translateX(19.6px)">LT-HSC</div>
<div class="t" style="left:417px;top:445.12px;font-size:7.3px;letter-spacing:-0.13px;-webkit-text-stroke:0.1px #231f20;transform-origin:19.6px 6.18px;transform:rotate(-45deg) translateX(-19.6px) scaleX(0.75) translateX(19.6px)">ST-HSC</div>
<div class="t" style="left:443.88px;top:445.12px;font-size:7.3px;letter-spacing:0.25px;-webkit-text-stroke:0.1px #231f20;transform-origin:11.42px 6.18px;transform:rotate(-45deg) translateX(-11.42px) scaleX(0.70) translateX(11.42px)">MPP</div>
<div class="t" style="left:307.8px;top:426.45px;font-size:8.8px;-webkit-text-stroke:0.3px #231f20;transform-origin:0px 7.45px;transform:rotate(-90deg) translateX(-0px) scaleX(0.73) translateX(0px);will-change:transform">%CD45.2</div>
<div class="t" style="left:307.8px;top:397.05px;font-size:8.8px;font-style:italic;-webkit-text-stroke:0.3px #231f20;transform-origin:0px 7.45px;transform:rotate(-90deg) translateX(-0px) scaleX(0.68) translateX(0px);will-change:transform">Ppm1d</div>
<div class="t" style="left:304.4px;top:380.83px;font-size:5.4px;font-style:italic;-webkit-text-stroke:0.3px #231f20;transform-origin:0px 4.57px;transform:rotate(-90deg) translateX(-0px) scaleX(1.17) translateX(0px);will-change:transform">T476*/+</div>
<div class="t" style="left:27.8px;top:644.15px;font-size:8.8px;-webkit-text-stroke:0.3px #231f20;transform-origin:0px 7.45px;transform:rotate(-90deg) translateX(-0px) scaleX(0.75) translateX(0px);will-change:transform">PB CD45.2% chimerism</div>
<div class="t" style="left:37.6px;top:644.75px;font-size:8.8px;-webkit-text-stroke:0.3px #231f20;transform-origin:0px 7.45px;transform:rotate(-90deg) translateX(-0px) scaleX(0.75) translateX(0px);will-change:transform">normalized to LSK input</div>
<div class="t" style="left:196px;top:643.55px;font-size:8.8px;-webkit-text-stroke:0.3px #231f20;transform-origin:0px 7.45px;transform:rotate(-90deg) translateX(-0px) scaleX(0.74) translateX(0px);will-change:transform">PB CD45.2% chimerism</div>
<div class="t" style="left:206.4px;top:644.05px;font-size:8.8px;-webkit-text-stroke:0.3px #231f20;transform-origin:0px 7.45px;transform:rotate(-90deg) translateX(-0px) scaleX(0.76) translateX(0px);will-change:transform">normalized to LSK input</div>
<div class="t" style="left:369px;top:644.65px;font-size:8.8px;-webkit-text-stroke:0.3px #231f20;transform-origin:0px 7.45px;transform:rotate(-90deg) translateX(-0px) scaleX(0.75) translateX(0px);will-change:transform">PB CD45.2% chimerism</div>
<div class="t" style="left:379.4px;top:644.65px;font-size:8.8px;-webkit-text-stroke:0.3px #231f20;transform-origin:0px 7.45px;transform:rotate(-90deg) translateX(-0px) scaleX(0.74) translateX(0px);will-change:transform">normalized to LSK input</div>
</div>
</body></html>
